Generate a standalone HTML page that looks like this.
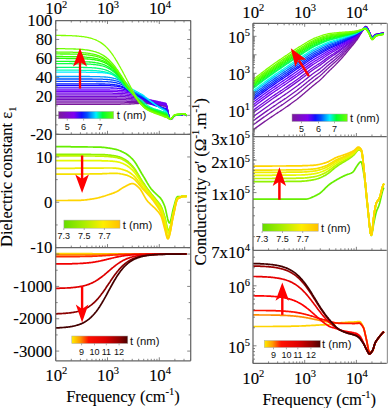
<!DOCTYPE html>
<html><head><meta charset="utf-8"><style>
html,body{margin:0;padding:0;background:#fff;width:388px;height:408px;overflow:hidden}
svg{display:block}
.tk{font-family:"Liberation Serif",serif;font-size:16.8px;fill:#000;stroke:#000;stroke-width:0.12px}
.tt{font-family:"Liberation Serif",serif;font-size:16.5px;fill:#000;stroke:#000;stroke-width:0.1px}
.sup,.sub{font-size:10.5px}
.cb{font-family:"Liberation Sans",sans-serif;font-size:9px;fill:#111}
.tn{font-family:"Liberation Sans",sans-serif;font-size:11.3px;fill:#111}
</style></head><body>
<svg width="388" height="408" viewBox="0 0 388 408">
<rect width="388" height="408" fill="#fff"/>
<defs>
<clipPath id="cL1"><rect x="55.70" y="20.50" width="135.00" height="113.80"/></clipPath>
<clipPath id="cL2"><rect x="55.70" y="134.30" width="135.00" height="113.30"/></clipPath>
<clipPath id="cL3"><rect x="55.70" y="247.60" width="135.00" height="113.20"/></clipPath>
<clipPath id="cR1"><rect x="253.00" y="23.30" width="133.80" height="113.20"/></clipPath>
<clipPath id="cR2"><rect x="253.00" y="136.50" width="133.80" height="113.80"/></clipPath>
<clipPath id="cR3"><rect x="253.00" y="250.30" width="133.80" height="113.10"/></clipPath>
<linearGradient id="gGY2" x1="0" x2="1" y1="0" y2="0"><stop offset="0.000" stop-color="#66dd00"/><stop offset="0.350" stop-color="#a8ee00"/><stop offset="0.700" stop-color="#ffee00"/><stop offset="1.000" stop-color="#ffc000"/></linearGradient>
<linearGradient id="gRain" x1="0" x2="1" y1="0" y2="0"><stop offset="0.000" stop-color="#7a1a9a"/><stop offset="0.280" stop-color="#8000f0"/><stop offset="0.420" stop-color="#1010ff"/><stop offset="0.520" stop-color="#0050ff"/><stop offset="0.680" stop-color="#00f0ff"/><stop offset="0.800" stop-color="#00ff30"/><stop offset="1.000" stop-color="#70ff00"/></linearGradient>
<linearGradient id="gGY" x1="0" x2="1" y1="0" y2="0"><stop offset="0.000" stop-color="#66ee00"/><stop offset="0.500" stop-color="#e8fa00"/><stop offset="1.000" stop-color="#ffd400"/></linearGradient>
<linearGradient id="gHot" x1="0" x2="1" y1="0" y2="0"><stop offset="0.000" stop-color="#ffee00"/><stop offset="0.150" stop-color="#ff9900"/><stop offset="0.300" stop-color="#ff1000"/><stop offset="0.600" stop-color="#e00000"/><stop offset="0.850" stop-color="#900000"/><stop offset="1.000" stop-color="#4a0000"/></linearGradient>
</defs>
<path d="M55.7 104.3L56.4 104.3L57.1 104.3L57.8 104.3L58.5 104.3L59.2 104.3L59.9 104.3L60.6 104.3L61.3 104.3L62.0 104.3L62.7 104.3L63.4 104.3L64.1 104.3L64.8 104.3L65.5 104.3L66.2 104.3L66.9 104.3L67.6 104.3L68.3 104.3L69.0 104.3L69.7 104.3L70.4 104.3L71.1 104.3L71.8 104.3L72.5 104.3L73.2 104.3L73.9 104.3L74.6 104.3L75.3 104.3L76.0 104.3L76.7 104.3L77.4 104.3L78.1 104.3L78.8 104.3L79.5 104.3L80.2 104.3L80.9 104.3L81.6 104.3L82.3 104.3L83.0 104.3L83.7 104.3L84.4 104.3L85.1 104.3L85.8 104.3L86.5 104.3L87.2 104.3L87.9 104.3L88.6 104.3L89.3 104.3L90.0 104.3L90.7 104.3L91.4 104.3L92.1 104.3L92.8 104.3L93.5 104.3L94.2 104.3L94.9 104.3L95.6 104.3L96.3 104.3L97.0 104.3L97.7 104.3L98.4 104.3L99.1 104.3L99.8 104.3L100.5 104.3L101.2 104.3L101.9 104.3L102.6 104.3L103.3 104.3L104.0 104.3L104.7 104.3L105.4 104.3L106.1 104.3L106.8 104.3L107.5 104.3L108.2 104.3L108.9 104.3L109.6 104.3L110.3 104.3L111.0 104.3L111.7 104.3L112.4 104.3L113.1 104.3L113.8 104.3L114.5 104.3L115.2 104.3L115.9 104.3L116.6 104.3L117.3 104.3L118.0 104.3L118.7 104.3L119.4 104.3L120.1 104.3L120.8 104.2L121.5 104.2L122.2 104.2L122.9 104.2L123.6 104.2L124.3 104.2L125.0 104.2L125.7 104.2L126.4 104.1L127.1 104.1L127.8 104.1L128.5 104.1L129.2 104.0L129.9 104.0L130.6 104.0L131.3 103.9L132.0 103.9L132.7 103.9L133.4 103.8L134.1 103.8L134.8 103.7L135.5 103.7L136.2 103.6L136.9 103.6L137.6 103.5L138.3 103.5L139.0 103.4L139.7 103.3L140.4 103.3L141.1 103.2L141.8 103.2L142.5 103.2L143.2 103.2L143.9 103.3L144.6 103.3L145.3 103.4L146.0 103.5L146.7 103.6L147.4 103.6L148.1 103.7L148.8 103.8L149.5 103.9L150.2 104.0L150.9 104.1L151.6 104.2L152.3 104.3L153.0 104.4L153.7 104.6L154.4 104.7L155.1 104.8L155.8 104.9L156.5 105.0L157.2 105.1L157.9 105.2L158.6 105.3L159.3 105.4L160.0 105.5L160.7 105.6L161.4 105.7L162.1 105.8L162.8 105.9L163.5 106.0L164.2 106.1L164.9 106.2L165.6 106.3L166.3 107.1L167.0 109.1L167.7 112.0L168.4 114.8L169.1 117.3L169.8 119.0L170.5 119.5L171.2 119.2L171.9 118.7L172.6 117.9L173.3 117.0L174.0 116.3L174.7 115.7L175.4 115.4L176.1 115.3L176.8 115.3L177.5 115.2L178.2 115.2L178.9 115.1L179.6 115.1L180.3 115.1L181.0 115.0L181.7 114.9L182.4 114.7L183.1 114.5L183.8 114.4L184.5 114.4L185.2 114.8L185.9 115.3L186.6 115.8" stroke="#7a1a9a" stroke-width="1.30" fill="none" clip-path="url(#cL1)" stroke-linejoin="round"/>
<path d="M55.7 102.8L56.4 102.8L57.1 102.8L57.8 102.8L58.5 102.8L59.2 102.8L59.9 102.8L60.6 102.8L61.3 102.8L62.0 102.8L62.7 102.8L63.4 102.8L64.1 102.8L64.8 102.8L65.5 102.8L66.2 102.8L66.9 102.8L67.6 102.8L68.3 102.8L69.0 102.8L69.7 102.8L70.4 102.8L71.1 102.8L71.8 102.8L72.5 102.8L73.2 102.8L73.9 102.8L74.6 102.8L75.3 102.8L76.0 102.8L76.7 102.8L77.4 102.8L78.1 102.8L78.8 102.8L79.5 102.8L80.2 102.8L80.9 102.8L81.6 102.8L82.3 102.8L83.0 102.8L83.7 102.8L84.4 102.8L85.1 102.8L85.8 102.8L86.5 102.8L87.2 102.8L87.9 102.8L88.6 102.8L89.3 102.8L90.0 102.8L90.7 102.8L91.4 102.8L92.1 102.8L92.8 102.8L93.5 102.8L94.2 102.8L94.9 102.8L95.6 102.8L96.3 102.8L97.0 102.8L97.7 102.8L98.4 102.8L99.1 102.8L99.8 102.8L100.5 102.8L101.2 102.8L101.9 102.8L102.6 102.8L103.3 102.8L104.0 102.8L104.7 102.8L105.4 102.8L106.1 102.8L106.8 102.8L107.5 102.8L108.2 102.8L108.9 102.8L109.6 102.8L110.3 102.8L111.0 102.8L111.7 102.8L112.4 102.8L113.1 102.8L113.8 102.8L114.5 102.8L115.2 102.8L115.9 102.8L116.6 102.8L117.3 102.8L118.0 102.8L118.7 102.8L119.4 102.8L120.1 102.8L120.8 102.8L121.5 102.8L122.2 102.8L122.9 102.8L123.6 102.8L124.3 102.8L125.0 102.7L125.7 102.7L126.4 102.7L127.1 102.7L127.8 102.7L128.5 102.7L129.2 102.7L129.9 102.7L130.6 102.7L131.3 102.7L132.0 102.6L132.7 102.6L133.4 102.6L134.1 102.6L134.8 102.6L135.5 102.5L136.2 102.5L136.9 102.5L137.6 102.5L138.3 102.5L139.0 102.4L139.7 102.4L140.4 102.4L141.1 102.4L141.8 102.4L142.5 102.4L143.2 102.5L143.9 102.6L144.6 102.6L145.3 102.7L146.0 102.8L146.7 102.9L147.4 103.1L148.1 103.2L148.8 103.3L149.5 103.4L150.2 103.5L150.9 103.6L151.6 103.7L152.3 103.8L153.0 103.9L153.7 104.1L154.4 104.2L155.1 104.3L155.8 104.4L156.5 104.5L157.2 104.6L157.9 104.7L158.6 104.8L159.3 104.9L160.0 105.1L160.7 105.2L161.4 105.3L162.1 105.4L162.8 105.5L163.5 105.6L164.2 105.7L164.9 105.9L165.6 106.0L166.3 106.7L167.0 108.8L167.7 111.7L168.4 114.7L169.1 117.2L169.8 119.0L170.5 119.4L171.2 119.2L171.9 118.6L172.6 117.9L173.3 117.0L174.0 116.2L174.7 115.7L175.4 115.4L176.1 115.3L176.8 115.2L177.5 115.2L178.2 115.2L178.9 115.1L179.6 115.1L180.3 115.0L181.0 115.0L181.7 114.8L182.4 114.7L183.1 114.5L183.8 114.4L184.5 114.4L185.2 114.8L185.9 115.3L186.6 115.7" stroke="#7917a5" stroke-width="1.30" fill="none" clip-path="url(#cL1)" stroke-linejoin="round"/>
<path d="M55.7 101.2L56.4 101.2L57.1 101.2L57.8 101.2L58.5 101.2L59.2 101.2L59.9 101.2L60.6 101.2L61.3 101.2L62.0 101.2L62.7 101.2L63.4 101.2L64.1 101.2L64.8 101.2L65.5 101.2L66.2 101.2L66.9 101.2L67.6 101.2L68.3 101.2L69.0 101.2L69.7 101.2L70.4 101.2L71.1 101.2L71.8 101.2L72.5 101.2L73.2 101.2L73.9 101.2L74.6 101.2L75.3 101.2L76.0 101.2L76.7 101.2L77.4 101.2L78.1 101.2L78.8 101.2L79.5 101.2L80.2 101.2L80.9 101.2L81.6 101.2L82.3 101.2L83.0 101.2L83.7 101.2L84.4 101.2L85.1 101.2L85.8 101.2L86.5 101.2L87.2 101.2L87.9 101.2L88.6 101.2L89.3 101.2L90.0 101.2L90.7 101.2L91.4 101.2L92.1 101.2L92.8 101.2L93.5 101.2L94.2 101.2L94.9 101.2L95.6 101.2L96.3 101.2L97.0 101.2L97.7 101.2L98.4 101.2L99.1 101.2L99.8 101.2L100.5 101.2L101.2 101.2L101.9 101.2L102.6 101.2L103.3 101.2L104.0 101.2L104.7 101.2L105.4 101.2L106.1 101.2L106.8 101.2L107.5 101.2L108.2 101.2L108.9 101.2L109.6 101.2L110.3 101.2L111.0 101.2L111.7 101.2L112.4 101.2L113.1 101.2L113.8 101.2L114.5 101.2L115.2 101.2L115.9 101.2L116.6 101.2L117.3 101.2L118.0 101.2L118.7 101.2L119.4 101.2L120.1 101.2L120.8 101.2L121.5 101.2L122.2 101.2L122.9 101.2L123.6 101.2L124.3 101.2L125.0 101.2L125.7 101.2L126.4 101.2L127.1 101.3L127.8 101.3L128.5 101.3L129.2 101.3L129.9 101.3L130.6 101.3L131.3 101.3L132.0 101.3L132.7 101.3L133.4 101.3L134.1 101.4L134.8 101.4L135.5 101.4L136.2 101.4L136.9 101.4L137.6 101.4L138.3 101.4L139.0 101.5L139.7 101.5L140.4 101.5L141.1 101.5L141.8 101.5L142.5 101.6L143.2 101.7L143.9 101.8L144.6 101.9L145.3 102.1L146.0 102.2L146.7 102.3L147.4 102.5L148.1 102.6L148.8 102.7L149.5 102.9L150.2 103.0L150.9 103.1L151.6 103.2L152.3 103.3L153.0 103.4L153.7 103.6L154.4 103.7L155.1 103.8L155.8 103.9L156.5 104.0L157.2 104.2L157.9 104.3L158.6 104.4L159.3 104.5L160.0 104.6L160.7 104.7L161.4 104.9L162.1 105.0L162.8 105.1L163.5 105.2L164.2 105.3L164.9 105.5L165.6 105.6L166.3 106.3L167.0 108.5L167.7 111.5L168.4 114.5L169.1 117.1L169.8 118.9L170.5 119.4L171.2 119.2L171.9 118.6L172.6 117.8L173.3 117.0L174.0 116.2L174.7 115.6L175.4 115.3L176.1 115.3L176.8 115.2L177.5 115.2L178.2 115.1L178.9 115.1L179.6 115.1L180.3 115.0L181.0 114.9L181.7 114.8L182.4 114.6L183.1 114.5L183.8 114.4L184.5 114.4L185.2 114.7L185.9 115.3L186.6 115.7" stroke="#7814b0" stroke-width="1.30" fill="none" clip-path="url(#cL1)" stroke-linejoin="round"/>
<path d="M55.7 99.6L56.4 99.6L57.1 99.6L57.8 99.6L58.5 99.6L59.2 99.6L59.9 99.6L60.6 99.6L61.3 99.6L62.0 99.6L62.7 99.6L63.4 99.6L64.1 99.6L64.8 99.6L65.5 99.6L66.2 99.6L66.9 99.6L67.6 99.6L68.3 99.6L69.0 99.6L69.7 99.6L70.4 99.6L71.1 99.6L71.8 99.6L72.5 99.6L73.2 99.6L73.9 99.6L74.6 99.6L75.3 99.6L76.0 99.6L76.7 99.6L77.4 99.6L78.1 99.6L78.8 99.6L79.5 99.6L80.2 99.6L80.9 99.6L81.6 99.6L82.3 99.6L83.0 99.6L83.7 99.6L84.4 99.6L85.1 99.6L85.8 99.6L86.5 99.6L87.2 99.6L87.9 99.6L88.6 99.6L89.3 99.6L90.0 99.6L90.7 99.6L91.4 99.6L92.1 99.6L92.8 99.6L93.5 99.6L94.2 99.6L94.9 99.6L95.6 99.6L96.3 99.6L97.0 99.6L97.7 99.6L98.4 99.6L99.1 99.6L99.8 99.6L100.5 99.6L101.2 99.6L101.9 99.6L102.6 99.6L103.3 99.6L104.0 99.6L104.7 99.6L105.4 99.6L106.1 99.6L106.8 99.6L107.5 99.6L108.2 99.6L108.9 99.6L109.6 99.6L110.3 99.6L111.0 99.6L111.7 99.6L112.4 99.6L113.1 99.6L113.8 99.6L114.5 99.6L115.2 99.6L115.9 99.6L116.6 99.6L117.3 99.6L118.0 99.6L118.7 99.6L119.4 99.6L120.1 99.6L120.8 99.7L121.5 99.7L122.2 99.7L122.9 99.7L123.6 99.7L124.3 99.7L125.0 99.7L125.7 99.7L126.4 99.8L127.1 99.8L127.8 99.8L128.5 99.8L129.2 99.9L129.9 99.9L130.6 99.9L131.3 100.0L132.0 100.0L132.7 100.0L133.4 100.1L134.1 100.1L134.8 100.2L135.5 100.2L136.2 100.3L136.9 100.3L137.6 100.4L138.3 100.4L139.0 100.5L139.7 100.5L140.4 100.6L141.1 100.6L141.8 100.7L142.5 100.8L143.2 100.9L143.9 101.1L144.6 101.3L145.3 101.4L146.0 101.6L146.7 101.7L147.4 101.9L148.1 102.0L148.8 102.2L149.5 102.3L150.2 102.4L150.9 102.6L151.6 102.7L152.3 102.8L153.0 102.9L153.7 103.1L154.4 103.2L155.1 103.3L155.8 103.4L156.5 103.6L157.2 103.7L157.9 103.8L158.6 103.9L159.3 104.1L160.0 104.2L160.7 104.3L161.4 104.4L162.1 104.5L162.8 104.7L163.5 104.8L164.2 104.9L164.9 105.1L165.6 105.2L166.3 106.0L167.0 108.1L167.7 111.3L168.4 114.4L169.1 117.1L169.8 118.9L170.5 119.4L171.2 119.1L171.9 118.6L172.6 117.8L173.3 117.0L174.0 116.2L174.7 115.6L175.4 115.3L176.1 115.2L176.8 115.2L177.5 115.1L178.2 115.1L178.9 115.1L179.6 115.0L180.3 115.0L181.0 114.9L181.7 114.8L182.4 114.6L183.1 114.4L183.8 114.3L184.5 114.4L185.2 114.7L185.9 115.2L186.6 115.7" stroke="#7711bb" stroke-width="1.30" fill="none" clip-path="url(#cL1)" stroke-linejoin="round"/>
<path d="M55.7 98.0L56.4 98.0L57.1 98.0L57.8 98.0L58.5 98.0L59.2 98.0L59.9 98.0L60.6 98.0L61.3 98.0L62.0 98.0L62.7 98.0L63.4 98.0L64.1 98.0L64.8 98.0L65.5 98.0L66.2 98.0L66.9 98.0L67.6 98.0L68.3 98.0L69.0 98.0L69.7 98.0L70.4 98.0L71.1 98.0L71.8 98.0L72.5 98.0L73.2 98.0L73.9 98.0L74.6 98.0L75.3 98.0L76.0 98.0L76.7 98.0L77.4 98.0L78.1 98.0L78.8 98.0L79.5 98.0L80.2 98.0L80.9 98.0L81.6 98.0L82.3 98.0L83.0 98.0L83.7 98.0L84.4 98.0L85.1 98.0L85.8 98.0L86.5 98.0L87.2 98.0L87.9 98.0L88.6 98.0L89.3 98.0L90.0 98.0L90.7 98.0L91.4 98.0L92.1 98.0L92.8 98.0L93.5 98.0L94.2 98.0L94.9 98.0L95.6 98.0L96.3 98.0L97.0 98.0L97.7 98.0L98.4 98.0L99.1 98.0L99.8 98.0L100.5 98.0L101.2 98.0L101.9 98.0L102.6 98.0L103.3 98.0L104.0 98.0L104.7 98.0L105.4 98.0L106.1 98.0L106.8 98.0L107.5 98.0L108.2 98.0L108.9 98.0L109.6 98.0L110.3 98.0L111.0 98.0L111.7 98.0L112.4 98.0L113.1 98.0L113.8 98.0L114.5 98.0L115.2 98.0L115.9 98.0L116.6 98.0L117.3 98.1L118.0 98.1L118.7 98.1L119.4 98.1L120.1 98.1L120.8 98.1L121.5 98.1L122.2 98.1L122.9 98.1L123.6 98.2L124.3 98.2L125.0 98.2L125.7 98.2L126.4 98.3L127.1 98.3L127.8 98.4L128.5 98.4L129.2 98.5L129.9 98.5L130.6 98.6L131.3 98.6L132.0 98.7L132.7 98.8L133.4 98.8L134.1 98.9L134.8 99.0L135.5 99.1L136.2 99.2L136.9 99.3L137.6 99.3L138.3 99.4L139.0 99.5L139.7 99.6L140.4 99.7L141.1 99.8L141.8 99.8L142.5 100.0L143.2 100.2L143.9 100.4L144.6 100.6L145.3 100.8L146.0 101.0L146.7 101.1L147.4 101.3L148.1 101.5L148.8 101.6L149.5 101.8L150.2 101.9L150.9 102.1L151.6 102.2L152.3 102.3L153.0 102.5L153.7 102.6L154.4 102.7L155.1 102.8L155.8 103.0L156.5 103.1L157.2 103.2L157.9 103.4L158.6 103.5L159.3 103.6L160.0 103.7L160.7 103.9L161.4 104.0L162.1 104.1L162.8 104.3L163.5 104.4L164.2 104.5L164.9 104.7L165.6 104.8L166.3 105.6L167.0 107.8L167.7 111.1L168.4 114.2L169.1 117.0L169.8 118.9L170.5 119.4L171.2 119.1L171.9 118.5L172.6 117.8L173.3 116.9L174.0 116.2L174.7 115.6L175.4 115.3L176.1 115.2L176.8 115.1L177.5 115.1L178.2 115.1L178.9 115.0L179.6 115.0L180.3 114.9L181.0 114.9L181.7 114.8L182.4 114.6L183.1 114.4L183.8 114.3L184.5 114.3L185.2 114.7L185.9 115.2L186.6 115.6" stroke="#760fc6" stroke-width="1.30" fill="none" clip-path="url(#cL1)" stroke-linejoin="round"/>
<path d="M55.7 96.4L56.4 96.4L57.1 96.4L57.8 96.4L58.5 96.4L59.2 96.4L59.9 96.4L60.6 96.4L61.3 96.4L62.0 96.4L62.7 96.4L63.4 96.4L64.1 96.4L64.8 96.4L65.5 96.4L66.2 96.4L66.9 96.4L67.6 96.4L68.3 96.4L69.0 96.4L69.7 96.4L70.4 96.4L71.1 96.4L71.8 96.4L72.5 96.4L73.2 96.4L73.9 96.4L74.6 96.4L75.3 96.4L76.0 96.4L76.7 96.4L77.4 96.4L78.1 96.4L78.8 96.4L79.5 96.4L80.2 96.4L80.9 96.4L81.6 96.4L82.3 96.4L83.0 96.4L83.7 96.4L84.4 96.4L85.1 96.4L85.8 96.4L86.5 96.4L87.2 96.4L87.9 96.4L88.6 96.4L89.3 96.4L90.0 96.4L90.7 96.4L91.4 96.4L92.1 96.4L92.8 96.4L93.5 96.4L94.2 96.4L94.9 96.4L95.6 96.4L96.3 96.4L97.0 96.4L97.7 96.4L98.4 96.4L99.1 96.4L99.8 96.4L100.5 96.4L101.2 96.4L101.9 96.4L102.6 96.4L103.3 96.4L104.0 96.4L104.7 96.4L105.4 96.4L106.1 96.4L106.8 96.4L107.5 96.4L108.2 96.4L108.9 96.4L109.6 96.4L110.3 96.4L111.0 96.4L111.7 96.4L112.4 96.4L113.1 96.4L113.8 96.4L114.5 96.4L115.2 96.4L115.9 96.5L116.6 96.5L117.3 96.5L118.0 96.5L118.7 96.5L119.4 96.5L120.1 96.5L120.8 96.5L121.5 96.6L122.2 96.6L122.9 96.6L123.6 96.6L124.3 96.7L125.0 96.7L125.7 96.8L126.4 96.8L127.1 96.9L127.8 96.9L128.5 97.0L129.2 97.1L129.9 97.1L130.6 97.2L131.3 97.3L132.0 97.4L132.7 97.5L133.4 97.6L134.1 97.7L134.8 97.8L135.5 98.0L136.2 98.1L136.9 98.2L137.6 98.3L138.3 98.4L139.0 98.6L139.7 98.7L140.4 98.8L141.1 98.9L141.8 99.0L142.5 99.2L143.2 99.4L143.9 99.7L144.6 99.9L145.3 100.1L146.0 100.3L146.7 100.6L147.4 100.7L148.1 100.9L148.8 101.1L149.5 101.2L150.2 101.4L150.9 101.5L151.6 101.7L152.3 101.8L153.0 102.0L153.7 102.1L154.4 102.2L155.1 102.4L155.8 102.5L156.5 102.6L157.2 102.8L157.9 102.9L158.6 103.0L159.3 103.2L160.0 103.3L160.7 103.4L161.4 103.6L162.1 103.7L162.8 103.8L163.5 104.0L164.2 104.1L164.9 104.3L165.6 104.4L166.3 105.2L167.0 107.5L167.7 110.8L168.4 114.1L169.1 116.9L169.8 118.9L170.5 119.4L171.2 119.1L171.9 118.5L172.6 117.7L173.3 116.9L174.0 116.1L174.7 115.5L175.4 115.2L176.1 115.2L176.8 115.1L177.5 115.1L178.2 115.0L178.9 115.0L179.6 115.0L180.3 114.9L181.0 114.8L181.7 114.7L182.4 114.6L183.1 114.4L183.8 114.3L184.5 114.3L185.2 114.6L185.9 115.2L186.6 115.6" stroke="#750cd1" stroke-width="1.30" fill="none" clip-path="url(#cL1)" stroke-linejoin="round"/>
<path d="M55.7 94.8L56.4 94.8L57.1 94.8L57.8 94.8L58.5 94.8L59.2 94.8L59.9 94.8L60.6 94.8L61.3 94.8L62.0 94.8L62.7 94.8L63.4 94.8L64.1 94.8L64.8 94.8L65.5 94.8L66.2 94.8L66.9 94.8L67.6 94.8L68.3 94.8L69.0 94.8L69.7 94.8L70.4 94.8L71.1 94.8L71.8 94.8L72.5 94.8L73.2 94.8L73.9 94.8L74.6 94.8L75.3 94.8L76.0 94.8L76.7 94.8L77.4 94.8L78.1 94.8L78.8 94.8L79.5 94.8L80.2 94.8L80.9 94.8L81.6 94.8L82.3 94.8L83.0 94.8L83.7 94.8L84.4 94.8L85.1 94.8L85.8 94.8L86.5 94.8L87.2 94.8L87.9 94.8L88.6 94.8L89.3 94.8L90.0 94.8L90.7 94.8L91.4 94.8L92.1 94.8L92.8 94.8L93.5 94.8L94.2 94.8L94.9 94.8L95.6 94.8L96.3 94.8L97.0 94.8L97.7 94.8L98.4 94.8L99.1 94.8L99.8 94.8L100.5 94.8L101.2 94.8L101.9 94.8L102.6 94.8L103.3 94.8L104.0 94.8L104.7 94.8L105.4 94.8L106.1 94.8L106.8 94.8L107.5 94.8L108.2 94.8L108.9 94.8L109.6 94.8L110.3 94.8L111.0 94.8L111.7 94.8L112.4 94.8L113.1 94.8L113.8 94.8L114.5 94.9L115.2 94.9L115.9 94.9L116.6 94.9L117.3 94.9L118.0 94.9L118.7 94.9L119.4 94.9L120.1 95.0L120.8 95.0L121.5 95.0L122.2 95.0L122.9 95.1L123.6 95.1L124.3 95.2L125.0 95.2L125.7 95.3L126.4 95.3L127.1 95.4L127.8 95.5L128.5 95.6L129.2 95.7L129.9 95.8L130.6 95.9L131.3 96.0L132.0 96.1L132.7 96.2L133.4 96.4L134.1 96.5L134.8 96.7L135.5 96.8L136.2 97.0L136.9 97.1L137.6 97.3L138.3 97.5L139.0 97.6L139.7 97.8L140.4 97.9L141.1 98.1L141.8 98.2L142.5 98.5L143.2 98.7L143.9 99.0L144.6 99.2L145.3 99.5L146.0 99.7L146.7 100.0L147.4 100.2L148.1 100.4L148.8 100.5L149.5 100.7L150.2 100.9L150.9 101.0L151.6 101.2L152.3 101.3L153.0 101.5L153.7 101.6L154.4 101.7L155.1 101.9L155.8 102.0L156.5 102.2L157.2 102.3L157.9 102.4L158.6 102.6L159.3 102.7L160.0 102.9L160.7 103.0L161.4 103.1L162.1 103.3L162.8 103.4L163.5 103.6L164.2 103.7L164.9 103.9L165.6 104.0L166.3 104.9L167.0 107.2L167.7 110.6L168.4 114.0L169.1 116.9L169.8 118.8L170.5 119.3L171.2 119.1L171.9 118.5L172.6 117.7L173.3 116.9L174.0 116.1L174.7 115.5L175.4 115.2L176.1 115.1L176.8 115.1L177.5 115.0L178.2 115.0L178.9 115.0L179.6 114.9L180.3 114.9L181.0 114.8L181.7 114.7L182.4 114.5L183.1 114.4L183.8 114.2L184.5 114.3L185.2 114.6L185.9 115.1L186.6 115.6" stroke="#7309dd" stroke-width="1.30" fill="none" clip-path="url(#cL1)" stroke-linejoin="round"/>
<path d="M55.7 93.2L56.4 93.2L57.1 93.2L57.8 93.2L58.5 93.2L59.2 93.2L59.9 93.2L60.6 93.2L61.3 93.2L62.0 93.2L62.7 93.2L63.4 93.2L64.1 93.2L64.8 93.2L65.5 93.2L66.2 93.2L66.9 93.2L67.6 93.2L68.3 93.2L69.0 93.2L69.7 93.2L70.4 93.2L71.1 93.2L71.8 93.2L72.5 93.2L73.2 93.2L73.9 93.2L74.6 93.2L75.3 93.2L76.0 93.2L76.7 93.2L77.4 93.2L78.1 93.2L78.8 93.2L79.5 93.2L80.2 93.2L80.9 93.2L81.6 93.2L82.3 93.2L83.0 93.2L83.7 93.2L84.4 93.2L85.1 93.2L85.8 93.2L86.5 93.2L87.2 93.2L87.9 93.2L88.6 93.2L89.3 93.2L90.0 93.2L90.7 93.2L91.4 93.2L92.1 93.2L92.8 93.2L93.5 93.2L94.2 93.2L94.9 93.2L95.6 93.2L96.3 93.2L97.0 93.2L97.7 93.2L98.4 93.2L99.1 93.2L99.8 93.2L100.5 93.2L101.2 93.2L101.9 93.2L102.6 93.2L103.3 93.2L104.0 93.2L104.7 93.2L105.4 93.2L106.1 93.2L106.8 93.2L107.5 93.2L108.2 93.2L108.9 93.2L109.6 93.2L110.3 93.2L111.0 93.2L111.7 93.2L112.4 93.2L113.1 93.3L113.8 93.3L114.5 93.3L115.2 93.3L115.9 93.3L116.6 93.3L117.3 93.3L118.0 93.3L118.7 93.4L119.4 93.4L120.1 93.4L120.8 93.4L121.5 93.5L122.2 93.5L122.9 93.6L123.6 93.6L124.3 93.7L125.0 93.7L125.7 93.8L126.4 93.9L127.1 94.0L127.8 94.1L128.5 94.2L129.2 94.3L129.9 94.4L130.6 94.5L131.3 94.7L132.0 94.8L132.7 95.0L133.4 95.2L134.1 95.4L134.8 95.5L135.5 95.7L136.2 95.9L136.9 96.1L137.6 96.3L138.3 96.5L139.0 96.7L139.7 96.9L140.4 97.1L141.1 97.2L141.8 97.4L142.5 97.7L143.2 98.0L143.9 98.3L144.6 98.6L145.3 98.9L146.0 99.1L146.7 99.4L147.4 99.6L148.1 99.8L148.8 100.0L149.5 100.2L150.2 100.3L150.9 100.5L151.6 100.7L152.3 100.8L153.0 101.0L153.7 101.1L154.4 101.2L155.1 101.4L155.8 101.5L156.5 101.7L157.2 101.8L157.9 102.0L158.6 102.1L159.3 102.3L160.0 102.4L160.7 102.6L161.4 102.7L162.1 102.9L162.8 103.0L163.5 103.2L164.2 103.3L164.9 103.5L165.6 103.6L166.3 104.5L167.0 106.9L167.7 110.4L168.4 113.8L169.1 116.8L169.8 118.8L170.5 119.3L171.2 119.0L171.9 118.4L172.6 117.7L173.3 116.8L174.0 116.1L174.7 115.5L175.4 115.2L176.1 115.1L176.8 115.0L177.5 115.0L178.2 115.0L178.9 114.9L179.6 114.9L180.3 114.8L181.0 114.8L181.7 114.7L182.4 114.5L183.1 114.3L183.8 114.2L184.5 114.2L185.2 114.6L185.9 115.1L186.6 115.5" stroke="#7206e8" stroke-width="1.30" fill="none" clip-path="url(#cL1)" stroke-linejoin="round"/>
<path d="M55.7 91.6L56.4 91.6L57.1 91.6L57.8 91.6L58.5 91.6L59.2 91.6L59.9 91.6L60.6 91.6L61.3 91.6L62.0 91.6L62.7 91.6L63.4 91.6L64.1 91.6L64.8 91.6L65.5 91.6L66.2 91.6L66.9 91.6L67.6 91.6L68.3 91.6L69.0 91.6L69.7 91.6L70.4 91.6L71.1 91.6L71.8 91.6L72.5 91.6L73.2 91.6L73.9 91.6L74.6 91.6L75.3 91.6L76.0 91.6L76.7 91.6L77.4 91.6L78.1 91.6L78.8 91.6L79.5 91.6L80.2 91.6L80.9 91.6L81.6 91.6L82.3 91.6L83.0 91.6L83.7 91.6L84.4 91.6L85.1 91.6L85.8 91.6L86.5 91.6L87.2 91.6L87.9 91.6L88.6 91.6L89.3 91.6L90.0 91.6L90.7 91.6L91.4 91.6L92.1 91.6L92.8 91.6L93.5 91.6L94.2 91.6L94.9 91.6L95.6 91.6L96.3 91.6L97.0 91.6L97.7 91.6L98.4 91.6L99.1 91.6L99.8 91.6L100.5 91.6L101.2 91.6L101.9 91.6L102.6 91.6L103.3 91.6L104.0 91.6L104.7 91.6L105.4 91.6L106.1 91.6L106.8 91.6L107.5 91.6L108.2 91.6L108.9 91.6L109.6 91.6L110.3 91.6L111.0 91.6L111.7 91.6L112.4 91.7L113.1 91.7L113.8 91.7L114.5 91.7L115.2 91.7L115.9 91.7L116.6 91.7L117.3 91.7L118.0 91.8L118.7 91.8L119.4 91.8L120.1 91.9L120.8 91.9L121.5 91.9L122.2 92.0L122.9 92.0L123.6 92.1L124.3 92.2L125.0 92.2L125.7 92.3L126.4 92.4L127.1 92.5L127.8 92.6L128.5 92.8L129.2 92.9L129.9 93.0L130.6 93.2L131.3 93.4L132.0 93.6L132.7 93.8L133.4 94.0L134.1 94.2L134.8 94.4L135.5 94.6L136.2 94.9L136.9 95.1L137.6 95.3L138.3 95.5L139.0 95.8L139.7 96.0L140.4 96.2L141.1 96.4L141.8 96.6L142.5 96.9L143.2 97.3L143.9 97.6L144.6 97.9L145.3 98.3L146.0 98.5L146.7 98.8L147.4 99.1L148.1 99.3L148.8 99.5L149.5 99.6L150.2 99.8L150.9 100.0L151.6 100.1L152.3 100.3L153.0 100.5L153.7 100.6L154.4 100.8L155.1 100.9L155.8 101.1L156.5 101.2L157.2 101.4L157.9 101.5L158.6 101.7L159.3 101.8L160.0 102.0L160.7 102.1L161.4 102.3L162.1 102.4L162.8 102.6L163.5 102.8L164.2 102.9L164.9 103.1L165.6 103.2L166.3 104.1L167.0 106.6L167.7 110.2L168.4 113.7L169.1 116.7L169.8 118.8L170.5 119.3L171.2 119.0L171.9 118.4L172.6 117.6L173.3 116.8L174.0 116.0L174.7 115.4L175.4 115.2L176.1 115.1L176.8 115.0L177.5 115.0L178.2 114.9L178.9 114.9L179.6 114.9L180.3 114.8L181.0 114.8L181.7 114.6L182.4 114.5L183.1 114.3L183.8 114.2L184.5 114.2L185.2 114.5L185.9 115.1L186.6 115.5" stroke="#7103f3" stroke-width="1.30" fill="none" clip-path="url(#cL1)" stroke-linejoin="round"/>
<path d="M55.7 90.0L56.4 90.0L57.1 90.0L57.8 90.0L58.5 90.0L59.2 90.0L59.9 90.0L60.6 90.0L61.3 90.0L62.0 90.0L62.7 90.0L63.4 90.0L64.1 90.0L64.8 90.0L65.5 90.0L66.2 90.0L66.9 90.0L67.6 90.0L68.3 90.0L69.0 90.0L69.7 90.0L70.4 90.0L71.1 90.0L71.8 90.0L72.5 90.0L73.2 90.0L73.9 90.0L74.6 90.0L75.3 90.0L76.0 90.0L76.7 90.0L77.4 90.0L78.1 90.0L78.8 90.0L79.5 90.0L80.2 90.0L80.9 90.0L81.6 90.0L82.3 90.0L83.0 90.0L83.7 90.0L84.4 90.0L85.1 90.0L85.8 90.0L86.5 90.0L87.2 90.0L87.9 90.0L88.6 90.0L89.3 90.0L90.0 90.0L90.7 90.0L91.4 90.0L92.1 90.0L92.8 90.0L93.5 90.0L94.2 90.0L94.9 90.0L95.6 90.0L96.3 90.0L97.0 90.0L97.7 90.0L98.4 90.0L99.1 90.0L99.8 90.0L100.5 90.0L101.2 90.0L101.9 90.0L102.6 90.0L103.3 90.0L104.0 90.0L104.7 90.0L105.4 90.0L106.1 90.0L106.8 90.0L107.5 90.0L108.2 90.0L108.9 90.0L109.6 90.0L110.3 90.1L111.0 90.1L111.7 90.1L112.4 90.1L113.1 90.1L113.8 90.1L114.5 90.1L115.2 90.1L115.9 90.2L116.6 90.2L117.3 90.2L118.0 90.3L118.7 90.3L119.4 90.3L120.1 90.4L120.8 90.4L121.5 90.5L122.2 90.6L122.9 90.7L123.6 90.7L124.3 90.9L125.0 91.0L125.7 91.1L126.4 91.2L127.1 91.4L127.8 91.6L128.5 91.8L129.2 92.0L129.9 92.2L130.6 92.5L131.3 92.7L132.0 93.0L132.7 93.3L133.4 93.6L134.1 93.9L134.8 94.3L135.5 94.6L136.2 94.9L136.9 95.3L137.6 95.6L138.3 96.0L139.0 96.3L139.7 96.6L140.4 97.0L141.1 97.3L141.8 97.6L142.5 98.0L143.2 98.5L143.9 98.9L144.6 99.3L145.3 99.7L146.0 100.1L146.7 100.4L147.4 100.7L148.1 100.9L148.8 101.1L149.5 101.3L150.2 101.5L150.9 101.7L151.6 101.9L152.3 102.0L153.0 102.2L153.7 102.4L154.4 102.5L155.1 102.7L155.8 102.8L156.5 103.0L157.2 103.1L157.9 103.3L158.6 103.5L159.3 103.6L160.0 103.8L160.7 103.9L161.4 104.1L162.1 104.3L162.8 104.4L163.5 104.6L164.2 104.8L164.9 104.9L165.6 105.0L166.3 105.9L167.0 108.1L167.7 111.2L168.4 114.3L169.1 117.0L169.8 118.8L170.5 119.3L171.2 119.0L171.9 118.4L172.6 117.6L173.3 116.8L174.0 116.0L174.7 115.4L175.4 115.1L176.1 115.0L176.8 115.0L177.5 114.9L178.2 114.9L178.9 114.9L179.6 114.8L180.3 114.8L181.0 114.7L181.7 114.6L182.4 114.4L183.1 114.3L183.8 114.1L184.5 114.2L185.2 114.5L185.9 115.0L186.6 115.5" stroke="#7000fe" stroke-width="1.30" fill="none" clip-path="url(#cL1)" stroke-linejoin="round"/>
<path d="M55.7 87.8L56.4 87.8L57.1 87.8L57.8 87.8L58.5 87.8L59.2 87.8L59.9 87.8L60.6 87.8L61.3 87.8L62.0 87.8L62.7 87.8L63.4 87.8L64.1 87.8L64.8 87.8L65.5 87.8L66.2 87.8L66.9 87.8L67.6 87.8L68.3 87.8L69.0 87.8L69.7 87.8L70.4 87.8L71.1 87.8L71.8 87.8L72.5 87.8L73.2 87.8L73.9 87.8L74.6 87.8L75.3 87.8L76.0 87.8L76.7 87.8L77.4 87.8L78.1 87.8L78.8 87.8L79.5 87.8L80.2 87.8L80.9 87.8L81.6 87.8L82.3 87.8L83.0 87.8L83.7 87.8L84.4 87.8L85.1 87.8L85.8 87.8L86.5 87.8L87.2 87.8L87.9 87.8L88.6 87.8L89.3 87.8L90.0 87.8L90.7 87.8L91.4 87.8L92.1 87.8L92.8 87.8L93.5 87.8L94.2 87.8L94.9 87.8L95.6 87.8L96.3 87.8L97.0 87.8L97.7 87.8L98.4 87.8L99.1 87.8L99.8 87.8L100.5 87.8L101.2 87.8L101.9 87.8L102.6 87.8L103.3 87.8L104.0 87.8L104.7 87.8L105.4 87.9L106.1 87.9L106.8 87.9L107.5 87.9L108.2 87.9L108.9 87.9L109.6 87.9L110.3 87.9L111.0 88.0L111.7 88.0L112.4 88.0L113.1 88.0L113.8 88.1L114.5 88.1L115.2 88.1L115.9 88.2L116.6 88.2L117.3 88.3L118.0 88.4L118.7 88.4L119.4 88.5L120.1 88.6L120.8 88.7L121.5 88.9L122.2 89.0L122.9 89.2L123.6 89.3L124.3 89.5L125.0 89.7L125.7 90.0L126.4 90.2L127.1 90.5L127.8 90.8L128.5 91.2L129.2 91.5L129.9 91.9L130.6 92.3L131.3 92.8L132.0 93.2L132.7 93.7L133.4 94.2L134.1 94.7L134.8 95.2L135.5 95.5L136.2 95.9L136.9 96.2L137.6 96.5L138.3 96.8L139.0 97.1L139.7 97.5L140.4 97.8L141.1 98.1L141.8 98.4L142.5 98.8L143.2 99.3L143.9 99.7L144.6 100.2L145.3 100.6L146.0 101.1L146.7 101.5L147.4 101.9L148.1 102.4L148.8 102.8L149.5 103.2L150.2 103.6L150.9 103.9L151.6 104.3L152.3 104.6L153.0 104.9L153.7 105.2L154.4 105.4L155.1 105.6L155.8 105.9L156.5 106.1L157.2 106.3L157.9 106.4L158.6 106.6L159.3 106.8L160.0 107.0L160.7 107.1L161.4 107.3L162.1 107.5L162.8 107.7L163.5 107.8L164.2 108.0L164.9 108.2L165.6 108.3L166.3 109.0L167.0 110.6L167.7 113.1L168.4 115.5L169.1 117.5L169.8 118.9L170.5 119.2L171.2 119.0L171.9 118.4L172.6 117.6L173.3 116.7L174.0 116.0L174.7 115.4L175.4 115.1L176.1 115.0L176.8 115.0L177.5 114.9L178.2 114.9L178.9 114.8L179.6 114.8L180.3 114.8L181.0 114.7L181.7 114.6L182.4 114.4L183.1 114.2L183.8 114.1L184.5 114.1L185.2 114.5L185.9 115.0L186.6 115.5" stroke="#4100ff" stroke-width="1.30" fill="none" clip-path="url(#cL1)" stroke-linejoin="round"/>
<path d="M55.7 85.5L56.4 85.5L57.1 85.5L57.8 85.5L58.5 85.5L59.2 85.5L59.9 85.5L60.6 85.5L61.3 85.5L62.0 85.5L62.7 85.5L63.4 85.5L64.1 85.5L64.8 85.5L65.5 85.5L66.2 85.5L66.9 85.5L67.6 85.5L68.3 85.5L69.0 85.5L69.7 85.5L70.4 85.5L71.1 85.5L71.8 85.5L72.5 85.5L73.2 85.5L73.9 85.5L74.6 85.5L75.3 85.5L76.0 85.5L76.7 85.5L77.4 85.5L78.1 85.5L78.8 85.5L79.5 85.5L80.2 85.5L80.9 85.5L81.6 85.5L82.3 85.5L83.0 85.5L83.7 85.5L84.4 85.5L85.1 85.5L85.8 85.5L86.5 85.5L87.2 85.5L87.9 85.5L88.6 85.5L89.3 85.5L90.0 85.5L90.7 85.5L91.4 85.5L92.1 85.5L92.8 85.5L93.5 85.5L94.2 85.5L94.9 85.5L95.6 85.5L96.3 85.5L97.0 85.5L97.7 85.5L98.4 85.5L99.1 85.5L99.8 85.5L100.5 85.5L101.2 85.5L101.9 85.6L102.6 85.6L103.3 85.6L104.0 85.6L104.7 85.6L105.4 85.6L106.1 85.6L106.8 85.6L107.5 85.6L108.2 85.7L108.9 85.7L109.6 85.7L110.3 85.7L111.0 85.8L111.7 85.8L112.4 85.8L113.1 85.9L113.8 85.9L114.5 86.0L115.2 86.1L115.9 86.1L116.6 86.2L117.3 86.3L118.0 86.4L118.7 86.6L119.4 86.7L120.1 86.8L120.8 87.0L121.5 87.2L122.2 87.4L122.9 87.6L123.6 87.9L124.3 88.1L125.0 88.4L125.7 88.8L126.4 89.1L127.1 89.5L127.8 89.9L128.5 90.4L129.2 90.8L129.9 91.3L130.6 91.8L131.3 92.3L132.0 92.9L132.7 93.4L133.4 94.0L134.1 94.4L134.8 94.7L135.5 95.0L136.2 95.2L136.9 95.5L137.6 95.8L138.3 96.0L139.0 96.3L139.7 96.6L140.4 96.8L141.1 97.1L141.8 97.3L142.5 97.7L143.2 98.1L143.9 98.5L144.6 98.9L145.3 99.3L146.0 99.7L146.7 100.1L147.4 100.5L148.1 100.9L148.8 101.3L149.5 101.7L150.2 102.1L150.9 102.5L151.6 102.9L152.3 103.3L153.0 103.7L153.7 104.1L154.4 104.4L155.1 104.8L155.8 105.2L156.5 105.5L157.2 105.8L157.9 106.1L158.6 106.4L159.3 106.7L160.0 107.0L160.7 107.2L161.4 107.5L162.1 107.7L162.8 107.9L163.5 108.2L164.2 108.4L164.9 108.6L165.6 108.8L166.3 109.5L167.0 111.1L167.7 113.4L168.4 115.7L169.1 117.6L169.8 118.9L170.5 119.2L171.2 118.9L171.9 118.3L172.6 117.5L173.3 116.7L174.0 115.9L174.7 115.3L175.4 115.1L176.1 115.0L176.8 114.9L177.5 114.9L178.2 114.8L178.9 114.8L179.6 114.8L180.3 114.7L181.0 114.7L181.7 114.5L182.4 114.4L183.1 114.2L183.8 114.1L184.5 114.1L185.2 114.5L185.9 115.0L186.6 115.4" stroke="#1002ff" stroke-width="1.30" fill="none" clip-path="url(#cL1)" stroke-linejoin="round"/>
<path d="M55.7 83.9L56.4 83.9L57.1 83.9L57.8 83.9L58.5 83.9L59.2 83.9L59.9 83.9L60.6 83.9L61.3 83.9L62.0 83.9L62.7 83.9L63.4 83.9L64.1 83.9L64.8 83.9L65.5 83.9L66.2 83.9L66.9 83.9L67.6 83.9L68.3 83.9L69.0 83.9L69.7 83.9L70.4 83.9L71.1 83.9L71.8 83.9L72.5 83.9L73.2 83.9L73.9 83.9L74.6 83.9L75.3 83.9L76.0 83.9L76.7 83.9L77.4 83.9L78.1 83.9L78.8 83.9L79.5 83.9L80.2 83.9L80.9 83.9L81.6 83.9L82.3 83.9L83.0 83.9L83.7 83.9L84.4 83.9L85.1 83.9L85.8 83.9L86.5 83.9L87.2 83.9L87.9 83.9L88.6 83.9L89.3 83.9L90.0 83.9L90.7 83.9L91.4 83.9L92.1 83.9L92.8 83.9L93.5 83.9L94.2 83.9L94.9 83.9L95.6 83.9L96.3 83.9L97.0 83.9L97.7 83.9L98.4 83.9L99.1 84.0L99.8 84.0L100.5 84.0L101.2 84.0L101.9 84.0L102.6 84.0L103.3 84.0L104.0 84.0L104.7 84.0L105.4 84.1L106.1 84.1L106.8 84.1L107.5 84.1L108.2 84.2L108.9 84.2L109.6 84.2L110.3 84.3L111.0 84.3L111.7 84.4L112.4 84.4L113.1 84.5L113.8 84.6L114.5 84.7L115.2 84.8L115.9 84.9L116.6 85.0L117.3 85.1L118.0 85.3L118.7 85.4L119.4 85.6L120.1 85.8L120.8 86.0L121.5 86.3L122.2 86.5L122.9 86.8L123.6 87.2L124.3 87.5L125.0 87.9L125.7 88.3L126.4 88.7L127.1 89.2L127.8 89.6L128.5 90.1L129.2 90.7L129.9 91.2L130.6 91.8L131.3 92.4L132.0 93.0L132.7 93.6L133.4 93.9L134.1 94.1L134.8 94.4L135.5 94.6L136.2 94.8L136.9 95.1L137.6 95.3L138.3 95.6L139.0 95.8L139.7 96.1L140.4 96.3L141.1 96.5L141.8 96.8L142.5 97.1L143.2 97.5L143.9 97.8L144.6 98.2L145.3 98.6L146.0 99.0L146.7 99.3L147.4 99.7L148.1 100.1L148.8 100.5L149.5 100.9L150.2 101.3L150.9 101.7L151.6 102.1L152.3 102.5L153.0 102.9L153.7 103.3L154.4 103.7L155.1 104.0L155.8 104.4L156.5 104.8L157.2 105.2L157.9 105.5L158.6 105.9L159.3 106.2L160.0 106.6L160.7 106.9L161.4 107.2L162.1 107.5L162.8 107.8L163.5 108.2L164.2 108.5L164.9 108.9L165.6 109.2L166.3 109.9L167.0 111.5L167.7 113.7L168.4 115.8L169.1 117.7L169.8 118.9L170.5 119.2L171.2 118.9L171.9 118.3L172.6 117.5L173.3 116.7L174.0 115.9L174.7 115.3L175.4 115.0L176.1 115.0L176.8 114.9L177.5 114.8L178.2 114.8L178.9 114.8L179.6 114.7L180.3 114.7L181.0 114.6L181.7 114.5L182.4 114.3L183.1 114.2L183.8 114.1L184.5 114.1L185.2 114.4L185.9 114.9L186.6 115.4" stroke="#0b1fff" stroke-width="1.30" fill="none" clip-path="url(#cL1)" stroke-linejoin="round"/>
<path d="M55.7 81.4L56.4 81.4L57.1 81.4L57.8 81.4L58.5 81.4L59.2 81.4L59.9 81.4L60.6 81.4L61.3 81.4L62.0 81.4L62.7 81.4L63.4 81.4L64.1 81.4L64.8 81.4L65.5 81.4L66.2 81.4L66.9 81.4L67.6 81.4L68.3 81.4L69.0 81.4L69.7 81.4L70.4 81.4L71.1 81.4L71.8 81.4L72.5 81.4L73.2 81.4L73.9 81.4L74.6 81.4L75.3 81.4L76.0 81.4L76.7 81.4L77.4 81.4L78.1 81.4L78.8 81.4L79.5 81.4L80.2 81.4L80.9 81.4L81.6 81.4L82.3 81.4L83.0 81.4L83.7 81.4L84.4 81.4L85.1 81.4L85.8 81.4L86.5 81.4L87.2 81.4L87.9 81.4L88.6 81.4L89.3 81.4L90.0 81.4L90.7 81.4L91.4 81.4L92.1 81.4L92.8 81.4L93.5 81.4L94.2 81.4L94.9 81.4L95.6 81.4L96.3 81.5L97.0 81.5L97.7 81.5L98.4 81.5L99.1 81.5L99.8 81.5L100.5 81.5L101.2 81.5L101.9 81.5L102.6 81.6L103.3 81.6L104.0 81.6L104.7 81.6L105.4 81.6L106.1 81.7L106.8 81.7L107.5 81.7L108.2 81.8L108.9 81.8L109.6 81.9L110.3 81.9L111.0 82.0L111.7 82.1L112.4 82.2L113.1 82.3L113.8 82.4L114.5 82.5L115.2 82.6L115.9 82.7L116.6 82.9L117.3 83.1L118.0 83.3L118.7 83.5L119.4 83.7L120.1 84.0L120.8 84.2L121.5 84.5L122.2 84.9L122.9 85.2L123.6 85.6L124.3 86.0L125.0 86.5L125.7 86.9L126.4 87.4L127.1 88.0L127.8 88.5L128.5 89.1L129.2 89.7L129.9 90.3L130.6 90.9L131.3 91.6L132.0 92.2L132.7 92.7L133.4 93.0L134.1 93.3L134.8 93.6L135.5 93.8L136.2 94.1L136.9 94.4L137.6 94.6L138.3 94.9L139.0 95.2L139.7 95.5L140.4 95.7L141.1 96.0L141.8 96.3L142.5 96.6L143.2 97.0L143.9 97.4L144.6 97.9L145.3 98.3L146.0 98.7L146.7 99.1L147.4 99.5L148.1 99.9L148.8 100.4L149.5 100.8L150.2 101.2L150.9 101.6L151.6 102.1L152.3 102.5L153.0 102.9L153.7 103.3L154.4 103.8L155.1 104.2L155.8 104.6L156.5 105.0L157.2 105.4L157.9 105.8L158.6 106.2L159.3 106.6L160.0 106.9L160.7 107.3L161.4 107.6L162.1 107.9L162.8 108.3L163.5 108.6L164.2 109.0L164.9 109.4L165.6 109.7L166.3 110.4L167.0 111.9L167.7 114.0L168.4 116.0L169.1 117.8L169.8 118.9L170.5 119.2L171.2 118.9L171.9 118.3L172.6 117.5L173.3 116.6L174.0 115.9L174.7 115.3L175.4 115.0L176.1 114.9L176.8 114.9L177.5 114.8L178.2 114.8L178.9 114.7L179.6 114.7L180.3 114.7L181.0 114.6L181.7 114.5L182.4 114.3L183.1 114.1L183.8 114.0L184.5 114.0L185.2 114.4L185.9 114.9L186.6 115.4" stroke="#063bff" stroke-width="1.30" fill="none" clip-path="url(#cL1)" stroke-linejoin="round"/>
<path d="M55.7 79.0L56.4 79.0L57.1 79.0L57.8 79.0L58.5 79.0L59.2 79.0L59.9 79.0L60.6 79.0L61.3 79.0L62.0 79.0L62.7 79.0L63.4 79.0L64.1 79.0L64.8 79.0L65.5 79.0L66.2 79.0L66.9 79.0L67.6 79.0L68.3 79.0L69.0 79.0L69.7 79.0L70.4 79.0L71.1 79.0L71.8 79.0L72.5 79.0L73.2 79.0L73.9 79.0L74.6 79.0L75.3 79.0L76.0 79.0L76.7 79.0L77.4 79.0L78.1 79.0L78.8 79.0L79.5 79.0L80.2 79.0L80.9 79.0L81.6 79.0L82.3 79.0L83.0 79.0L83.7 79.0L84.4 79.0L85.1 79.0L85.8 79.0L86.5 79.0L87.2 79.0L87.9 79.0L88.6 79.0L89.3 79.0L90.0 79.0L90.7 79.0L91.4 79.0L92.1 79.0L92.8 79.1L93.5 79.1L94.2 79.1L94.9 79.1L95.6 79.1L96.3 79.1L97.0 79.1L97.7 79.1L98.4 79.1L99.1 79.1L99.8 79.2L100.5 79.2L101.2 79.2L101.9 79.2L102.6 79.2L103.3 79.3L104.0 79.3L104.7 79.3L105.4 79.4L106.1 79.4L106.8 79.5L107.5 79.5L108.2 79.6L108.9 79.6L109.6 79.7L110.3 79.8L111.0 79.9L111.7 80.0L112.4 80.1L113.1 80.2L113.8 80.3L114.5 80.5L115.2 80.7L115.9 80.8L116.6 81.0L117.3 81.2L118.0 81.5L118.7 81.7L119.4 82.0L120.1 82.3L120.8 82.7L121.5 83.0L122.2 83.4L122.9 83.8L123.6 84.3L124.3 84.8L125.0 85.3L125.7 85.8L126.4 86.4L127.1 87.0L127.8 87.6L128.5 88.2L129.2 88.9L129.9 89.6L130.6 90.2L131.3 90.9L132.0 91.6L132.7 91.9L133.4 92.2L134.1 92.5L134.8 92.8L135.5 93.1L136.2 93.4L136.9 93.7L137.6 94.0L138.3 94.3L139.0 94.6L139.7 94.9L140.4 95.2L141.1 95.5L141.8 95.8L142.5 96.2L143.2 96.7L143.9 97.1L144.6 97.5L145.3 98.0L146.0 98.4L146.7 98.9L147.4 99.3L148.1 99.8L148.8 100.2L149.5 100.7L150.2 101.2L150.9 101.6L151.6 102.1L152.3 102.5L153.0 103.0L153.7 103.4L154.4 103.9L155.1 104.3L155.8 104.8L156.5 105.2L157.2 105.6L157.9 106.1L158.6 106.5L159.3 106.9L160.0 107.3L160.7 107.6L161.4 108.0L162.1 108.3L162.8 108.7L163.5 109.0L164.2 109.5L164.9 109.9L165.6 110.2L166.3 110.9L167.0 112.3L167.7 114.3L168.4 116.2L169.1 117.9L169.8 118.9L170.5 119.2L171.2 118.8L171.9 118.2L172.6 117.5L173.3 116.6L174.0 115.8L174.7 115.3L175.4 115.0L176.1 114.9L176.8 114.8L177.5 114.8L178.2 114.8L178.9 114.7L179.6 114.7L180.3 114.6L181.0 114.6L181.7 114.4L182.4 114.3L183.1 114.1L183.8 114.0L184.5 114.0L185.2 114.4L185.9 114.9L186.6 115.3" stroke="#0157ff" stroke-width="1.30" fill="none" clip-path="url(#cL1)" stroke-linejoin="round"/>
<path d="M55.7 76.5L56.4 76.5L57.1 76.5L57.8 76.5L58.5 76.5L59.2 76.5L59.9 76.5L60.6 76.5L61.3 76.5L62.0 76.5L62.7 76.5L63.4 76.5L64.1 76.5L64.8 76.5L65.5 76.5L66.2 76.5L66.9 76.5L67.6 76.5L68.3 76.5L69.0 76.5L69.7 76.5L70.4 76.5L71.1 76.5L71.8 76.5L72.5 76.5L73.2 76.5L73.9 76.5L74.6 76.5L75.3 76.5L76.0 76.5L76.7 76.5L77.4 76.5L78.1 76.5L78.8 76.5L79.5 76.5L80.2 76.5L80.9 76.5L81.6 76.5L82.3 76.5L83.0 76.5L83.7 76.5L84.4 76.5L85.1 76.5L85.8 76.5L86.5 76.5L87.2 76.5L87.9 76.5L88.6 76.5L89.3 76.5L90.0 76.6L90.7 76.6L91.4 76.6L92.1 76.6L92.8 76.6L93.5 76.6L94.2 76.6L94.9 76.6L95.6 76.6L96.3 76.6L97.0 76.7L97.7 76.7L98.4 76.7L99.1 76.7L99.8 76.7L100.5 76.8L101.2 76.8L101.9 76.8L102.6 76.9L103.3 76.9L104.0 76.9L104.7 77.0L105.4 77.0L106.1 77.1L106.8 77.2L107.5 77.2L108.2 77.3L108.9 77.4L109.6 77.5L110.3 77.6L111.0 77.7L111.7 77.8L112.4 78.0L113.1 78.1L113.8 78.3L114.5 78.5L115.2 78.7L115.9 78.9L116.6 79.2L117.3 79.4L118.0 79.7L118.7 80.0L119.4 80.4L120.1 80.7L120.8 81.1L121.5 81.6L122.2 82.0L122.9 82.5L123.6 83.0L124.3 83.6L125.0 84.1L125.7 84.7L126.4 85.4L127.1 86.0L127.8 86.7L128.5 87.4L129.2 88.1L129.9 88.8L130.6 89.6L131.3 90.3L132.0 90.7L132.7 91.1L133.4 91.4L134.1 91.7L134.8 92.1L135.5 92.4L136.2 92.7L136.9 93.1L137.6 93.4L138.3 93.7L139.0 94.1L139.7 94.4L140.4 94.7L141.1 95.1L141.8 95.4L142.5 95.8L143.2 96.3L143.9 96.7L144.6 97.2L145.3 97.7L146.0 98.2L146.7 98.7L147.4 99.1L148.1 99.6L148.8 100.1L149.5 100.6L150.2 101.1L150.9 101.6L151.6 102.1L152.3 102.6L153.0 103.1L153.7 103.5L154.4 104.0L155.1 104.5L155.8 105.0L156.5 105.4L157.2 105.9L157.9 106.3L158.6 106.8L159.3 107.2L160.0 107.6L160.7 108.0L161.4 108.4L162.1 108.7L162.8 109.1L163.5 109.5L164.2 109.9L164.9 110.4L165.6 110.7L166.3 111.4L167.0 112.8L167.7 114.6L168.4 116.4L169.1 117.9L169.8 118.9L170.5 119.1L171.2 118.8L171.9 118.2L172.6 117.4L173.3 116.6L174.0 115.8L174.7 115.2L175.4 114.9L176.1 114.9L176.8 114.8L177.5 114.8L178.2 114.7L178.9 114.7L179.6 114.7L180.3 114.6L181.0 114.5L181.7 114.4L182.4 114.2L183.1 114.1L183.8 114.0L184.5 114.0L185.2 114.3L185.9 114.9L186.6 115.3" stroke="#0099ff" stroke-width="1.30" fill="none" clip-path="url(#cL1)" stroke-linejoin="round"/>
<path d="M55.7 72.2L56.4 72.2L57.1 72.2L57.8 72.2L58.5 72.2L59.2 72.2L59.9 72.2L60.6 72.2L61.3 72.2L62.0 72.2L62.7 72.2L63.4 72.2L64.1 72.2L64.8 72.2L65.5 72.2L66.2 72.2L66.9 72.2L67.6 72.2L68.3 72.2L69.0 72.2L69.7 72.2L70.4 72.2L71.1 72.2L71.8 72.2L72.5 72.2L73.2 72.2L73.9 72.2L74.6 72.2L75.3 72.2L76.0 72.2L76.7 72.2L77.4 72.2L78.1 72.2L78.8 72.2L79.5 72.2L80.2 72.2L80.9 72.2L81.6 72.2L82.3 72.2L83.0 72.2L83.7 72.2L84.4 72.2L85.1 72.2L85.8 72.2L86.5 72.3L87.2 72.3L87.9 72.3L88.6 72.3L89.3 72.3L90.0 72.3L90.7 72.3L91.4 72.3L92.1 72.3L92.8 72.3L93.5 72.3L94.2 72.4L94.9 72.4L95.6 72.4L96.3 72.4L97.0 72.4L97.7 72.5L98.4 72.5L99.1 72.5L99.8 72.6L100.5 72.6L101.2 72.6L101.9 72.7L102.6 72.7L103.3 72.8L104.0 72.8L104.7 72.9L105.4 73.0L106.1 73.1L106.8 73.2L107.5 73.3L108.2 73.4L108.9 73.5L109.6 73.6L110.3 73.8L111.0 73.9L111.7 74.1L112.4 74.3L113.1 74.5L113.8 74.7L114.5 74.9L115.2 75.2L115.9 75.5L116.6 75.8L117.3 76.1L118.0 76.5L118.7 76.9L119.4 77.3L120.1 77.8L120.8 78.3L121.5 78.8L122.2 79.3L122.9 79.9L123.6 80.5L124.3 81.2L125.0 81.8L125.7 82.5L126.4 83.3L127.1 84.0L127.8 84.8L128.5 85.6L129.2 86.4L129.9 87.2L130.6 88.0L131.3 88.7L132.0 89.1L132.7 89.5L133.4 89.8L134.1 90.2L134.8 90.6L135.5 91.0L136.2 91.4L136.9 91.7L137.6 92.1L138.3 92.5L139.0 92.9L139.7 93.3L140.4 93.6L141.1 94.0L141.8 94.4L142.5 94.9L143.2 95.4L143.9 95.9L144.6 96.4L145.3 97.0L146.0 97.5L146.7 98.0L147.4 98.6L148.1 99.1L148.8 99.7L149.5 100.2L150.2 100.7L150.9 101.3L151.6 101.8L152.3 102.4L153.0 102.9L153.7 103.4L154.4 104.0L155.1 104.5L155.8 105.0L156.5 105.5L157.2 106.0L157.9 106.5L158.6 107.0L159.3 107.4L160.0 107.9L160.7 108.3L161.4 108.7L162.1 109.1L162.8 109.5L163.5 109.9L164.2 110.4L164.9 110.9L165.6 111.3L166.3 111.9L167.0 113.2L167.7 115.0L168.4 116.6L169.1 118.0L169.8 118.9L170.5 119.1L171.2 118.8L171.9 118.2L172.6 117.4L173.3 116.6L174.0 115.8L174.7 115.2L175.4 114.9L176.1 114.8L176.8 114.8L177.5 114.7L178.2 114.7L178.9 114.7L179.6 114.6L180.3 114.6L181.0 114.5L181.7 114.4L182.4 114.2L183.1 114.0L183.8 113.9L184.5 114.0L185.2 114.3L185.9 114.8L186.6 115.3" stroke="#00ebff" stroke-width="1.30" fill="none" clip-path="url(#cL1)" stroke-linejoin="round"/>
<path d="M55.7 70.2L56.4 70.2L57.1 70.2L57.8 70.2L58.5 70.2L59.2 70.2L59.9 70.2L60.6 70.2L61.3 70.2L62.0 70.2L62.7 70.2L63.4 70.2L64.1 70.2L64.8 70.2L65.5 70.2L66.2 70.2L66.9 70.2L67.6 70.2L68.3 70.2L69.0 70.2L69.7 70.2L70.4 70.2L71.1 70.2L71.8 70.2L72.5 70.2L73.2 70.2L73.9 70.2L74.6 70.2L75.3 70.2L76.0 70.2L76.7 70.2L77.4 70.2L78.1 70.2L78.8 70.2L79.5 70.3L80.2 70.3L80.9 70.3L81.6 70.3L82.3 70.3L83.0 70.3L83.7 70.3L84.4 70.3L85.1 70.3L85.8 70.3L86.5 70.3L87.2 70.4L87.9 70.4L88.6 70.4L89.3 70.4L90.0 70.4L90.7 70.5L91.4 70.5L92.1 70.5L92.8 70.5L93.5 70.6L94.2 70.6L94.9 70.6L95.6 70.7L96.3 70.7L97.0 70.8L97.7 70.9L98.4 70.9L99.1 71.0L99.8 71.1L100.5 71.2L101.2 71.3L101.9 71.4L102.6 71.5L103.3 71.6L104.0 71.7L104.7 71.9L105.4 72.0L106.1 72.2L106.8 72.4L107.5 72.6L108.2 72.8L108.9 73.1L109.6 73.4L110.3 73.6L111.0 74.0L111.7 74.3L112.4 74.7L113.1 75.1L113.8 75.5L114.5 75.9L115.2 76.4L115.9 76.9L116.6 77.5L117.3 78.0L118.0 78.6L118.7 79.3L119.4 79.9L120.1 80.6L120.8 81.4L121.5 82.1L122.2 82.9L122.9 83.7L123.6 84.5L124.3 85.3L125.0 86.2L125.7 87.0L126.4 87.8L127.1 88.4L127.8 89.0L128.5 89.6L129.2 90.2L129.9 90.8L130.6 91.4L131.3 92.0L132.0 92.6L132.7 93.2L133.4 93.8L134.1 94.3L134.8 94.9L135.5 95.5L136.2 96.1L136.9 96.7L137.6 97.2L138.3 97.8L139.0 98.4L139.7 98.9L140.4 99.5L141.1 100.0L141.8 100.5L142.5 101.1L143.2 101.8L143.9 102.5L144.6 103.1L145.3 103.7L146.0 104.2L146.7 104.8L147.4 105.3L148.1 105.8L148.8 106.2L149.5 106.6L150.2 107.0L150.9 107.3L151.6 107.7L152.3 108.0L153.0 108.3L153.7 108.5L154.4 108.8L155.1 109.0L155.8 109.3L156.5 109.5L157.2 109.7L157.9 110.0L158.6 110.2L159.3 110.4L160.0 110.6L160.7 110.8L161.4 111.0L162.1 111.3L162.8 111.5L163.5 111.7L164.2 111.9L164.9 112.1L165.6 112.3L166.3 112.7L167.0 113.8L167.7 115.3L168.4 116.8L169.1 118.1L169.8 118.9L170.5 119.1L171.2 118.8L171.9 118.1L172.6 117.4L173.3 116.5L174.0 115.8L174.7 115.2L175.4 114.9L176.1 114.8L176.8 114.7L177.5 114.7L178.2 114.7L178.9 114.6L179.6 114.6L180.3 114.5L181.0 114.5L181.7 114.4L182.4 114.2L183.1 114.0L183.8 113.9L184.5 113.9L185.2 114.3L185.9 114.8L186.6 115.2" stroke="#00ffbc" stroke-width="1.30" fill="none" clip-path="url(#cL1)" stroke-linejoin="round"/>
<path d="M55.7 67.3L56.4 67.3L57.1 67.3L57.8 67.3L58.5 67.3L59.2 67.3L59.9 67.3L60.6 67.3L61.3 67.3L62.0 67.3L62.7 67.3L63.4 67.3L64.1 67.3L64.8 67.3L65.5 67.3L66.2 67.3L66.9 67.3L67.6 67.3L68.3 67.3L69.0 67.3L69.7 67.3L70.4 67.3L71.1 67.3L71.8 67.3L72.5 67.3L73.2 67.3L73.9 67.3L74.6 67.3L75.3 67.4L76.0 67.4L76.7 67.4L77.4 67.4L78.1 67.4L78.8 67.4L79.5 67.4L80.2 67.4L80.9 67.4L81.6 67.4L82.3 67.4L83.0 67.4L83.7 67.5L84.4 67.5L85.1 67.5L85.8 67.5L86.5 67.5L87.2 67.5L87.9 67.6L88.6 67.6L89.3 67.6L90.0 67.7L90.7 67.7L91.4 67.7L92.1 67.8L92.8 67.8L93.5 67.9L94.2 67.9L94.9 68.0L95.6 68.0L96.3 68.1L97.0 68.2L97.7 68.3L98.4 68.4L99.1 68.5L99.8 68.6L100.5 68.7L101.2 68.8L101.9 69.0L102.6 69.1L103.3 69.3L104.0 69.5L104.7 69.7L105.4 69.9L106.1 70.1L106.8 70.4L107.5 70.6L108.2 70.9L108.9 71.3L109.6 71.6L110.3 72.0L111.0 72.4L111.7 72.8L112.4 73.2L113.1 73.7L113.8 74.2L114.5 74.8L115.2 75.3L115.9 75.9L116.6 76.6L117.3 77.3L118.0 78.0L118.7 78.7L119.4 79.4L120.1 80.2L120.8 81.0L121.5 81.9L122.2 82.7L122.9 83.6L123.6 84.5L124.3 85.4L125.0 86.2L125.7 87.0L126.4 87.7L127.1 88.4L127.8 89.1L128.5 89.8L129.2 90.6L129.9 91.3L130.6 92.0L131.3 92.7L132.0 93.4L132.7 94.1L133.4 94.8L134.1 95.5L134.8 96.2L135.5 96.8L136.2 97.5L136.9 98.2L137.6 98.9L138.3 99.5L139.0 100.1L139.7 100.7L140.4 101.3L141.1 101.9L141.8 102.4L142.5 103.0L143.2 103.7L143.9 104.3L144.6 104.8L145.3 105.3L146.0 105.8L146.7 106.3L147.4 106.7L148.1 107.0L148.8 107.4L149.5 107.7L150.2 108.0L150.9 108.3L151.6 108.5L152.3 108.8L153.0 109.0L153.7 109.3L154.4 109.5L155.1 109.7L155.8 109.9L156.5 110.2L157.2 110.4L157.9 110.6L158.6 110.8L159.3 111.0L160.0 111.2L160.7 111.5L161.4 111.7L162.1 111.9L162.8 112.1L163.5 112.3L164.2 112.6L164.9 112.8L165.6 112.9L166.3 113.4L167.0 114.3L167.7 115.7L168.4 117.1L169.1 118.2L169.8 118.9L170.5 119.1L171.2 118.7L171.9 118.1L172.6 117.3L173.3 116.5L174.0 115.7L174.7 115.1L175.4 114.8L176.1 114.8L176.8 114.7L177.5 114.7L178.2 114.6L178.9 114.6L179.6 114.6L180.3 114.5L181.0 114.4L181.7 114.3L182.4 114.2L183.1 114.0L183.8 113.9L184.5 113.9L185.2 114.2L185.9 114.8L186.6 115.2" stroke="#03ff73" stroke-width="1.30" fill="none" clip-path="url(#cL1)" stroke-linejoin="round"/>
<path d="M55.7 63.7L56.4 63.7L57.1 63.7L57.8 63.7L58.5 63.7L59.2 63.7L59.9 63.7L60.6 63.7L61.3 63.7L62.0 63.7L62.7 63.7L63.4 63.7L64.1 63.7L64.8 63.7L65.5 63.7L66.2 63.7L66.9 63.7L67.6 63.7L68.3 63.7L69.0 63.7L69.7 63.7L70.4 63.7L71.1 63.7L71.8 63.7L72.5 63.8L73.2 63.8L73.9 63.8L74.6 63.8L75.3 63.8L76.0 63.8L76.7 63.8L77.4 63.8L78.1 63.8L78.8 63.8L79.5 63.8L80.2 63.8L80.9 63.9L81.6 63.9L82.3 63.9L83.0 63.9L83.7 63.9L84.4 63.9L85.1 64.0L85.8 64.0L86.5 64.0L87.2 64.0L87.9 64.1L88.6 64.1L89.3 64.1L90.0 64.2L90.7 64.2L91.4 64.3L92.1 64.3L92.8 64.4L93.5 64.5L94.2 64.5L94.9 64.6L95.6 64.7L96.3 64.8L97.0 64.9L97.7 65.0L98.4 65.1L99.1 65.2L99.8 65.4L100.5 65.5L101.2 65.7L101.9 65.8L102.6 66.0L103.3 66.2L104.0 66.5L104.7 66.7L105.4 67.0L106.1 67.2L106.8 67.5L107.5 67.9L108.2 68.2L108.9 68.6L109.6 69.0L110.3 69.4L111.0 69.9L111.7 70.3L112.4 70.9L113.1 71.4L113.8 72.0L114.5 72.6L115.2 73.2L115.9 73.9L116.6 74.6L117.3 75.4L118.0 76.1L118.7 76.9L119.4 77.8L120.1 78.6L120.8 79.5L121.5 80.4L122.2 81.3L122.9 82.2L123.6 83.2L124.3 84.1L125.0 85.0L125.7 85.8L126.4 86.6L127.1 87.4L127.8 88.2L128.5 89.0L129.2 89.7L129.9 90.5L130.6 91.3L131.3 92.1L132.0 92.9L132.7 93.6L133.4 94.4L134.1 95.2L134.8 95.9L135.5 96.7L136.2 97.4L136.9 98.2L137.6 98.9L138.3 99.6L139.0 100.3L139.7 100.9L140.4 101.6L141.1 102.2L141.8 102.7L142.5 103.4L143.2 104.1L143.9 104.7L144.6 105.3L145.3 105.8L146.0 106.3L146.7 106.7L147.4 107.2L148.1 107.5L148.8 107.9L149.5 108.2L150.2 108.5L150.9 108.8L151.6 109.1L152.3 109.3L153.0 109.6L153.7 109.8L154.4 110.0L155.1 110.3L155.8 110.5L156.5 110.7L157.2 111.0L157.9 111.2L158.6 111.4L159.3 111.6L160.0 111.8L160.7 112.1L161.4 112.3L162.1 112.5L162.8 112.7L163.5 113.0L164.2 113.2L164.9 113.4L165.6 113.6L166.3 114.0L167.0 114.8L167.7 116.1L168.4 117.3L169.1 118.3L169.8 119.0L170.5 119.1L171.2 118.7L171.9 118.1L172.6 117.3L173.3 116.5L174.0 115.7L174.7 115.1L175.4 114.8L176.1 114.7L176.8 114.7L177.5 114.6L178.2 114.6L178.9 114.6L179.6 114.5L180.3 114.5L181.0 114.4L181.7 114.3L182.4 114.1L183.1 114.0L183.8 113.8L184.5 113.9L185.2 114.2L185.9 114.7L186.6 115.2" stroke="#0eff4a" stroke-width="1.30" fill="none" clip-path="url(#cL1)" stroke-linejoin="round"/>
<path d="M55.7 61.4L56.4 61.4L57.1 61.4L57.8 61.4L58.5 61.4L59.2 61.4L59.9 61.4L60.6 61.4L61.3 61.4L62.0 61.4L62.7 61.4L63.4 61.4L64.1 61.4L64.8 61.4L65.5 61.4L66.2 61.4L66.9 61.4L67.6 61.4L68.3 61.4L69.0 61.4L69.7 61.5L70.4 61.5L71.1 61.5L71.8 61.5L72.5 61.5L73.2 61.5L73.9 61.5L74.6 61.5L75.3 61.5L76.0 61.5L76.7 61.5L77.4 61.5L78.1 61.5L78.8 61.6L79.5 61.6L80.2 61.6L80.9 61.6L81.6 61.6L82.3 61.7L83.0 61.7L83.7 61.7L84.4 61.7L85.1 61.8L85.8 61.8L86.5 61.8L87.2 61.9L87.9 61.9L88.6 61.9L89.3 62.0L90.0 62.0L90.7 62.1L91.4 62.2L92.1 62.2L92.8 62.3L93.5 62.4L94.2 62.5L94.9 62.5L95.6 62.7L96.3 62.8L97.0 62.9L97.7 63.0L98.4 63.1L99.1 63.3L99.8 63.5L100.5 63.6L101.2 63.8L101.9 64.0L102.6 64.2L103.3 64.5L104.0 64.7L104.7 65.0L105.4 65.3L106.1 65.6L106.8 66.0L107.5 66.3L108.2 66.7L108.9 67.1L109.6 67.6L110.3 68.1L111.0 68.6L111.7 69.1L112.4 69.7L113.1 70.2L113.8 70.9L114.5 71.5L115.2 72.2L115.9 72.9L116.6 73.7L117.3 74.5L118.0 75.3L118.7 76.1L119.4 77.0L120.1 77.9L120.8 78.8L121.5 79.7L122.2 80.7L122.9 81.6L123.6 82.6L124.3 83.6L125.0 84.5L125.7 85.3L126.4 86.1L127.1 86.9L127.8 87.8L128.5 88.6L129.2 89.4L129.9 90.3L130.6 91.1L131.3 91.9L132.0 92.7L132.7 93.6L133.4 94.4L134.1 95.2L134.8 96.0L135.5 96.8L136.2 97.6L136.9 98.4L137.6 99.1L138.3 99.9L139.0 100.6L139.7 101.3L140.4 101.9L141.1 102.6L141.8 103.1L142.5 103.8L143.2 104.5L143.9 105.1L144.6 105.7L145.3 106.3L146.0 106.8L146.7 107.2L147.4 107.6L148.1 108.0L148.8 108.3L149.5 108.7L150.2 109.0L150.9 109.3L151.6 109.5L152.3 109.8L153.0 110.0L153.7 110.3L154.4 110.5L155.1 110.8L155.8 111.0L156.5 111.2L157.2 111.5L157.9 111.7L158.6 111.9L159.3 112.1L160.0 112.4L160.7 112.6L161.4 112.8L162.1 113.1L162.8 113.3L163.5 113.5L164.2 113.8L164.9 114.0L165.6 114.2L166.3 114.5L167.0 115.3L167.7 116.4L168.4 117.5L169.1 118.4L169.8 119.0L170.5 119.0L171.2 118.7L171.9 118.1L172.6 117.3L173.3 116.4L174.0 115.7L174.7 115.1L175.4 114.8L176.1 114.7L176.8 114.6L177.5 114.6L178.2 114.6L178.9 114.5L179.6 114.5L180.3 114.4L181.0 114.4L181.7 114.3L182.4 114.1L183.1 113.9L183.8 113.8L184.5 113.8L185.2 114.2L185.9 114.7L186.6 115.1" stroke="#18ff21" stroke-width="1.30" fill="none" clip-path="url(#cL1)" stroke-linejoin="round"/>
<path d="M55.7 58.4L56.4 58.4L57.1 58.4L57.8 58.4L58.5 58.4L59.2 58.4L59.9 58.4L60.6 58.4L61.3 58.4L62.0 58.4L62.7 58.4L63.4 58.4L64.1 58.4L64.8 58.4L65.5 58.4L66.2 58.5L66.9 58.5L67.6 58.5L68.3 58.5L69.0 58.5L69.7 58.5L70.4 58.5L71.1 58.5L71.8 58.5L72.5 58.5L73.2 58.5L73.9 58.5L74.6 58.5L75.3 58.5L76.0 58.6L76.7 58.6L77.4 58.6L78.1 58.6L78.8 58.6L79.5 58.6L80.2 58.7L80.9 58.7L81.6 58.7L82.3 58.7L83.0 58.8L83.7 58.8L84.4 58.8L85.1 58.9L85.8 58.9L86.5 58.9L87.2 59.0L87.9 59.0L88.6 59.1L89.3 59.2L90.0 59.2L90.7 59.3L91.4 59.4L92.1 59.5L92.8 59.5L93.5 59.6L94.2 59.7L94.9 59.9L95.6 60.0L96.3 60.1L97.0 60.2L97.7 60.4L98.4 60.6L99.1 60.7L99.8 60.9L100.5 61.1L101.2 61.4L101.9 61.6L102.6 61.9L103.3 62.1L104.0 62.4L104.7 62.7L105.4 63.1L106.1 63.4L106.8 63.8L107.5 64.2L108.2 64.7L108.9 65.2L109.6 65.6L110.3 66.2L111.0 66.7L111.7 67.3L112.4 67.9L113.1 68.6L113.8 69.3L114.5 70.0L115.2 70.7L115.9 71.5L116.6 72.3L117.3 73.1L118.0 74.0L118.7 74.9L119.4 75.8L120.1 76.7L120.8 77.7L121.5 78.7L122.2 79.6L122.9 80.6L123.6 81.6L124.3 82.6L125.0 83.5L125.7 84.4L126.4 85.3L127.1 86.2L127.8 87.1L128.5 88.0L129.2 88.9L129.9 89.8L130.6 90.7L131.3 91.5L132.0 92.4L132.7 93.3L133.4 94.2L134.1 95.1L134.8 95.9L135.5 96.8L136.2 97.6L136.9 98.4L137.6 99.2L138.3 100.0L139.0 100.8L139.7 101.5L140.4 102.2L141.1 102.8L141.8 103.4L142.5 104.1L143.2 104.8L143.9 105.5L144.6 106.1L145.3 106.6L146.0 107.1L146.7 107.6L147.4 108.0L148.1 108.4L148.8 108.7L149.5 109.1L150.2 109.4L150.9 109.7L151.6 109.9L152.3 110.2L153.0 110.5L153.7 110.7L154.4 111.0L155.1 111.2L155.8 111.4L156.5 111.7L157.2 111.9L157.9 112.1L158.6 112.4L159.3 112.6L160.0 112.8L160.7 113.1L161.4 113.3L162.1 113.5L162.8 113.8L163.5 114.0L164.2 114.3L164.9 114.5L165.6 114.7L166.3 115.0L167.0 115.7L167.7 116.7L168.4 117.7L169.1 118.5L169.8 119.0L170.5 119.0L171.2 118.7L171.9 118.0L172.6 117.2L173.3 116.4L174.0 115.6L174.7 115.0L175.4 114.8L176.1 114.7L176.8 114.6L177.5 114.6L178.2 114.5L178.9 114.5L179.6 114.5L180.3 114.4L181.0 114.4L181.7 114.2L182.4 114.1L183.1 113.9L183.8 113.8L184.5 113.8L185.2 114.1L185.9 114.7L186.6 115.1" stroke="#24ff00" stroke-width="1.30" fill="none" clip-path="url(#cL1)" stroke-linejoin="round"/>
<path d="M55.7 56.5L56.4 56.5L57.1 56.5L57.8 56.5L58.5 56.5L59.2 56.5L59.9 56.5L60.6 56.5L61.3 56.5L62.0 56.5L62.7 56.5L63.4 56.6L64.1 56.6L64.8 56.6L65.5 56.6L66.2 56.6L66.9 56.6L67.6 56.6L68.3 56.6L69.0 56.6L69.7 56.6L70.4 56.6L71.1 56.6L71.8 56.6L72.5 56.6L73.2 56.7L73.9 56.7L74.6 56.7L75.3 56.7L76.0 56.7L76.7 56.7L77.4 56.7L78.1 56.8L78.8 56.8L79.5 56.8L80.2 56.8L80.9 56.9L81.6 56.9L82.3 56.9L83.0 57.0L83.7 57.0L84.4 57.0L85.1 57.1L85.8 57.1L86.5 57.2L87.2 57.3L87.9 57.3L88.6 57.4L89.3 57.5L90.0 57.5L90.7 57.6L91.4 57.7L92.1 57.8L92.8 57.9L93.5 58.0L94.2 58.1L94.9 58.3L95.6 58.4L96.3 58.6L97.0 58.7L97.7 58.9L98.4 59.1L99.1 59.3L99.8 59.5L100.5 59.8L101.2 60.0L101.9 60.3L102.6 60.6L103.3 60.9L104.0 61.2L104.7 61.5L105.4 61.9L106.1 62.3L106.8 62.7L107.5 63.2L108.2 63.7L108.9 64.2L109.6 64.7L110.3 65.3L111.0 65.9L111.7 66.5L112.4 67.2L113.1 67.8L113.8 68.6L114.5 69.3L115.2 70.1L115.9 70.9L116.6 71.7L117.3 72.6L118.0 73.5L118.7 74.4L119.4 75.3L120.1 76.3L120.8 77.3L121.5 78.3L122.2 79.3L122.9 80.3L123.6 81.3L124.3 82.3L125.0 83.2L125.7 84.1L126.4 85.1L127.1 86.0L127.8 86.9L128.5 87.9L129.2 88.8L129.9 89.7L130.6 90.6L131.3 91.6L132.0 92.5L132.7 93.4L133.4 94.3L134.1 95.2L134.8 96.1L135.5 97.0L136.2 97.9L136.9 98.7L137.6 99.6L138.3 100.4L139.0 101.2L139.7 101.9L140.4 102.6L141.1 103.3L141.8 103.9L142.5 104.6L143.2 105.3L143.9 105.9L144.6 106.5L145.3 107.1L146.0 107.5L146.7 108.0L147.4 108.4L148.1 108.8L148.8 109.1L149.5 109.5L150.2 109.8L150.9 110.1L151.6 110.3L152.3 110.6L153.0 110.9L153.7 111.1L154.4 111.4L155.1 111.6L155.8 111.9L156.5 112.1L157.2 112.4L157.9 112.6L158.6 112.8L159.3 113.1L160.0 113.3L160.7 113.6L161.4 113.8L162.1 114.0L162.8 114.3L163.5 114.5L164.2 114.8L164.9 115.0L165.6 115.2L166.3 115.5L167.0 116.1L167.7 117.0L168.4 117.8L169.1 118.5L169.8 119.0L170.5 119.0L171.2 118.6L171.9 118.0L172.6 117.2L173.3 116.4L174.0 115.6L174.7 115.0L175.4 114.7L176.1 114.6L176.8 114.6L177.5 114.5L178.2 114.5L178.9 114.5L179.6 114.4L180.3 114.4L181.0 114.3L181.7 114.2L182.4 114.0L183.1 113.9L183.8 113.7L184.5 113.8L185.2 114.1L185.9 114.6L186.6 115.1" stroke="#36ff00" stroke-width="1.30" fill="none" clip-path="url(#cL1)" stroke-linejoin="round"/>
<path d="M55.7 53.9L56.4 53.9L57.1 53.9L57.8 53.9L58.5 53.9L59.2 53.9L59.9 53.9L60.6 54.0L61.3 54.0L62.0 54.0L62.7 54.0L63.4 54.0L64.1 54.0L64.8 54.0L65.5 54.0L66.2 54.0L66.9 54.0L67.6 54.0L68.3 54.0L69.0 54.0L69.7 54.0L70.4 54.1L71.1 54.1L71.8 54.1L72.5 54.1L73.2 54.1L73.9 54.1L74.6 54.1L75.3 54.2L76.0 54.2L76.7 54.2L77.4 54.2L78.1 54.3L78.8 54.3L79.5 54.3L80.2 54.3L80.9 54.4L81.6 54.4L82.3 54.5L83.0 54.5L83.7 54.5L84.4 54.6L85.1 54.7L85.8 54.7L86.5 54.8L87.2 54.8L87.9 54.9L88.6 55.0L89.3 55.1L90.0 55.2L90.7 55.3L91.4 55.4L92.1 55.5L92.8 55.6L93.5 55.8L94.2 55.9L94.9 56.1L95.6 56.2L96.3 56.4L97.0 56.6L97.7 56.8L98.4 57.0L99.1 57.2L99.8 57.5L100.5 57.8L101.2 58.0L101.9 58.4L102.6 58.7L103.3 59.0L104.0 59.4L104.7 59.8L105.4 60.2L106.1 60.6L106.8 61.1L107.5 61.6L108.2 62.1L108.9 62.7L109.6 63.3L110.3 63.9L111.0 64.5L111.7 65.2L112.4 65.9L113.1 66.6L113.8 67.4L114.5 68.2L115.2 69.0L115.9 69.9L116.6 70.7L117.3 71.6L118.0 72.6L118.7 73.5L119.4 74.5L120.1 75.5L120.8 76.5L121.5 77.5L122.2 78.5L122.9 79.5L123.6 80.6L124.3 81.6L125.0 82.6L125.7 83.5L126.4 84.5L127.1 85.5L127.8 86.5L128.5 87.5L129.2 88.5L129.9 89.4L130.6 90.4L131.3 91.4L132.0 92.4L132.7 93.3L133.4 94.3L134.1 95.3L134.8 96.2L135.5 97.1L136.2 98.0L136.9 98.9L137.6 99.8L138.3 100.7L139.0 101.5L139.7 102.2L140.4 103.0L141.1 103.6L141.8 104.2L142.5 104.9L143.2 105.7L143.9 106.3L144.6 106.9L145.3 107.4L146.0 107.9L146.7 108.4L147.4 108.8L148.1 109.2L148.8 109.5L149.5 109.9L150.2 110.2L150.9 110.5L151.6 110.7L152.3 111.0L153.0 111.3L153.7 111.5L154.4 111.8L155.1 112.1L155.8 112.3L156.5 112.6L157.2 112.8L157.9 113.1L158.6 113.3L159.3 113.5L160.0 113.8L160.7 114.0L161.4 114.3L162.1 114.5L162.8 114.8L163.5 115.0L164.2 115.3L164.9 115.5L165.6 115.7L166.3 116.0L167.0 116.5L167.7 117.3L168.4 118.0L169.1 118.6L169.8 119.0L170.5 119.0L171.2 118.6L171.9 118.0L172.6 117.2L173.3 116.3L174.0 115.6L174.7 115.0L175.4 114.7L176.1 114.6L176.8 114.6L177.5 114.5L178.2 114.5L178.9 114.4L179.6 114.4L180.3 114.4L181.0 114.3L181.7 114.2L182.4 114.0L183.1 113.8L183.8 113.7L184.5 113.7L185.2 114.1L185.9 114.6L186.6 115.1" stroke="#49ff00" stroke-width="1.30" fill="none" clip-path="url(#cL1)" stroke-linejoin="round"/>
<path d="M55.7 52.0L56.4 52.0L57.1 52.0L57.8 52.1L58.5 52.1L59.2 52.1L59.9 52.1L60.6 52.1L61.3 52.1L62.0 52.1L62.7 52.1L63.4 52.1L64.1 52.1L64.8 52.1L65.5 52.1L66.2 52.1L66.9 52.1L67.6 52.1L68.3 52.2L69.0 52.2L69.7 52.2L70.4 52.2L71.1 52.2L71.8 52.2L72.5 52.2L73.2 52.3L73.9 52.3L74.6 52.3L75.3 52.3L76.0 52.4L76.7 52.4L77.4 52.4L78.1 52.4L78.8 52.5L79.5 52.5L80.2 52.6L80.9 52.6L81.6 52.6L82.3 52.7L83.0 52.7L83.7 52.8L84.4 52.9L85.1 52.9L85.8 53.0L86.5 53.1L87.2 53.2L87.9 53.2L88.6 53.3L89.3 53.4L90.0 53.5L90.7 53.7L91.4 53.8L92.1 53.9L92.8 54.1L93.5 54.2L94.2 54.4L94.9 54.6L95.6 54.7L96.3 54.9L97.0 55.2L97.7 55.4L98.4 55.6L99.1 55.9L99.8 56.2L100.5 56.5L101.2 56.8L101.9 57.1L102.6 57.5L103.3 57.9L104.0 58.3L104.7 58.7L105.4 59.2L106.1 59.6L106.8 60.1L107.5 60.7L108.2 61.2L108.9 61.8L109.6 62.4L110.3 63.1L111.0 63.8L111.7 64.5L112.4 65.2L113.1 66.0L113.8 66.8L114.5 67.6L115.2 68.4L115.9 69.3L116.6 70.2L117.3 71.2L118.0 72.1L118.7 73.1L119.4 74.1L120.1 75.1L120.8 76.1L121.5 77.1L122.2 78.2L122.9 79.2L123.6 80.2L124.3 81.3L125.0 82.3L125.7 83.3L126.4 84.3L127.1 85.4L127.8 86.4L128.5 87.4L129.2 88.4L129.9 89.5L130.6 90.5L131.3 91.5L132.0 92.5L132.7 93.5L133.4 94.5L134.1 95.5L134.8 96.5L135.5 97.4L136.2 98.4L136.9 99.3L137.6 100.2L138.3 101.1L139.0 101.9L139.7 102.7L140.4 103.4L141.1 104.1L141.8 104.7L142.5 105.4L143.2 106.1L143.9 106.7L144.6 107.3L145.3 107.9L146.0 108.4L146.7 108.8L147.4 109.2L148.1 109.6L148.8 109.9L149.5 110.3L150.2 110.6L150.9 110.9L151.6 111.2L152.3 111.4L153.0 111.7L153.7 112.0L154.4 112.2L155.1 112.5L155.8 112.7L156.5 113.0L157.2 113.3L157.9 113.5L158.6 113.8L159.3 114.0L160.0 114.3L160.7 114.5L161.4 114.8L162.1 115.0L162.8 115.2L163.5 115.5L164.2 115.8L164.9 116.0L165.6 116.2L166.3 116.5L167.0 116.9L167.7 117.6L168.4 118.2L169.1 118.7L169.8 119.0L170.5 119.0L171.2 118.6L171.9 117.9L172.6 117.1L173.3 116.3L174.0 115.5L174.7 114.9L175.4 114.7L176.1 114.6L176.8 114.5L177.5 114.5L178.2 114.4L178.9 114.4L179.6 114.4L180.3 114.3L181.0 114.3L181.7 114.1L182.4 114.0L183.1 113.8L183.8 113.7L184.5 113.7L185.2 114.1L185.9 114.6L186.6 115.0" stroke="#5bff00" stroke-width="1.30" fill="none" clip-path="url(#cL1)" stroke-linejoin="round"/>
<path d="M55.7 48.7L56.4 48.7L57.1 48.7L57.8 48.7L58.5 48.7L59.2 48.7L59.9 48.7L60.6 48.7L61.3 48.7L62.0 48.7L62.7 48.7L63.4 48.7L64.1 48.7L64.8 48.7L65.5 48.8L66.2 48.8L66.9 48.8L67.6 48.8L68.3 48.8L69.0 48.8L69.7 48.8L70.4 48.9L71.1 48.9L71.8 48.9L72.5 48.9L73.2 48.9L73.9 49.0L74.6 49.0L75.3 49.0L76.0 49.1L76.7 49.1L77.4 49.1L78.1 49.2L78.8 49.2L79.5 49.3L80.2 49.3L80.9 49.4L81.6 49.4L82.3 49.5L83.0 49.5L83.7 49.6L84.4 49.7L85.1 49.8L85.8 49.8L86.5 49.9L87.2 50.0L87.9 50.1L88.6 50.2L89.3 50.4L90.0 50.5L90.7 50.6L91.4 50.8L92.1 50.9L92.8 51.1L93.5 51.3L94.2 51.5L94.9 51.7L95.6 51.9L96.3 52.1L97.0 52.4L97.7 52.6L98.4 52.9L99.1 53.2L99.8 53.5L100.5 53.9L101.2 54.2L101.9 54.6L102.6 55.0L103.3 55.4L104.0 55.9L104.7 56.4L105.4 56.9L106.1 57.4L106.8 57.9L107.5 58.5L108.2 59.1L108.9 59.8L109.6 60.5L110.3 61.2L111.0 61.9L111.7 62.6L112.4 63.4L113.1 64.3L113.8 65.1L114.5 66.0L115.2 66.9L115.9 67.8L116.6 68.8L117.3 69.7L118.0 70.7L118.7 71.8L119.4 72.8L120.1 73.8L120.8 74.9L121.5 75.9L122.2 77.0L122.9 78.1L123.6 79.2L124.3 80.3L125.0 81.4L125.7 82.5L126.4 83.6L127.1 84.7L127.8 85.8L128.5 86.8L129.2 87.9L129.9 89.0L130.6 90.1L131.3 91.2L132.0 92.3L132.7 93.3L133.4 94.4L134.1 95.4L134.8 96.5L135.5 97.5L136.2 98.5L136.9 99.5L137.6 100.4L138.3 101.3L139.0 102.2L139.7 103.0L140.4 103.7L141.1 104.4L141.8 105.0L142.5 105.7L143.2 106.5L143.9 107.1L144.6 107.7L145.3 108.2L146.0 108.7L146.7 109.2L147.4 109.6L148.1 110.0L148.8 110.3L149.5 110.7L150.2 111.0L150.9 111.3L151.6 111.6L152.3 111.8L153.0 112.1L153.7 112.4L154.4 112.7L155.1 112.9L155.8 113.2L156.5 113.4L157.2 113.7L157.9 114.0L158.6 114.2L159.3 114.5L160.0 114.7L160.7 115.0L161.4 115.2L162.1 115.5L162.8 115.7L163.5 116.0L164.2 116.3L164.9 116.6L165.6 116.7L166.3 117.0L167.0 117.3L167.7 117.8L168.4 118.4L169.1 118.8L169.8 119.0L170.5 118.9L171.2 118.5L171.9 117.9L172.6 117.1L173.3 116.3L174.0 115.5L174.7 114.9L175.4 114.6L176.1 114.6L176.8 114.5L177.5 114.4L178.2 114.4L178.9 114.4L179.6 114.3L180.3 114.3L181.0 114.2L181.7 114.1L182.4 113.9L183.1 113.8L183.8 113.7L184.5 113.7L185.2 114.0L185.9 114.5L186.6 115.0" stroke="#6eff00" stroke-width="1.30" fill="none" clip-path="url(#cL1)" stroke-linejoin="round"/>
<path d="M55.7 35.4L56.4 35.4L57.1 35.4L57.8 35.4L58.5 35.4L59.2 35.4L59.9 35.4L60.6 35.4L61.3 35.5L62.0 35.5L62.7 35.5L63.4 35.5L64.1 35.5L64.8 35.5L65.5 35.5L66.2 35.6L66.9 35.6L67.6 35.6L68.3 35.6L69.0 35.6L69.7 35.7L70.4 35.7L71.1 35.7L71.8 35.7L72.5 35.8L73.2 35.8L73.9 35.8L74.6 35.9L75.3 35.9L76.0 36.0L76.7 36.0L77.4 36.1L78.1 36.1L78.8 36.2L79.5 36.3L80.2 36.3L80.9 36.4L81.6 36.5L82.3 36.6L83.0 36.6L83.7 36.7L84.4 36.8L85.1 37.0L85.8 37.1L86.5 37.2L87.2 37.3L87.9 37.5L88.6 37.6L89.3 37.8L90.0 38.0L90.7 38.1L91.4 38.3L92.1 38.5L92.8 38.8L93.5 39.0L94.2 39.3L94.9 39.5L95.6 39.8L96.3 40.1L97.0 40.5L97.7 40.8L98.4 41.2L99.1 41.6L99.8 42.0L100.5 42.4L101.2 42.9L101.9 43.4L102.6 43.9L103.3 44.4L104.0 45.0L104.7 45.6L105.4 46.2L106.1 46.9L106.8 47.6L107.5 48.3L108.2 49.1L108.9 49.9L109.6 50.7L110.3 51.6L111.0 52.5L111.7 53.5L112.4 54.4L113.1 55.4L113.8 56.5L114.5 57.5L115.2 58.6L115.9 59.8L116.6 60.9L117.3 62.1L118.0 63.3L118.7 64.5L119.4 65.8L120.1 67.0L120.8 68.3L121.5 69.5L122.2 70.8L122.9 72.1L123.6 73.5L124.3 74.8L125.0 76.1L125.7 77.5L126.4 78.8L127.1 80.2L127.8 81.5L128.5 82.9L129.2 84.2L129.9 85.5L130.6 86.9L131.3 88.2L132.0 89.5L132.7 90.8L133.4 92.1L134.1 93.4L134.8 94.7L135.5 95.9L136.2 97.1L136.9 98.3L137.6 99.4L138.3 100.5L139.0 101.5L139.7 102.5L140.4 103.4L141.1 104.2L141.8 104.9L142.5 105.7L143.2 106.5L143.9 107.2L144.6 107.9L145.3 108.5L146.0 109.0L146.7 109.5L147.4 109.9L148.1 110.3L148.8 110.7L149.5 111.0L150.2 111.3L150.9 111.6L151.6 111.9L152.3 112.2L153.0 112.5L153.7 112.8L154.4 113.1L155.1 113.3L155.8 113.6L156.5 113.9L157.2 114.1L157.9 114.4L158.6 114.7L159.3 114.9L160.0 115.2L160.7 115.5L161.4 115.7L162.1 116.0L162.8 116.2L163.5 116.5L164.2 116.8L164.9 117.1L165.6 117.3L166.3 117.4L167.0 117.7L167.7 118.1L168.4 118.5L169.1 118.8L169.8 119.0L170.5 118.9L171.2 118.5L171.9 117.9L172.6 117.1L173.3 116.2L174.0 115.5L174.7 114.9L175.4 114.6L176.1 114.5L176.8 114.5L177.5 114.4L178.2 114.4L178.9 114.3L179.6 114.3L180.3 114.3L181.0 114.2L181.7 114.1L182.4 113.9L183.1 113.7L183.8 113.6L184.5 113.6L185.2 114.0L185.9 114.5L186.6 115.0" stroke="#80ff00" stroke-width="1.30" fill="none" clip-path="url(#cL1)" stroke-linejoin="round"/>
<path d="M55.7 146.7L56.4 146.7L57.1 146.7L57.8 146.7L58.5 146.7L59.2 146.7L59.9 146.7L60.6 146.7L61.3 146.7L62.0 146.7L62.7 146.7L63.4 146.7L64.1 146.7L64.8 146.7L65.5 146.7L66.2 146.7L66.9 146.7L67.6 146.7L68.3 146.7L69.0 146.7L69.7 146.7L70.4 146.7L71.1 146.8L71.8 146.8L72.5 146.8L73.2 146.8L73.9 146.8L74.6 146.8L75.3 146.8L76.0 146.8L76.7 146.8L77.4 146.8L78.1 146.8L78.8 146.8L79.5 146.8L80.2 146.8L80.9 146.9L81.6 146.9L82.3 146.9L83.0 146.9L83.7 146.9L84.4 146.9L85.1 146.9L85.8 146.9L86.5 146.9L87.2 146.9L87.9 147.0L88.6 147.0L89.3 147.0L90.0 147.0L90.7 147.0L91.4 147.0L92.1 147.0L92.8 147.0L93.5 147.1L94.2 147.1L94.9 147.1L95.6 147.1L96.3 147.1L97.0 147.1L97.7 147.1L98.4 147.2L99.1 147.2L99.8 147.2L100.5 147.2L101.2 147.2L101.9 147.3L102.6 147.3L103.3 147.4L104.0 147.4L104.7 147.5L105.4 147.6L106.1 147.7L106.8 147.8L107.5 147.9L108.2 148.0L108.9 148.1L109.6 148.2L110.3 148.3L111.0 148.4L111.7 148.5L112.4 148.7L113.1 148.8L113.8 149.0L114.5 149.1L115.2 149.2L115.9 149.4L116.6 149.6L117.3 149.8L118.0 150.0L118.7 150.3L119.4 150.5L120.1 150.8L120.8 151.1L121.5 151.4L122.2 151.8L122.9 152.1L123.6 152.5L124.3 152.8L125.0 153.2L125.7 153.6L126.4 154.0L127.1 154.5L127.8 155.0L128.5 155.5L129.2 156.1L129.9 156.7L130.6 157.3L131.3 158.0L132.0 158.7L132.7 159.4L133.4 160.2L134.1 161.0L134.8 162.0L135.5 163.0L136.2 164.0L136.9 165.2L137.6 166.4L138.3 167.6L139.0 168.8L139.7 170.0L140.4 171.3L141.1 172.5L141.8 173.7L142.5 174.8L143.2 176.0L143.9 177.1L144.6 178.3L145.3 179.5L146.0 180.7L146.7 181.9L147.4 183.1L148.1 184.2L148.8 185.4L149.5 186.5L150.2 187.5L150.9 188.5L151.6 189.4L152.3 190.2L153.0 190.9L153.7 191.7L154.4 192.3L155.1 193.0L155.8 193.7L156.5 194.3L157.2 195.0L157.9 195.7L158.6 196.3L159.3 196.9L160.0 197.6L160.7 198.4L161.4 199.4L162.1 200.5L162.8 201.9L163.5 203.4L164.2 205.0L164.9 206.8L165.6 209.4L166.3 212.6L167.0 215.9L167.7 218.9L168.4 221.4L169.1 222.9L169.8 222.9L170.5 221.3L171.2 218.6L171.9 215.2L172.6 211.7L173.3 208.7L174.0 206.3L174.7 203.7L175.4 201.1L176.1 198.9L176.8 197.3L177.5 196.7L178.2 196.7L178.9 196.7L179.6 196.7L180.3 196.7L181.0 196.5L181.7 196.3L182.4 196.1L183.1 196.0L183.8 196.0L184.5 196.0L185.2 196.0L185.9 196.0L186.6 196.1" stroke="#66ee00" stroke-width="1.70" fill="none" clip-path="url(#cL2)" stroke-linejoin="round"/>
<path d="M55.7 154.3L56.4 154.3L57.1 154.3L57.8 154.3L58.5 154.3L59.2 154.3L59.9 154.3L60.6 154.3L61.3 154.3L62.0 154.3L62.7 154.3L63.4 154.3L64.1 154.3L64.8 154.3L65.5 154.3L66.2 154.3L66.9 154.3L67.6 154.3L68.3 154.3L69.0 154.3L69.7 154.3L70.4 154.3L71.1 154.3L71.8 154.3L72.5 154.3L73.2 154.3L73.9 154.3L74.6 154.3L75.3 154.3L76.0 154.3L76.7 154.3L77.4 154.4L78.1 154.4L78.8 154.4L79.5 154.4L80.2 154.4L80.9 154.4L81.6 154.4L82.3 154.4L83.0 154.4L83.7 154.4L84.4 154.4L85.1 154.4L85.8 154.4L86.5 154.4L87.2 154.4L87.9 154.4L88.6 154.4L89.3 154.4L90.0 154.4L90.7 154.4L91.4 154.5L92.1 154.5L92.8 154.5L93.5 154.5L94.2 154.5L94.9 154.5L95.6 154.5L96.3 154.5L97.0 154.5L97.7 154.5L98.4 154.5L99.1 154.5L99.8 154.5L100.5 154.6L101.2 154.6L101.9 154.6L102.6 154.6L103.3 154.7L104.0 154.7L104.7 154.7L105.4 154.8L106.1 154.8L106.8 154.9L107.5 154.9L108.2 155.0L108.9 155.1L109.6 155.2L110.3 155.2L111.0 155.3L111.7 155.4L112.4 155.5L113.1 155.6L113.8 155.7L114.5 155.8L115.2 155.9L115.9 156.0L116.6 156.2L117.3 156.3L118.0 156.5L118.7 156.7L119.4 156.9L120.1 157.2L120.8 157.4L121.5 157.7L122.2 158.0L122.9 158.4L123.6 158.8L124.3 159.2L125.0 159.6L125.7 160.0L126.4 160.5L127.1 161.0L127.8 161.5L128.5 162.1L129.2 162.8L129.9 163.4L130.6 164.1L131.3 164.9L132.0 165.6L132.7 166.4L133.4 167.2L134.1 168.1L134.8 169.0L135.5 170.0L136.2 171.1L136.9 172.3L137.6 173.4L138.3 174.6L139.0 175.8L139.7 177.0L140.4 178.2L141.1 179.3L141.8 180.5L142.5 181.5L143.2 182.6L143.9 183.6L144.6 184.6L145.3 185.7L146.0 186.7L146.7 187.7L147.4 188.7L148.1 189.6L148.8 190.6L149.5 191.5L150.2 192.4L150.9 193.3L151.6 194.2L152.3 195.0L153.0 195.9L153.7 196.7L154.4 197.5L155.1 198.4L155.8 199.2L156.5 200.1L157.2 200.9L157.9 201.8L158.6 202.7L159.3 203.6L160.0 204.6L160.7 205.7L161.4 207.1L162.1 208.7L162.8 210.7L163.5 212.8L164.2 214.9L164.9 217.3L165.6 220.3L166.3 223.6L167.0 226.7L167.7 229.0L168.4 230.0L169.1 229.9L169.8 228.6L170.5 226.1L171.2 222.9L171.9 219.2L172.6 215.6L173.3 212.5L174.0 209.7L174.7 206.7L175.4 203.6L176.1 200.9L176.8 198.9L177.5 197.9L178.2 197.6L178.9 197.4L179.6 197.2L180.3 197.0L181.0 196.8L181.7 196.5L182.4 196.3L183.1 196.3L183.8 196.3L184.5 196.3L185.2 196.3L185.9 196.3L186.6 196.3" stroke="#91f200" stroke-width="1.70" fill="none" clip-path="url(#cL2)" stroke-linejoin="round"/>
<path d="M55.7 155.9L56.4 155.9L57.1 155.9L57.8 155.9L58.5 155.9L59.2 155.9L59.9 155.9L60.6 155.9L61.3 155.9L62.0 155.9L62.7 155.9L63.4 155.9L64.1 155.9L64.8 155.9L65.5 155.9L66.2 155.9L66.9 155.9L67.6 155.9L68.3 155.9L69.0 155.9L69.7 155.9L70.4 155.9L71.1 155.9L71.8 155.9L72.5 155.9L73.2 155.9L73.9 155.9L74.6 155.9L75.3 155.9L76.0 155.9L76.7 155.9L77.4 155.9L78.1 155.9L78.8 155.9L79.5 155.9L80.2 155.9L80.9 156.0L81.6 156.0L82.3 156.0L83.0 156.0L83.7 156.0L84.4 156.0L85.1 156.0L85.8 156.0L86.5 156.0L87.2 156.0L87.9 156.0L88.6 156.0L89.3 156.0L90.0 156.0L90.7 156.0L91.4 156.0L92.1 156.0L92.8 156.0L93.5 156.0L94.2 156.0L94.9 156.0L95.6 156.1L96.3 156.1L97.0 156.1L97.7 156.1L98.4 156.1L99.1 156.1L99.8 156.1L100.5 156.1L101.2 156.1L101.9 156.1L102.6 156.2L103.3 156.2L104.0 156.2L104.7 156.3L105.4 156.3L106.1 156.3L106.8 156.4L107.5 156.4L108.2 156.5L108.9 156.6L109.6 156.6L110.3 156.7L111.0 156.8L111.7 156.8L112.4 156.9L113.1 157.0L113.8 157.1L114.5 157.2L115.2 157.3L115.9 157.4L116.6 157.5L117.3 157.7L118.0 157.9L118.7 158.1L119.4 158.3L120.1 158.5L120.8 158.7L121.5 159.0L122.2 159.3L122.9 159.7L123.6 160.0L124.3 160.4L125.0 160.8L125.7 161.2L126.4 161.7L127.1 162.2L127.8 162.7L128.5 163.3L129.2 163.9L129.9 164.5L130.6 165.2L131.3 165.9L132.0 166.7L132.7 167.5L133.4 168.2L134.1 169.1L134.8 170.0L135.5 171.0L136.2 172.1L136.9 173.2L137.6 174.3L138.3 175.5L139.0 176.7L139.7 177.8L140.4 179.0L141.1 180.1L141.8 181.2L142.5 182.3L143.2 183.3L143.9 184.3L144.6 185.3L145.3 186.3L146.0 187.3L146.7 188.3L147.4 189.2L148.1 190.2L148.8 191.1L149.5 192.0L150.2 192.9L150.9 193.8L151.6 194.7L152.3 195.5L153.0 196.4L153.7 197.2L154.4 198.0L155.1 198.9L155.8 199.7L156.5 200.6L157.2 201.5L157.9 202.4L158.6 203.3L159.3 204.3L160.0 205.3L160.7 206.5L161.4 207.8L162.1 209.6L162.8 211.6L163.5 213.7L164.2 215.9L164.9 218.3L165.6 221.4L166.3 224.8L167.0 227.8L167.7 230.0L168.4 230.9L169.1 230.6L169.8 229.2L170.5 226.6L171.2 223.3L171.9 219.7L172.6 216.0L173.3 212.8L174.0 210.1L174.7 207.0L175.4 203.9L176.1 201.1L176.8 199.1L177.5 198.0L178.2 197.7L178.9 197.5L179.6 197.3L180.3 197.1L181.0 196.8L181.7 196.6L182.4 196.4L183.1 196.3L183.8 196.3L184.5 196.3L185.2 196.3L185.9 196.3L186.6 196.3" stroke="#bdf600" stroke-width="1.70" fill="none" clip-path="url(#cL2)" stroke-linejoin="round"/>
<path d="M55.7 160.7L56.4 160.7L57.1 160.7L57.8 160.7L58.5 160.7L59.2 160.7L59.9 160.7L60.6 160.7L61.3 160.7L62.0 160.7L62.7 160.7L63.4 160.7L64.1 160.7L64.8 160.7L65.5 160.7L66.2 160.7L66.9 160.7L67.6 160.7L68.3 160.7L69.0 160.7L69.7 160.7L70.4 160.7L71.1 160.7L71.8 160.7L72.5 160.7L73.2 160.7L73.9 160.7L74.6 160.7L75.3 160.7L76.0 160.7L76.7 160.7L77.4 160.7L78.1 160.7L78.8 160.7L79.5 160.7L80.2 160.7L80.9 160.7L81.6 160.7L82.3 160.7L83.0 160.7L83.7 160.7L84.4 160.7L85.1 160.7L85.8 160.7L86.5 160.7L87.2 160.7L87.9 160.7L88.6 160.7L89.3 160.7L90.0 160.7L90.7 160.7L91.4 160.7L92.1 160.7L92.8 160.7L93.5 160.7L94.2 160.7L94.9 160.7L95.6 160.7L96.3 160.7L97.0 160.7L97.7 160.7L98.4 160.7L99.1 160.7L99.8 160.7L100.5 160.7L101.2 160.7L101.9 160.8L102.6 160.8L103.3 160.8L104.0 160.8L104.7 160.8L105.4 160.8L106.1 160.9L106.8 160.9L107.5 160.9L108.2 161.0L108.9 161.0L109.6 161.0L110.3 161.1L111.0 161.1L111.7 161.2L112.4 161.2L113.1 161.3L113.8 161.4L114.5 161.4L115.2 161.5L115.9 161.6L116.6 161.7L117.3 161.8L118.0 162.0L118.7 162.1L119.4 162.3L120.1 162.5L120.8 162.7L121.5 163.0L122.2 163.2L122.9 163.5L123.6 163.8L124.3 164.2L125.0 164.5L125.7 164.9L126.4 165.3L127.1 165.7L127.8 166.2L128.5 166.7L129.2 167.2L129.9 167.8L130.6 168.4L131.3 169.1L132.0 169.7L132.7 170.4L133.4 171.1L134.1 171.9L134.8 172.8L135.5 173.7L136.2 174.7L136.9 175.7L137.6 176.8L138.3 177.8L139.0 178.9L139.7 180.0L140.4 181.1L141.1 182.2L141.8 183.2L142.5 184.2L143.2 185.2L143.9 186.1L144.6 187.0L145.3 188.0L146.0 188.9L146.7 189.8L147.4 190.7L148.1 191.6L148.8 192.5L149.5 193.3L150.2 194.2L150.9 195.1L151.6 195.9L152.3 196.8L153.0 197.6L153.7 198.5L154.4 199.4L155.1 200.3L155.8 201.2L156.5 202.1L157.2 203.1L157.9 204.0L158.6 205.0L159.3 206.0L160.0 207.1L160.7 208.3L161.4 209.8L162.1 211.7L162.8 213.8L163.5 216.1L164.2 218.5L164.9 221.0L165.6 224.2L166.3 227.6L167.0 230.6L167.7 232.6L168.4 233.1L169.1 232.4L169.8 230.6L170.5 227.9L171.2 224.4L171.9 220.7L172.6 217.0L173.3 213.8L174.0 210.9L174.7 207.8L175.4 204.5L176.1 201.7L176.8 199.5L177.5 198.3L178.2 197.9L178.9 197.6L179.6 197.4L180.3 197.2L181.0 196.9L181.7 196.6L182.4 196.4L183.1 196.4L183.8 196.4L184.5 196.4L185.2 196.4L185.9 196.4L186.6 196.4" stroke="#e8fa00" stroke-width="1.70" fill="none" clip-path="url(#cL2)" stroke-linejoin="round"/>
<path d="M55.7 168.3L56.4 168.3L57.1 168.3L57.8 168.3L58.5 168.3L59.2 168.3L59.9 168.3L60.6 168.3L61.3 168.3L62.0 168.3L62.7 168.3L63.4 168.3L64.1 168.3L64.8 168.3L65.5 168.3L66.2 168.3L66.9 168.3L67.6 168.3L68.3 168.3L69.0 168.3L69.7 168.3L70.4 168.3L71.1 168.3L71.8 168.3L72.5 168.3L73.2 168.3L73.9 168.3L74.6 168.3L75.3 168.2L76.0 168.2L76.7 168.2L77.4 168.2L78.1 168.2L78.8 168.2L79.5 168.2L80.2 168.2L80.9 168.2L81.6 168.2L82.3 168.2L83.0 168.2L83.7 168.2L84.4 168.2L85.1 168.2L85.8 168.2L86.5 168.2L87.2 168.2L87.9 168.2L88.6 168.2L89.3 168.2L90.0 168.2L90.7 168.2L91.4 168.2L92.1 168.1L92.8 168.1L93.5 168.1L94.2 168.1L94.9 168.1L95.6 168.1L96.3 168.1L97.0 168.1L97.7 168.1L98.4 168.1L99.1 168.1L99.8 168.1L100.5 168.1L101.2 168.1L101.9 168.1L102.6 168.1L103.3 168.1L104.0 168.0L104.7 168.0L105.4 168.0L106.1 168.0L106.8 168.0L107.5 168.0L108.2 168.0L108.9 168.0L109.6 168.0L110.3 168.0L111.0 168.0L111.7 168.0L112.4 168.0L113.1 168.1L113.8 168.1L114.5 168.1L115.2 168.1L115.9 168.2L116.6 168.3L117.3 168.3L118.0 168.4L118.7 168.6L119.4 168.7L120.1 168.8L120.8 169.0L121.5 169.2L122.2 169.4L122.9 169.6L123.6 169.8L124.3 170.1L125.0 170.3L125.7 170.6L126.4 170.8L127.1 171.1L127.8 171.5L128.5 171.9L129.2 172.3L129.9 172.8L130.6 173.3L131.3 173.8L132.0 174.3L132.7 174.9L133.4 175.4L134.1 176.1L134.8 176.8L135.5 177.6L136.2 178.4L136.9 179.3L137.6 180.2L138.3 181.2L139.0 182.1L139.7 183.1L140.4 184.1L141.1 185.0L141.8 185.9L142.5 186.8L143.2 187.7L143.9 188.5L144.6 189.3L145.3 190.1L146.0 190.9L146.7 191.8L147.4 192.6L148.1 193.4L148.8 194.2L149.5 195.0L150.2 195.8L150.9 196.7L151.6 197.5L152.3 198.4L153.0 199.3L153.7 200.2L154.4 201.1L155.1 202.0L155.8 203.0L156.5 204.0L157.2 205.0L157.9 206.0L158.6 207.1L159.3 208.2L160.0 209.4L160.7 210.7L161.4 212.4L162.1 214.4L162.8 216.7L163.5 219.2L164.2 221.7L164.9 224.4L165.6 227.7L166.3 231.2L167.0 234.2L167.7 235.9L168.4 236.0L169.1 234.8L169.8 232.5L170.5 229.4L171.2 225.8L171.9 222.0L172.6 218.3L173.3 215.0L174.0 212.1L174.7 208.7L175.4 205.4L176.1 202.3L176.8 200.0L177.5 198.7L178.2 198.2L178.9 197.8L179.6 197.6L180.3 197.3L181.0 197.0L181.7 196.7L182.4 196.5L183.1 196.4L183.8 196.4L184.5 196.4L185.2 196.4L185.9 196.4L186.6 196.5" stroke="#f0ed00" stroke-width="1.70" fill="none" clip-path="url(#cL2)" stroke-linejoin="round"/>
<path d="M55.7 174.2L56.4 174.2L57.1 174.2L57.8 174.2L58.5 174.2L59.2 174.2L59.9 174.2L60.6 174.2L61.3 174.2L62.0 174.2L62.7 174.2L63.4 174.2L64.1 174.2L64.8 174.2L65.5 174.2L66.2 174.2L66.9 174.2L67.6 174.2L68.3 174.2L69.0 174.2L69.7 174.2L70.4 174.1L71.1 174.1L71.8 174.1L72.5 174.1L73.2 174.1L73.9 174.1L74.6 174.1L75.3 174.1L76.0 174.1L76.7 174.1L77.4 174.1L78.1 174.1L78.8 174.1L79.5 174.1L80.2 174.1L80.9 174.1L81.6 174.0L82.3 174.0L83.0 174.0L83.7 174.0L84.4 174.0L85.1 174.0L85.8 174.0L86.5 174.0L87.2 174.0L87.9 174.0L88.6 174.0L89.3 174.0L90.0 173.9L90.7 173.9L91.4 173.9L92.1 173.9L92.8 173.9L93.5 173.9L94.2 173.9L94.9 173.9L95.6 173.9L96.3 173.9L97.0 173.8L97.7 173.8L98.4 173.8L99.1 173.8L99.8 173.8L100.5 173.8L101.2 173.8L101.9 173.8L102.6 173.7L103.3 173.7L104.0 173.7L104.7 173.6L105.4 173.6L106.1 173.6L106.8 173.6L107.5 173.5L108.2 173.5L108.9 173.5L109.6 173.4L110.3 173.4L111.0 173.4L111.7 173.4L112.4 173.3L113.1 173.3L113.8 173.3L114.5 173.3L115.2 173.3L115.9 173.3L116.6 173.3L117.3 173.4L118.0 173.5L118.7 173.5L119.4 173.6L120.1 173.7L120.8 173.9L121.5 174.0L122.2 174.1L122.9 174.3L123.6 174.4L124.3 174.6L125.0 174.8L125.7 174.9L126.4 175.1L127.1 175.3L127.8 175.6L128.5 175.8L129.2 176.2L129.9 176.5L130.6 176.9L131.3 177.3L132.0 177.7L132.7 178.1L133.4 178.6L134.1 179.1L134.8 179.7L135.5 180.4L136.2 181.1L136.9 181.9L137.6 182.7L138.3 183.5L139.0 184.4L139.7 185.2L140.4 186.1L141.1 187.0L141.8 187.8L142.5 188.6L143.2 189.4L143.9 190.1L144.6 190.8L145.3 191.6L146.0 192.3L146.7 193.1L147.4 193.8L148.1 194.6L148.8 195.3L149.5 196.1L150.2 196.9L150.9 197.7L151.6 198.6L152.3 199.4L153.0 200.3L153.7 201.2L154.4 202.2L155.1 203.2L155.8 204.2L156.5 205.2L157.2 206.3L157.9 207.4L158.6 208.5L159.3 209.6L160.0 210.9L160.7 212.3L161.4 214.0L162.1 216.2L162.8 218.6L163.5 221.2L164.2 223.9L164.9 226.6L165.6 230.1L166.3 233.6L167.0 236.6L167.7 238.1L168.4 237.8L169.1 236.3L169.8 233.7L170.5 230.5L171.2 226.8L171.9 222.9L172.6 219.2L173.3 215.8L174.0 212.8L174.7 209.4L175.4 205.9L176.1 202.8L176.8 200.4L177.5 199.0L178.2 198.4L178.9 198.0L179.6 197.7L180.3 197.4L181.0 197.0L181.7 196.8L182.4 196.6L183.1 196.5L183.8 196.5L184.5 196.5L185.2 196.5L185.9 196.5L186.6 196.5" stroke="#f7e100" stroke-width="1.70" fill="none" clip-path="url(#cL2)" stroke-linejoin="round"/>
<path d="M55.7 200.5L56.4 200.5L57.1 200.5L57.8 200.5L58.5 200.5L59.2 200.5L59.9 200.5L60.6 200.5L61.3 200.5L62.0 200.5L62.7 200.5L63.4 200.5L64.1 200.5L64.8 200.5L65.5 200.5L66.2 200.5L66.9 200.5L67.6 200.5L68.3 200.4L69.0 200.4L69.7 200.4L70.4 200.4L71.1 200.4L71.8 200.4L72.5 200.4L73.2 200.4L73.9 200.4L74.6 200.4L75.3 200.4L76.0 200.4L76.7 200.4L77.4 200.3L78.1 200.3L78.8 200.3L79.5 200.3L80.2 200.3L80.9 200.3L81.6 200.2L82.3 200.2L83.0 200.2L83.7 200.1L84.4 200.0L85.1 200.0L85.8 199.9L86.5 199.8L87.2 199.7L87.9 199.6L88.6 199.5L89.3 199.4L90.0 199.3L90.7 199.2L91.4 199.1L92.1 199.0L92.8 198.9L93.5 198.8L94.2 198.6L94.9 198.5L95.6 198.4L96.3 198.3L97.0 198.1L97.7 198.0L98.4 197.8L99.1 197.6L99.8 197.4L100.5 197.2L101.2 197.0L101.9 196.8L102.6 196.6L103.3 196.4L104.0 196.2L104.7 196.0L105.4 195.7L106.1 195.5L106.8 195.3L107.5 195.0L108.2 194.8L108.9 194.6L109.6 194.3L110.3 194.1L111.0 193.9L111.7 193.6L112.4 193.4L113.1 193.2L113.8 192.9L114.5 192.6L115.2 192.3L115.9 192.0L116.6 191.7L117.3 191.3L118.0 190.9L118.7 190.5L119.4 190.0L120.1 189.5L120.8 189.1L121.5 188.6L122.2 188.1L122.9 187.7L123.6 187.3L124.3 186.9L125.0 186.6L125.7 186.2L126.4 185.8L127.1 185.4L127.8 185.1L128.5 184.7L129.2 184.4L129.9 184.1L130.6 183.9L131.3 183.7L132.0 183.6L132.7 183.6L133.4 183.7L134.1 184.0L134.8 184.3L135.5 184.8L136.2 185.3L136.9 185.9L137.6 186.5L138.3 187.2L139.0 187.8L139.7 188.5L140.4 189.4L141.1 190.5L141.8 191.6L142.5 192.8L143.2 194.1L143.9 195.4L144.6 196.6L145.3 197.9L146.0 199.0L146.7 200.0L147.4 200.9L148.1 201.8L148.8 202.5L149.5 203.2L150.2 203.9L150.9 204.6L151.6 205.2L152.3 205.8L153.0 206.5L153.7 207.1L154.4 207.7L155.1 208.4L155.8 209.1L156.5 209.9L157.2 210.7L157.9 211.5L158.6 212.3L159.3 213.2L160.0 214.2L160.7 215.4L161.4 216.9L162.1 219.1L162.8 221.6L163.5 224.3L164.2 227.0L164.9 229.5L165.6 232.4L166.3 235.3L167.0 237.7L167.7 238.9L168.4 238.6L169.1 237.0L169.8 234.3L170.5 231.0L171.2 227.1L171.9 223.1L172.6 219.3L173.3 215.9L174.0 212.8L174.7 209.4L175.4 205.9L176.1 202.8L176.8 200.4L177.5 199.0L178.2 198.4L178.9 198.0L179.6 197.7L180.3 197.4L181.0 197.0L181.7 196.8L182.4 196.6L183.1 196.5L183.8 196.5L184.5 196.5L185.2 196.5L185.9 196.5L186.6 196.5" stroke="#ffd400" stroke-width="1.70" fill="none" clip-path="url(#cL2)" stroke-linejoin="round"/>
<path d="M55.7 253.7L56.4 253.7L57.1 253.7L57.8 253.7L58.5 253.7L59.2 253.7L59.9 253.7L60.6 253.7L61.3 253.7L62.0 253.7L62.7 253.7L63.4 253.7L64.1 253.7L64.8 253.7L65.5 253.7L66.2 253.7L66.9 253.7L67.6 253.7L68.3 253.7L69.0 253.7L69.7 253.7L70.4 253.7L71.1 253.7L71.8 253.7L72.5 253.7L73.2 253.7L73.9 253.7L74.6 253.7L75.3 253.7L76.0 253.7L76.7 253.7L77.4 253.7L78.1 253.7L78.8 253.7L79.5 253.7L80.2 253.7L80.9 253.7L81.6 253.7L82.3 253.7L83.0 253.7L83.7 253.7L84.4 253.7L85.1 253.7L85.8 253.7L86.5 253.7L87.2 253.7L87.9 253.7L88.6 253.7L89.3 253.7L90.0 253.7L90.7 253.7L91.4 253.7L92.1 253.7L92.8 253.8L93.5 253.8L94.2 253.8L94.9 253.8L95.6 253.8L96.3 253.8L97.0 253.8L97.7 253.8L98.4 253.8L99.1 253.8L99.8 253.8L100.5 253.8L101.2 253.8L101.9 253.8L102.6 253.8L103.3 253.8L104.0 253.8L104.7 253.8L105.4 253.8L106.1 253.8L106.8 253.8L107.5 253.8L108.2 253.8L108.9 253.9L109.6 253.9L110.3 253.9L111.0 253.9L111.7 253.9L112.4 253.9L113.1 253.9L113.8 253.9L114.5 253.9L115.2 253.9L115.9 253.9L116.6 253.9L117.3 253.9L118.0 253.9L118.7 253.9L119.4 253.9L120.1 253.9L120.8 253.9L121.5 253.9L122.2 253.9L122.9 253.9L123.6 253.9L124.3 253.9L125.0 254.0L125.7 254.0L126.4 254.0L127.1 254.0L127.8 254.0L128.5 254.0L129.2 254.0L129.9 254.0L130.6 254.0L131.3 254.0L132.0 254.0L132.7 254.0L133.4 254.0L134.1 254.0L134.8 254.0L135.5 254.0L136.2 254.0L136.9 254.0L137.6 254.0L138.3 254.0L139.0 254.0L139.7 254.0L140.4 254.0L141.1 254.0L141.8 254.0L142.5 254.0L143.2 254.0L143.9 254.0L144.6 254.0L145.3 254.0L146.0 254.0L146.7 254.0L147.4 254.0L148.1 254.0L148.8 254.0L149.5 254.0L150.2 254.0L150.9 254.0L151.6 254.0L152.3 254.0L153.0 254.0L153.7 254.0L154.4 254.0L155.1 254.0L155.8 254.0L156.5 254.0L157.2 254.0L157.9 254.0L158.6 254.0L159.3 254.0L160.0 254.0L160.7 254.0L161.4 254.0L162.1 254.0L162.8 254.0L163.5 254.0L164.2 254.0L164.9 254.0L165.6 254.0L166.3 254.0L167.0 254.0L167.7 254.0L168.4 254.0L169.1 254.0L169.8 254.0L170.5 254.0L171.2 254.0L171.9 254.0L172.6 254.0L173.3 254.0L174.0 254.0L174.7 254.0L175.4 254.0L176.1 254.0L176.8 254.0L177.5 254.0L178.2 254.0L178.9 254.0L179.6 254.0L180.3 254.0L181.0 254.0L181.7 254.0L182.4 254.0L183.1 254.0L183.8 254.0L184.5 254.0L185.2 254.0L185.9 254.0L186.6 254.0" stroke="#ffd400" stroke-width="1.70" fill="none" clip-path="url(#cL3)" stroke-linejoin="round"/>
<path d="M55.7 254.9L56.4 254.9L57.1 254.9L57.8 254.9L58.5 254.9L59.2 254.9L59.9 254.9L60.6 254.9L61.3 254.9L62.0 254.9L62.7 254.9L63.4 254.9L64.1 254.9L64.8 254.9L65.5 254.9L66.2 254.9L66.9 254.9L67.6 254.9L68.3 254.9L69.0 254.9L69.7 254.9L70.4 254.9L71.1 254.9L71.8 254.9L72.5 254.9L73.2 254.9L73.9 254.9L74.6 254.9L75.3 254.9L76.0 254.9L76.7 254.9L77.4 254.9L78.1 254.9L78.8 254.9L79.5 254.9L80.2 254.8L80.9 254.8L81.6 254.8L82.3 254.8L83.0 254.8L83.7 254.8L84.4 254.8L85.1 254.8L85.8 254.8L86.5 254.8L87.2 254.8L87.9 254.8L88.6 254.8L89.3 254.8L90.0 254.8L90.7 254.8L91.4 254.8L92.1 254.8L92.8 254.7L93.5 254.7L94.2 254.7L94.9 254.7L95.6 254.7L96.3 254.7L97.0 254.7L97.7 254.7L98.4 254.7L99.1 254.6L99.8 254.6L100.5 254.6L101.2 254.6L101.9 254.6L102.6 254.6L103.3 254.6L104.0 254.5L104.7 254.5L105.4 254.5L106.1 254.5L106.8 254.5L107.5 254.5L108.2 254.5L108.9 254.4L109.6 254.4L110.3 254.4L111.0 254.4L111.7 254.4L112.4 254.4L113.1 254.3L113.8 254.3L114.5 254.3L115.2 254.3L115.9 254.3L116.6 254.3L117.3 254.3L118.0 254.3L118.7 254.2L119.4 254.2L120.1 254.2L120.8 254.2L121.5 254.2L122.2 254.2L122.9 254.2L123.6 254.2L124.3 254.2L125.0 254.1L125.7 254.1L126.4 254.1L127.1 254.1L127.8 254.1L128.5 254.1L129.2 254.1L129.9 254.1L130.6 254.1L131.3 254.1L132.0 254.1L132.7 254.1L133.4 254.1L134.1 254.1L134.8 254.1L135.5 254.1L136.2 254.1L136.9 254.0L137.6 254.0L138.3 254.0L139.0 254.0L139.7 254.0L140.4 254.0L141.1 254.0L141.8 254.0L142.5 254.0L143.2 254.0L143.9 254.0L144.6 254.0L145.3 254.0L146.0 254.0L146.7 254.0L147.4 254.0L148.1 254.0L148.8 254.0L149.5 254.0L150.2 254.0L150.9 254.0L151.6 254.0L152.3 254.0L153.0 254.0L153.7 254.0L154.4 254.0L155.1 254.0L155.8 254.0L156.5 254.0L157.2 254.0L157.9 254.0L158.6 254.0L159.3 254.0L160.0 254.0L160.7 254.0L161.4 254.0L162.1 254.0L162.8 254.0L163.5 254.0L164.2 254.0L164.9 254.0L165.6 254.0L166.3 254.0L167.0 254.0L167.7 254.0L168.4 254.0L169.1 254.0L169.8 254.0L170.5 254.0L171.2 254.0L171.9 254.0L172.6 254.0L173.3 254.0L174.0 254.0L174.7 254.0L175.4 254.0L176.1 254.0L176.8 254.0L177.5 254.0L178.2 254.0L178.9 254.0L179.6 254.0L180.3 254.0L181.0 254.0L181.7 254.0L182.4 254.0L183.1 254.0L183.8 254.0L184.5 254.0L185.2 254.0L185.9 254.0L186.6 254.0" stroke="#ff8c00" stroke-width="1.70" fill="none" clip-path="url(#cL3)" stroke-linejoin="round"/>
<path d="M55.7 256.7L56.4 256.7L57.1 256.7L57.8 256.7L58.5 256.7L59.2 256.7L59.9 256.7L60.6 256.7L61.3 256.7L62.0 256.7L62.7 256.7L63.4 256.7L64.1 256.7L64.8 256.7L65.5 256.7L66.2 256.7L66.9 256.7L67.6 256.7L68.3 256.7L69.0 256.6L69.7 256.6L70.4 256.6L71.1 256.6L71.8 256.6L72.5 256.6L73.2 256.6L73.9 256.6L74.6 256.6L75.3 256.6L76.0 256.6L76.7 256.6L77.4 256.6L78.1 256.6L78.8 256.6L79.5 256.6L80.2 256.5L80.9 256.5L81.6 256.5L82.3 256.5L83.0 256.5L83.7 256.5L84.4 256.5L85.1 256.5L85.8 256.4L86.5 256.4L87.2 256.4L87.9 256.4L88.6 256.4L89.3 256.4L90.0 256.3L90.7 256.3L91.4 256.3L92.1 256.3L92.8 256.2L93.5 256.2L94.2 256.2L94.9 256.1L95.6 256.1L96.3 256.1L97.0 256.1L97.7 256.0L98.4 256.0L99.1 255.9L99.8 255.9L100.5 255.9L101.2 255.8L101.9 255.8L102.6 255.7L103.3 255.7L104.0 255.6L104.7 255.6L105.4 255.6L106.1 255.5L106.8 255.5L107.5 255.4L108.2 255.4L108.9 255.3L109.6 255.3L110.3 255.2L111.0 255.2L111.7 255.1L112.4 255.1L113.1 255.0L113.8 255.0L114.5 255.0L115.2 254.9L115.9 254.9L116.6 254.8L117.3 254.8L118.0 254.8L118.7 254.7L119.4 254.7L120.1 254.6L120.8 254.6L121.5 254.6L122.2 254.5L122.9 254.5L123.6 254.5L124.3 254.5L125.0 254.4L125.7 254.4L126.4 254.4L127.1 254.4L127.8 254.3L128.5 254.3L129.2 254.3L129.9 254.3L130.6 254.3L131.3 254.3L132.0 254.2L132.7 254.2L133.4 254.2L134.1 254.2L134.8 254.2L135.5 254.2L136.2 254.2L136.9 254.1L137.6 254.1L138.3 254.1L139.0 254.1L139.7 254.1L140.4 254.1L141.1 254.1L141.8 254.1L142.5 254.1L143.2 254.1L143.9 254.1L144.6 254.1L145.3 254.1L146.0 254.1L146.7 254.1L147.4 254.1L148.1 254.1L148.8 254.0L149.5 254.0L150.2 254.0L150.9 254.0L151.6 254.0L152.3 254.0L153.0 254.0L153.7 254.0L154.4 254.0L155.1 254.0L155.8 254.0L156.5 254.0L157.2 254.0L157.9 254.0L158.6 254.0L159.3 254.0L160.0 254.0L160.7 254.0L161.4 254.0L162.1 254.0L162.8 254.0L163.5 254.0L164.2 254.0L164.9 254.0L165.6 254.0L166.3 254.0L167.0 254.0L167.7 254.0L168.4 254.0L169.1 254.0L169.8 254.0L170.5 254.0L171.2 254.0L171.9 254.0L172.6 254.0L173.3 254.0L174.0 254.0L174.7 254.0L175.4 254.0L176.1 254.0L176.8 254.0L177.5 254.0L178.2 254.0L178.9 254.0L179.6 254.0L180.3 254.0L181.0 254.0L181.7 254.0L182.4 254.0L183.1 254.0L183.8 254.0L184.5 254.0L185.2 254.0L185.9 254.0L186.6 254.0" stroke="#ff2a00" stroke-width="1.70" fill="none" clip-path="url(#cL3)" stroke-linejoin="round"/>
<path d="M55.7 263.9L56.4 263.9L57.1 263.9L57.8 263.9L58.5 263.9L59.2 263.9L59.9 263.9L60.6 263.9L61.3 263.9L62.0 263.9L62.7 263.9L63.4 263.9L64.1 263.9L64.8 263.9L65.5 263.9L66.2 263.9L66.9 263.8L67.6 263.8L68.3 263.8L69.0 263.8L69.7 263.8L70.4 263.8L71.1 263.8L71.8 263.8L72.5 263.7L73.2 263.7L73.9 263.7L74.6 263.7L75.3 263.7L76.0 263.6L76.7 263.6L77.4 263.6L78.1 263.5L78.8 263.5L79.5 263.5L80.2 263.4L80.9 263.4L81.6 263.4L82.3 263.3L83.0 263.3L83.7 263.2L84.4 263.2L85.1 263.1L85.8 263.1L86.5 263.0L87.2 262.9L87.9 262.9L88.6 262.8L89.3 262.7L90.0 262.6L90.7 262.6L91.4 262.5L92.1 262.4L92.8 262.3L93.5 262.2L94.2 262.1L94.9 262.0L95.6 261.8L96.3 261.7L97.0 261.6L97.7 261.5L98.4 261.3L99.1 261.2L99.8 261.0L100.5 260.9L101.2 260.7L101.9 260.6L102.6 260.4L103.3 260.3L104.0 260.1L104.7 259.9L105.4 259.8L106.1 259.6L106.8 259.4L107.5 259.2L108.2 259.1L108.9 258.9L109.6 258.7L110.3 258.6L111.0 258.4L111.7 258.2L112.4 258.0L113.1 257.9L113.8 257.7L114.5 257.5L115.2 257.4L115.9 257.2L116.6 257.1L117.3 256.9L118.0 256.8L118.7 256.7L119.4 256.5L120.1 256.4L120.8 256.3L121.5 256.1L122.2 256.0L122.9 255.9L123.6 255.8L124.3 255.7L125.0 255.6L125.7 255.5L126.4 255.4L127.1 255.3L127.8 255.3L128.5 255.2L129.2 255.1L129.9 255.1L130.6 255.0L131.3 254.9L132.0 254.9L132.7 254.8L133.4 254.8L134.1 254.7L134.8 254.7L135.5 254.6L136.2 254.6L136.9 254.6L137.6 254.5L138.3 254.5L139.0 254.5L139.7 254.4L140.4 254.4L141.1 254.4L141.8 254.3L142.5 254.3L143.2 254.3L143.9 254.3L144.6 254.3L145.3 254.2L146.0 254.2L146.7 254.2L147.4 254.2L148.1 254.2L148.8 254.2L149.5 254.2L150.2 254.2L150.9 254.1L151.6 254.1L152.3 254.1L153.0 254.1L153.7 254.1L154.4 254.1L155.1 254.1L155.8 254.1L156.5 254.1L157.2 254.1L157.9 254.1L158.6 254.1L159.3 254.1L160.0 254.1L160.7 254.1L161.4 254.1L162.1 254.0L162.8 254.0L163.5 254.0L164.2 254.0L164.9 254.0L165.6 254.0L166.3 254.0L167.0 254.0L167.7 254.0L168.4 254.0L169.1 254.0L169.8 254.0L170.5 254.0L171.2 254.0L171.9 254.0L172.6 254.0L173.3 254.0L174.0 254.0L174.7 254.0L175.4 254.0L176.1 254.0L176.8 254.0L177.5 254.0L178.2 254.0L178.9 254.0L179.6 254.0L180.3 254.0L181.0 254.0L181.7 254.0L182.4 254.0L183.1 254.0L183.8 254.0L184.5 254.0L185.2 254.0L185.9 254.0L186.6 254.0" stroke="#f20000" stroke-width="1.70" fill="none" clip-path="url(#cL3)" stroke-linejoin="round"/>
<path d="M55.7 288.3L56.4 288.3L57.1 288.3L57.8 288.3L58.5 288.3L59.2 288.3L59.9 288.2L60.6 288.2L61.3 288.2L62.0 288.2L62.7 288.1L63.4 288.1L64.1 288.1L64.8 288.1L65.5 288.0L66.2 288.0L66.9 288.0L67.6 287.9L68.3 287.9L69.0 287.8L69.7 287.8L70.4 287.8L71.1 287.7L71.8 287.6L72.5 287.6L73.2 287.5L73.9 287.4L74.6 287.4L75.3 287.3L76.0 287.2L76.7 287.1L77.4 287.0L78.1 286.9L78.8 286.8L79.5 286.7L80.2 286.6L80.9 286.4L81.6 286.3L82.3 286.2L83.0 286.0L83.7 285.8L84.4 285.7L85.1 285.5L85.8 285.3L86.5 285.1L87.2 284.8L87.9 284.6L88.6 284.4L89.3 284.1L90.0 283.8L90.7 283.5L91.4 283.2L92.1 282.9L92.8 282.6L93.5 282.2L94.2 281.8L94.9 281.5L95.6 281.1L96.3 280.6L97.0 280.2L97.7 279.8L98.4 279.3L99.1 278.8L99.8 278.3L100.5 277.8L101.2 277.3L101.9 276.7L102.6 276.2L103.3 275.6L104.0 275.1L104.7 274.5L105.4 273.9L106.1 273.3L106.8 272.7L107.5 272.1L108.2 271.5L108.9 270.9L109.6 270.3L110.3 269.7L111.0 269.1L111.7 268.5L112.4 267.9L113.1 267.4L113.8 266.8L114.5 266.2L115.2 265.7L115.9 265.1L116.6 264.6L117.3 264.1L118.0 263.6L118.7 263.1L119.4 262.7L120.1 262.2L120.8 261.8L121.5 261.4L122.2 261.0L122.9 260.6L123.6 260.2L124.3 259.9L125.0 259.6L125.7 259.2L126.4 258.9L127.1 258.6L127.8 258.4L128.5 258.1L129.2 257.9L129.9 257.6L130.6 257.4L131.3 257.2L132.0 257.0L132.7 256.8L133.4 256.6L134.1 256.5L134.8 256.3L135.5 256.2L136.2 256.0L136.9 255.9L137.6 255.8L138.3 255.7L139.0 255.6L139.7 255.5L140.4 255.4L141.1 255.3L141.8 255.2L142.5 255.1L143.2 255.0L143.9 255.0L144.6 254.9L145.3 254.8L146.0 254.8L146.7 254.7L147.4 254.7L148.1 254.6L148.8 254.6L149.5 254.6L150.2 254.5L150.9 254.5L151.6 254.5L152.3 254.4L153.0 254.4L153.7 254.4L154.4 254.3L155.1 254.3L155.8 254.3L156.5 254.3L157.2 254.3L157.9 254.2L158.6 254.2L159.3 254.2L160.0 254.2L160.7 254.2L161.4 254.2L162.1 254.2L162.8 254.2L163.5 254.1L164.2 254.1L164.9 254.1L165.6 254.1L166.3 254.1L167.0 254.1L167.7 254.1L168.4 254.1L169.1 254.1L169.8 254.1L170.5 254.1L171.2 254.1L171.9 254.1L172.6 254.1L173.3 254.1L174.0 254.0L174.7 254.0L175.4 254.0L176.1 254.0L176.8 254.0L177.5 254.0L178.2 254.0L178.9 254.0L179.6 254.0L180.3 254.0L181.0 254.0L181.7 254.0L182.4 254.0L183.1 254.0L183.8 254.0L184.5 254.0L185.2 254.0L185.9 254.0L186.6 254.0" stroke="#e00000" stroke-width="1.70" fill="none" clip-path="url(#cL3)" stroke-linejoin="round"/>
<path d="M55.7 313.8L56.4 313.8L57.1 313.8L57.8 313.7L58.5 313.7L59.2 313.7L59.9 313.6L60.6 313.6L61.3 313.6L62.0 313.5L62.7 313.5L63.4 313.4L64.1 313.4L64.8 313.3L65.5 313.3L66.2 313.2L66.9 313.2L67.6 313.1L68.3 313.0L69.0 313.0L69.7 312.9L70.4 312.8L71.1 312.7L71.8 312.6L72.5 312.5L73.2 312.4L73.9 312.3L74.6 312.1L75.3 312.0L76.0 311.9L76.7 311.7L77.4 311.5L78.1 311.4L78.8 311.2L79.5 311.0L80.2 310.8L80.9 310.5L81.6 310.3L82.3 310.0L83.0 309.7L83.7 309.5L84.4 309.1L85.1 308.8L85.8 308.5L86.5 308.1L87.2 307.7L87.9 307.3L88.6 306.9L89.3 306.4L90.0 305.9L90.7 305.4L91.4 304.9L92.1 304.3L92.8 303.7L93.5 303.1L94.2 302.5L94.9 301.8L95.6 301.1L96.3 300.4L97.0 299.6L97.7 298.9L98.4 298.1L99.1 297.2L99.8 296.4L100.5 295.5L101.2 294.6L101.9 293.6L102.6 292.7L103.3 291.7L104.0 290.7L104.7 289.7L105.4 288.7L106.1 287.6L106.8 286.6L107.5 285.6L108.2 284.5L108.9 283.4L109.6 282.4L110.3 281.4L111.0 280.3L111.7 279.3L112.4 278.3L113.1 277.3L113.8 276.3L114.5 275.3L115.2 274.3L115.9 273.4L116.6 272.5L117.3 271.6L118.0 270.8L118.7 269.9L119.4 269.1L120.1 268.3L120.8 267.6L121.5 266.9L122.2 266.2L122.9 265.5L123.6 264.9L124.3 264.3L125.0 263.7L125.7 263.1L126.4 262.6L127.1 262.1L127.8 261.6L128.5 261.2L129.2 260.7L129.9 260.3L130.6 259.9L131.3 259.6L132.0 259.2L132.7 258.9L133.4 258.6L134.1 258.3L134.8 258.0L135.5 257.8L136.2 257.5L136.9 257.3L137.6 257.1L138.3 256.9L139.0 256.7L139.7 256.5L140.4 256.4L141.1 256.2L141.8 256.1L142.5 255.9L143.2 255.8L143.9 255.7L144.6 255.6L145.3 255.5L146.0 255.4L146.7 255.3L147.4 255.2L148.1 255.1L148.8 255.0L149.5 255.0L150.2 254.9L150.9 254.9L151.6 254.8L152.3 254.7L153.0 254.7L153.7 254.6L154.4 254.6L155.1 254.6L155.8 254.5L156.5 254.5L157.2 254.5L157.9 254.4L158.6 254.4L159.3 254.4L160.0 254.3L160.7 254.3L161.4 254.3L162.1 254.3L162.8 254.3L163.5 254.2L164.2 254.2L164.9 254.2L165.6 254.2L166.3 254.2L167.0 254.2L167.7 254.2L168.4 254.2L169.1 254.1L169.8 254.1L170.5 254.1L171.2 254.1L171.9 254.1L172.6 254.1L173.3 254.1L174.0 254.1L174.7 254.1L175.4 254.1L176.1 254.1L176.8 254.1L177.5 254.1L178.2 254.1L178.9 254.1L179.6 254.0L180.3 254.0L181.0 254.0L181.7 254.0L182.4 254.0L183.1 254.0L183.8 254.0L184.5 254.0L185.2 254.0L185.9 254.0L186.6 254.0" stroke="#8b0000" stroke-width="1.70" fill="none" clip-path="url(#cL3)" stroke-linejoin="round"/>
<path d="M55.7 327.9L56.4 327.9L57.1 327.9L57.8 327.8L58.5 327.8L59.2 327.8L59.9 327.7L60.6 327.7L61.3 327.6L62.0 327.6L62.7 327.5L63.4 327.5L64.1 327.4L64.8 327.4L65.5 327.3L66.2 327.2L66.9 327.2L67.6 327.1L68.3 327.0L69.0 326.9L69.7 326.8L70.4 326.7L71.1 326.6L71.8 326.5L72.5 326.3L73.2 326.2L73.9 326.0L74.6 325.9L75.3 325.7L76.0 325.5L76.7 325.3L77.4 325.1L78.1 324.9L78.8 324.7L79.5 324.4L80.2 324.2L80.9 323.9L81.6 323.6L82.3 323.3L83.0 322.9L83.7 322.6L84.4 322.2L85.1 321.8L85.8 321.3L86.5 320.9L87.2 320.4L87.9 319.9L88.6 319.4L89.3 318.8L90.0 318.2L90.7 317.6L91.4 316.9L92.1 316.2L92.8 315.5L93.5 314.7L94.2 314.0L94.9 313.1L95.6 312.3L96.3 311.4L97.0 310.4L97.7 309.5L98.4 308.5L99.1 307.4L99.8 306.4L100.5 305.3L101.2 304.1L101.9 303.0L102.6 301.8L103.3 300.6L104.0 299.4L104.7 298.1L105.4 296.9L106.1 295.6L106.8 294.3L107.5 293.0L108.2 291.7L108.9 290.4L109.6 289.1L110.3 287.8L111.0 286.5L111.7 285.3L112.4 284.0L113.1 282.8L113.8 281.5L114.5 280.3L115.2 279.2L115.9 278.0L116.6 276.9L117.3 275.8L118.0 274.7L118.7 273.7L119.4 272.7L120.1 271.7L120.8 270.8L121.5 269.9L122.2 269.1L122.9 268.2L123.6 267.4L124.3 266.7L125.0 266.0L125.7 265.3L126.4 264.6L127.1 264.0L127.8 263.4L128.5 262.9L129.2 262.3L129.9 261.8L130.6 261.3L131.3 260.9L132.0 260.5L132.7 260.1L133.4 259.7L134.1 259.3L134.8 259.0L135.5 258.7L136.2 258.4L136.9 258.1L137.6 257.8L138.3 257.6L139.0 257.4L139.7 257.1L140.4 256.9L141.1 256.7L141.8 256.6L142.5 256.4L143.2 256.2L143.9 256.1L144.6 256.0L145.3 255.8L146.0 255.7L146.7 255.6L147.4 255.5L148.1 255.4L148.8 255.3L149.5 255.2L150.2 255.1L150.9 255.1L151.6 255.0L152.3 254.9L153.0 254.9L153.7 254.8L154.4 254.7L155.1 254.7L155.8 254.7L156.5 254.6L157.2 254.6L157.9 254.5L158.6 254.5L159.3 254.5L160.0 254.4L160.7 254.4L161.4 254.4L162.1 254.3L162.8 254.3L163.5 254.3L164.2 254.3L164.9 254.3L165.6 254.2L166.3 254.2L167.0 254.2L167.7 254.2L168.4 254.2L169.1 254.2L169.8 254.2L170.5 254.2L171.2 254.1L171.9 254.1L172.6 254.1L173.3 254.1L174.0 254.1L174.7 254.1L175.4 254.1L176.1 254.1L176.8 254.1L177.5 254.1L178.2 254.1L178.9 254.1L179.6 254.1L180.3 254.1L181.0 254.1L181.7 254.0L182.4 254.0L183.1 254.0L183.8 254.0L184.5 254.0L185.2 254.0L185.9 254.0L186.6 254.0" stroke="#440000" stroke-width="1.70" fill="none" clip-path="url(#cL3)" stroke-linejoin="round"/>
<path d="M253.0 129.9L253.7 129.4L254.4 128.9L255.1 128.4L255.8 127.9L256.5 127.4L257.2 126.9L257.9 126.4L258.6 125.9L259.3 125.4L260.0 124.9L260.7 124.4L261.4 123.9L262.1 123.4L262.8 122.9L263.5 122.4L264.2 121.9L264.9 121.4L265.6 120.9L266.3 120.5L267.0 120.0L267.7 119.5L268.4 119.0L269.1 118.5L269.8 118.0L270.5 117.6L271.2 117.1L271.9 116.6L272.6 116.1L273.3 115.7L274.0 115.2L274.7 114.7L275.4 114.3L276.1 113.8L276.8 113.4L277.5 112.9L278.2 112.4L278.9 112.0L279.6 111.5L280.3 111.1L281.0 110.6L281.7 110.1L282.4 109.7L283.1 109.2L283.8 108.7L284.5 108.3L285.2 107.8L285.9 107.3L286.6 106.8L287.3 106.4L288.0 105.9L288.7 105.4L289.4 104.9L290.1 104.4L290.8 103.8L291.5 103.3L292.2 102.8L292.9 102.3L293.6 101.8L294.3 101.3L295.0 100.8L295.7 100.3L296.4 99.7L297.1 99.2L297.8 98.6L298.5 98.1L299.2 97.5L299.9 96.9L300.6 96.4L301.3 95.8L302.0 95.2L302.7 94.6L303.4 94.0L304.1 93.4L304.8 92.8L305.5 92.2L306.2 91.6L306.9 91.0L307.6 90.4L308.3 89.8L309.0 89.2L309.7 88.6L310.4 88.0L311.1 87.4L311.8 86.8L312.5 86.2L313.2 85.6L313.9 85.1L314.6 84.5L315.3 83.9L316.0 83.4L316.7 82.8L317.4 82.3L318.1 81.7L318.8 81.2L319.5 80.6L320.2 79.9L320.9 79.3L321.6 78.6L322.3 77.9L323.0 77.3L323.7 76.5L324.4 75.8L325.1 75.1L325.8 74.4L326.5 73.6L327.2 72.9L327.9 72.2L328.6 71.5L329.3 70.8L330.0 70.1L330.7 69.5L331.4 68.8L332.1 68.1L332.8 67.4L333.5 66.8L334.2 66.1L334.9 65.4L335.6 64.7L336.3 63.9L337.0 63.2L337.7 62.5L338.4 61.8L339.1 61.0L339.8 60.3L340.5 59.5L341.2 58.8L341.9 58.0L342.6 57.2L343.3 56.4L344.0 55.6L344.7 54.8L345.4 54.0L346.1 53.1L346.8 52.3L347.5 51.4L348.2 50.6L348.9 49.7L349.6 48.9L350.3 48.0L351.0 47.2L351.7 46.3L352.4 45.5L353.1 44.7L353.8 43.9L354.5 43.0L355.2 42.1L355.9 41.2L356.6 40.3L357.3 39.3L358.0 38.2L358.7 37.1L359.4 35.9L360.1 34.7L360.8 33.6L361.5 32.4L362.2 31.3L362.9 30.3L363.6 29.2L364.3 28.0L365.0 27.0L365.7 26.3L366.4 26.5L367.1 27.4L367.8 28.6L368.5 30.0L369.2 31.4L369.9 33.1L370.6 34.7L371.3 36.0L372.0 36.7L372.7 36.6L373.4 36.1L374.1 35.4L374.8 34.8L375.5 34.4L376.2 34.2L376.9 34.1L377.6 34.0L378.3 33.8L379.0 33.7L379.7 33.6L380.4 33.4L381.1 33.3L381.8 33.2L382.5 33.0L383.2 32.9L383.9 32.8" stroke="#7a1a9a" stroke-width="1.30" fill="none" clip-path="url(#cR1)" stroke-linejoin="round"/>
<path d="M253.0 125.0L253.7 124.5L254.4 124.0L255.1 123.5L255.8 123.0L256.5 122.4L257.2 121.9L257.9 121.4L258.6 120.9L259.3 120.4L260.0 119.9L260.7 119.4L261.4 118.9L262.1 118.4L262.8 117.9L263.5 117.4L264.2 116.9L264.9 116.5L265.6 116.0L266.3 115.5L267.0 115.0L267.7 114.5L268.4 114.0L269.1 113.5L269.8 113.0L270.5 112.6L271.2 112.1L271.9 111.6L272.6 111.1L273.3 110.7L274.0 110.2L274.7 109.7L275.4 109.3L276.1 108.8L276.8 108.3L277.5 107.9L278.2 107.4L278.9 106.9L279.6 106.5L280.3 106.0L281.0 105.6L281.7 105.1L282.4 104.6L283.1 104.2L283.8 103.7L284.5 103.2L285.2 102.8L285.9 102.3L286.6 101.8L287.3 101.3L288.0 100.8L288.7 100.3L289.4 99.8L290.1 99.3L290.8 98.8L291.5 98.3L292.2 97.8L292.9 97.3L293.6 96.8L294.3 96.3L295.0 95.8L295.7 95.3L296.4 94.8L297.1 94.2L297.8 93.7L298.5 93.1L299.2 92.6L299.9 92.0L300.6 91.5L301.3 90.9L302.0 90.3L302.7 89.7L303.4 89.2L304.1 88.6L304.8 88.0L305.5 87.4L306.2 86.8L306.9 86.2L307.6 85.6L308.3 85.0L309.0 84.5L309.7 83.9L310.4 83.3L311.1 82.7L311.8 82.2L312.5 81.6L313.2 81.1L313.9 80.5L314.6 80.0L315.3 79.4L316.0 78.9L316.7 78.4L317.4 77.9L318.1 77.3L318.8 76.8L319.5 76.2L320.2 75.7L320.9 75.1L321.6 74.4L322.3 73.8L323.0 73.1L323.7 72.5L324.4 71.8L325.1 71.1L325.8 70.5L326.5 69.8L327.2 69.1L327.9 68.5L328.6 67.8L329.3 67.2L330.0 66.6L330.7 66.0L331.4 65.3L332.1 64.7L332.8 64.1L333.5 63.5L334.2 62.8L334.9 62.2L335.6 61.6L336.3 60.9L337.0 60.3L337.7 59.6L338.4 58.9L339.1 58.3L339.8 57.6L340.5 56.9L341.2 56.2L341.9 55.5L342.6 54.8L343.3 54.1L344.0 53.3L344.7 52.6L345.4 51.8L346.1 51.1L346.8 50.3L347.5 49.5L348.2 48.7L348.9 48.0L349.6 47.2L350.3 46.4L351.0 45.7L351.7 44.9L352.4 44.1L353.1 43.4L353.8 42.6L354.5 41.9L355.2 41.1L355.9 40.2L356.6 39.4L357.3 38.5L358.0 37.5L358.7 36.4L359.4 35.4L360.1 34.3L360.8 33.2L361.5 32.2L362.2 31.1L362.9 30.2L363.6 29.2L364.3 28.0L365.0 27.1L365.7 26.5L366.4 26.7L367.1 27.5L367.8 28.8L368.5 30.1L369.2 31.5L369.9 33.2L370.6 34.8L371.3 36.1L372.0 36.8L372.7 36.7L373.4 36.2L374.1 35.6L374.8 34.9L375.5 34.5L376.2 34.3L376.9 34.2L377.6 34.0L378.3 33.9L379.0 33.8L379.7 33.6L380.4 33.5L381.1 33.4L381.8 33.2L382.5 33.1L383.2 33.0L383.9 32.9" stroke="#7917a7" stroke-width="1.30" fill="none" clip-path="url(#cR1)" stroke-linejoin="round"/>
<path d="M253.0 121.0L253.7 120.5L254.4 120.0L255.1 119.5L255.8 118.9L256.5 118.4L257.2 117.9L257.9 117.4L258.6 116.9L259.3 116.4L260.0 115.9L260.7 115.4L261.4 114.9L262.1 114.4L262.8 113.9L263.5 113.4L264.2 112.9L264.9 112.4L265.6 111.9L266.3 111.4L267.0 110.9L267.7 110.4L268.4 109.9L269.1 109.5L269.8 109.0L270.5 108.5L271.2 108.0L271.9 107.5L272.6 107.0L273.3 106.6L274.0 106.1L274.7 105.6L275.4 105.2L276.1 104.7L276.8 104.2L277.5 103.8L278.2 103.3L278.9 102.8L279.6 102.4L280.3 101.9L281.0 101.4L281.7 101.0L282.4 100.5L283.1 100.0L283.8 99.6L284.5 99.1L285.2 98.6L285.9 98.2L286.6 97.7L287.3 97.2L288.0 96.7L288.7 96.2L289.4 95.7L290.1 95.2L290.8 94.7L291.5 94.2L292.2 93.7L292.9 93.2L293.6 92.7L294.3 92.2L295.0 91.7L295.7 91.2L296.4 90.7L297.1 90.2L297.8 89.6L298.5 89.1L299.2 88.5L299.9 88.0L300.6 87.5L301.3 86.9L302.0 86.3L302.7 85.8L303.4 85.2L304.1 84.6L304.8 84.1L305.5 83.5L306.2 82.9L306.9 82.3L307.6 81.8L308.3 81.2L309.0 80.6L309.7 80.1L310.4 79.5L311.1 79.0L311.8 78.4L312.5 77.9L313.2 77.3L313.9 76.8L314.6 76.3L315.3 75.8L316.0 75.3L316.7 74.8L317.4 74.3L318.1 73.8L318.8 73.2L319.5 72.7L320.2 72.2L320.9 71.6L321.6 71.0L322.3 70.4L323.0 69.8L323.7 69.2L324.4 68.5L325.1 67.9L325.8 67.3L326.5 66.6L327.2 66.0L327.9 65.4L328.6 64.8L329.3 64.2L330.0 63.6L330.7 63.1L331.4 62.5L332.1 61.9L332.8 61.4L333.5 60.8L334.2 60.2L334.9 59.6L335.6 59.0L336.3 58.4L337.0 57.8L337.7 57.2L338.4 56.6L339.1 56.0L339.8 55.4L340.5 54.7L341.2 54.1L341.9 53.5L342.6 52.8L343.3 52.1L344.0 51.4L344.7 50.8L345.4 50.1L346.1 49.4L346.8 48.7L347.5 48.0L348.2 47.2L348.9 46.5L349.6 45.8L350.3 45.1L351.0 44.4L351.7 43.7L352.4 43.0L353.1 42.3L353.8 41.6L354.5 40.9L355.2 40.2L355.9 39.4L356.6 38.6L357.3 37.8L358.0 36.9L358.7 35.9L359.4 34.9L360.1 33.9L360.8 32.9L361.5 31.9L362.2 31.0L362.9 30.1L363.6 29.1L364.3 28.1L365.0 27.1L365.7 26.6L366.4 26.8L367.1 27.7L367.8 28.9L368.5 30.2L369.2 31.6L369.9 33.3L370.6 34.9L371.3 36.2L372.0 36.9L372.7 36.9L373.4 36.4L374.1 35.7L374.8 35.0L375.5 34.6L376.2 34.4L376.9 34.2L377.6 34.1L378.3 34.0L379.0 33.8L379.7 33.7L380.4 33.6L381.1 33.4L381.8 33.3L382.5 33.2L383.2 33.1L383.9 33.0" stroke="#7713b4" stroke-width="1.30" fill="none" clip-path="url(#cR1)" stroke-linejoin="round"/>
<path d="M253.0 116.9L253.7 116.4L254.4 115.9L255.1 115.3L255.8 114.8L256.5 114.3L257.2 113.8L257.9 113.3L258.6 112.8L259.3 112.3L260.0 111.8L260.7 111.2L261.4 110.7L262.1 110.2L262.8 109.7L263.5 109.2L264.2 108.7L264.9 108.2L265.6 107.7L266.3 107.2L267.0 106.7L267.7 106.3L268.4 105.8L269.1 105.3L269.8 104.8L270.5 104.3L271.2 103.8L271.9 103.3L272.6 102.9L273.3 102.4L274.0 101.9L274.7 101.4L275.4 101.0L276.1 100.5L276.8 100.0L277.5 99.6L278.2 99.1L278.9 98.6L279.6 98.2L280.3 97.7L281.0 97.2L281.7 96.8L282.4 96.3L283.1 95.8L283.8 95.4L284.5 94.9L285.2 94.4L285.9 93.9L286.6 93.5L287.3 93.0L288.0 92.5L288.7 92.0L289.4 91.5L290.1 91.0L290.8 90.5L291.5 90.0L292.2 89.5L292.9 89.0L293.6 88.5L294.3 88.0L295.0 87.5L295.7 87.0L296.4 86.5L297.1 86.0L297.8 85.5L298.5 84.9L299.2 84.4L299.9 83.9L300.6 83.3L301.3 82.8L302.0 82.3L302.7 81.7L303.4 81.2L304.1 80.6L304.8 80.0L305.5 79.5L306.2 78.9L306.9 78.4L307.6 77.8L308.3 77.2L309.0 76.7L309.7 76.2L310.4 75.6L311.1 75.1L311.8 74.5L312.5 74.0L313.2 73.5L313.9 73.0L314.6 72.5L315.3 72.0L316.0 71.5L316.7 71.0L317.4 70.6L318.1 70.1L318.8 69.6L319.5 69.1L320.2 68.6L320.9 68.0L321.6 67.5L322.3 66.9L323.0 66.3L323.7 65.8L324.4 65.2L325.1 64.6L325.8 64.0L326.5 63.4L327.2 62.8L327.9 62.3L328.6 61.7L329.3 61.2L330.0 60.7L330.7 60.1L331.4 59.6L332.1 59.1L332.8 58.6L333.5 58.0L334.2 57.5L334.9 57.0L335.6 56.4L336.3 55.9L337.0 55.3L337.7 54.8L338.4 54.2L339.1 53.7L339.8 53.1L340.5 52.5L341.2 51.9L341.9 51.4L342.6 50.8L343.3 50.1L344.0 49.5L344.7 48.9L345.4 48.3L346.1 47.6L346.8 47.0L347.5 46.4L348.2 45.7L348.9 45.1L349.6 44.4L350.3 43.8L351.0 43.1L351.7 42.5L352.4 41.9L353.1 41.2L353.8 40.6L354.5 40.0L355.2 39.3L355.9 38.6L356.6 37.9L357.3 37.1L358.0 36.2L358.7 35.3L359.4 34.4L360.1 33.5L360.8 32.6L361.5 31.7L362.2 30.8L362.9 29.9L363.6 29.1L364.3 28.1L365.0 27.2L365.7 26.7L366.4 27.0L367.1 27.8L367.8 29.0L368.5 30.3L369.2 31.7L369.9 33.4L370.6 35.1L371.3 36.4L372.0 37.1L372.7 37.0L373.4 36.5L374.1 35.8L374.8 35.1L375.5 34.7L376.2 34.5L376.9 34.3L377.6 34.2L378.3 34.1L379.0 33.9L379.7 33.8L380.4 33.6L381.1 33.5L381.8 33.4L382.5 33.2L383.2 33.1L383.9 33.0" stroke="#7610c1" stroke-width="1.30" fill="none" clip-path="url(#cR1)" stroke-linejoin="round"/>
<path d="M253.0 112.9L253.7 112.4L254.4 111.9L255.1 111.3L255.8 110.8L256.5 110.3L257.2 109.8L257.9 109.3L258.6 108.7L259.3 108.2L260.0 107.7L260.7 107.2L261.4 106.7L262.1 106.2L262.8 105.7L263.5 105.2L264.2 104.7L264.9 104.2L265.6 103.7L266.3 103.2L267.0 102.7L267.7 102.2L268.4 101.7L269.1 101.2L269.8 100.7L270.5 100.2L271.2 99.7L271.9 99.2L272.6 98.8L273.3 98.3L274.0 97.8L274.7 97.3L275.4 96.9L276.1 96.4L276.8 95.9L277.5 95.4L278.2 95.0L278.9 94.5L279.6 94.0L280.3 93.6L281.0 93.1L281.7 92.6L282.4 92.2L283.1 91.7L283.8 91.2L284.5 90.8L285.2 90.3L285.9 89.8L286.6 89.3L287.3 88.9L288.0 88.4L288.7 87.9L289.4 87.4L290.1 86.9L290.8 86.4L291.5 85.9L292.2 85.4L292.9 84.9L293.6 84.4L294.3 83.9L295.0 83.4L295.7 82.9L296.4 82.4L297.1 81.9L297.8 81.4L298.5 80.9L299.2 80.4L299.9 79.9L300.6 79.3L301.3 78.8L302.0 78.3L302.7 77.7L303.4 77.2L304.1 76.7L304.8 76.1L305.5 75.6L306.2 75.0L306.9 74.5L307.6 73.9L308.3 73.4L309.0 72.9L309.7 72.3L310.4 71.8L311.1 71.3L311.8 70.8L312.5 70.3L313.2 69.8L313.9 69.3L314.6 68.8L315.3 68.3L316.0 67.9L316.7 67.4L317.4 67.0L318.1 66.5L318.8 66.0L319.5 65.6L320.2 65.1L320.9 64.6L321.6 64.0L322.3 63.5L323.0 63.0L323.7 62.4L324.4 61.9L325.1 61.4L325.8 60.8L326.5 60.3L327.2 59.7L327.9 59.2L328.6 58.7L329.3 58.2L330.0 57.7L330.7 57.3L331.4 56.8L332.1 56.3L332.8 55.8L333.5 55.3L334.2 54.9L334.9 54.4L335.6 53.9L336.3 53.4L337.0 52.9L337.7 52.4L338.4 51.9L339.1 51.4L339.8 50.9L340.5 50.4L341.2 49.8L341.9 49.3L342.6 48.8L343.3 48.2L344.0 47.7L344.7 47.1L345.4 46.5L346.1 46.0L346.8 45.4L347.5 44.8L348.2 44.2L348.9 43.6L349.6 43.1L350.3 42.5L351.0 41.9L351.7 41.3L352.4 40.8L353.1 40.2L353.8 39.6L354.5 39.0L355.2 38.4L355.9 37.8L356.6 37.1L357.3 36.4L358.0 35.6L358.7 34.8L359.4 34.0L360.1 33.1L360.8 32.3L361.5 31.5L362.2 30.6L362.9 29.8L363.6 29.0L364.3 28.1L365.0 27.3L365.7 26.8L366.4 27.1L367.1 28.0L367.8 29.2L368.5 30.4L369.2 31.9L369.9 33.5L370.6 35.2L371.3 36.5L372.0 37.2L372.7 37.1L373.4 36.6L374.1 35.9L374.8 35.2L375.5 34.8L376.2 34.6L376.9 34.4L377.6 34.3L378.3 34.1L379.0 34.0L379.7 33.9L380.4 33.7L381.1 33.6L381.8 33.4L382.5 33.3L383.2 33.2L383.9 33.1" stroke="#750cce" stroke-width="1.30" fill="none" clip-path="url(#cR1)" stroke-linejoin="round"/>
<path d="M253.0 110.5L253.7 110.0L254.4 109.4L255.1 108.9L255.8 108.4L256.5 107.9L257.2 107.4L257.9 106.8L258.6 106.3L259.3 105.8L260.0 105.3L260.7 104.8L261.4 104.3L262.1 103.8L262.8 103.3L263.5 102.7L264.2 102.2L264.9 101.7L265.6 101.2L266.3 100.7L267.0 100.2L267.7 99.7L268.4 99.2L269.1 98.7L269.8 98.3L270.5 97.8L271.2 97.3L271.9 96.8L272.6 96.3L273.3 95.8L274.0 95.4L274.7 94.9L275.4 94.4L276.1 93.9L276.8 93.5L277.5 93.0L278.2 92.5L278.9 92.0L279.6 91.6L280.3 91.1L281.0 90.6L281.7 90.2L282.4 89.7L283.1 89.2L283.8 88.8L284.5 88.3L285.2 87.8L285.9 87.4L286.6 86.9L287.3 86.4L288.0 85.9L288.7 85.4L289.4 84.9L290.1 84.4L290.8 83.9L291.5 83.5L292.2 83.0L292.9 82.5L293.6 82.0L294.3 81.5L295.0 81.0L295.7 80.5L296.4 80.0L297.1 79.5L297.8 79.0L298.5 78.5L299.2 78.0L299.9 77.5L300.6 76.9L301.3 76.4L302.0 75.9L302.7 75.4L303.4 74.8L304.1 74.3L304.8 73.8L305.5 73.2L306.2 72.7L306.9 72.1L307.6 71.6L308.3 71.1L309.0 70.6L309.7 70.0L310.4 69.5L311.1 69.0L311.8 68.5L312.5 68.0L313.2 67.5L313.9 67.0L314.6 66.6L315.3 66.1L316.0 65.7L316.7 65.2L317.4 64.8L318.1 64.4L318.8 63.9L319.5 63.4L320.2 63.0L320.9 62.5L321.6 62.0L322.3 61.5L323.0 61.0L323.7 60.5L324.4 59.9L325.1 59.4L325.8 58.9L326.5 58.4L327.2 57.9L327.9 57.4L328.6 56.9L329.3 56.4L330.0 56.0L330.7 55.5L331.4 55.1L332.1 54.6L332.8 54.2L333.5 53.7L334.2 53.3L334.9 52.8L335.6 52.4L336.3 51.9L337.0 51.4L337.7 51.0L338.4 50.5L339.1 50.0L339.8 49.5L340.5 49.1L341.2 48.6L341.9 48.1L342.6 47.6L343.3 47.1L344.0 46.5L344.7 46.0L345.4 45.5L346.1 44.9L346.8 44.4L347.5 43.9L348.2 43.3L348.9 42.8L349.6 42.2L350.3 41.7L351.0 41.2L351.7 40.6L352.4 40.1L353.1 39.5L353.8 39.0L354.5 38.5L355.2 37.9L355.9 37.3L356.6 36.6L357.3 36.0L358.0 35.2L358.7 34.5L359.4 33.7L360.1 32.9L360.8 32.1L361.5 31.3L362.2 30.5L362.9 29.8L363.6 29.0L364.3 28.1L365.0 27.4L365.7 27.0L366.4 27.3L367.1 28.1L367.8 29.3L368.5 30.6L369.2 32.0L369.9 33.7L370.6 35.3L371.3 36.6L372.0 37.4L372.7 37.3L373.4 36.8L374.1 36.1L374.8 35.4L375.5 34.9L376.2 34.7L376.9 34.5L377.6 34.3L378.3 34.2L379.0 34.1L379.7 33.9L380.4 33.8L381.1 33.7L381.8 33.5L382.5 33.4L383.2 33.3L383.9 33.2" stroke="#7409dc" stroke-width="1.30" fill="none" clip-path="url(#cR1)" stroke-linejoin="round"/>
<path d="M253.0 107.2L253.7 106.7L254.4 106.1L255.1 105.6L255.8 105.1L256.5 104.6L257.2 104.0L257.9 103.5L258.6 103.0L259.3 102.5L260.0 102.0L260.7 101.4L261.4 100.9L262.1 100.4L262.8 99.9L263.5 99.4L264.2 98.9L264.9 98.4L265.6 97.9L266.3 97.4L267.0 96.9L267.7 96.4L268.4 95.9L269.1 95.4L269.8 94.9L270.5 94.4L271.2 93.9L271.9 93.4L272.6 92.9L273.3 92.5L274.0 92.0L274.7 91.5L275.4 91.0L276.1 90.5L276.8 90.1L277.5 89.6L278.2 89.1L278.9 88.7L279.6 88.2L280.3 87.7L281.0 87.2L281.7 86.8L282.4 86.3L283.1 85.8L283.8 85.4L284.5 84.9L285.2 84.4L285.9 84.0L286.6 83.5L287.3 83.0L288.0 82.5L288.7 82.0L289.4 81.5L290.1 81.0L290.8 80.6L291.5 80.1L292.2 79.6L292.9 79.1L293.6 78.6L294.3 78.1L295.0 77.6L295.7 77.1L296.4 76.6L297.1 76.2L297.8 75.6L298.5 75.1L299.2 74.6L299.9 74.1L300.6 73.6L301.3 73.1L302.0 72.6L302.7 72.1L303.4 71.6L304.1 71.0L304.8 70.5L305.5 70.0L306.2 69.5L306.9 68.9L307.6 68.4L308.3 67.9L309.0 67.4L309.7 66.9L310.4 66.4L311.1 65.9L311.8 65.4L312.5 64.9L313.2 64.4L313.9 64.0L314.6 63.5L315.3 63.1L316.0 62.7L316.7 62.2L317.4 61.8L318.1 61.4L318.8 61.0L319.5 60.5L320.2 60.1L320.9 59.6L321.6 59.2L322.3 58.7L323.0 58.2L323.7 57.7L324.4 57.2L325.1 56.8L325.8 56.3L326.5 55.8L327.2 55.3L327.9 54.9L328.6 54.4L329.3 54.0L330.0 53.6L330.7 53.2L331.4 52.8L332.1 52.3L332.8 51.9L333.5 51.5L334.2 51.1L334.9 50.7L335.6 50.3L336.3 49.9L337.0 49.4L337.7 49.0L338.4 48.6L339.1 48.2L339.8 47.7L340.5 47.3L341.2 46.8L341.9 46.4L342.6 45.9L343.3 45.5L344.0 45.0L344.7 44.5L345.4 44.0L346.1 43.6L346.8 43.1L347.5 42.6L348.2 42.1L348.9 41.6L349.6 41.1L350.3 40.6L351.0 40.1L351.7 39.6L352.4 39.2L353.1 38.7L353.8 38.2L354.5 37.7L355.2 37.2L355.9 36.6L356.6 36.0L357.3 35.4L358.0 34.7L358.7 34.0L359.4 33.3L360.1 32.6L360.8 31.9L361.5 31.1L362.2 30.4L362.9 29.7L363.6 29.0L364.3 28.2L365.0 27.5L365.7 27.1L366.4 27.4L367.1 28.3L367.8 29.4L368.5 30.7L369.2 32.1L369.9 33.8L370.6 35.4L371.3 36.8L372.0 37.5L372.7 37.4L373.4 36.9L374.1 36.2L374.8 35.5L375.5 35.0L376.2 34.7L376.9 34.6L377.6 34.4L378.3 34.3L379.0 34.1L379.7 34.0L380.4 33.9L381.1 33.7L381.8 33.6L382.5 33.5L383.2 33.4L383.9 33.2" stroke="#7206e9" stroke-width="1.30" fill="none" clip-path="url(#cR1)" stroke-linejoin="round"/>
<path d="M253.0 104.8L253.7 104.3L254.4 103.7L255.1 103.2L255.8 102.7L256.5 102.1L257.2 101.6L257.9 101.1L258.6 100.6L259.3 100.1L260.0 99.5L260.7 99.0L261.4 98.5L262.1 98.0L262.8 97.5L263.5 97.0L264.2 96.5L264.9 96.0L265.6 95.4L266.3 94.9L267.0 94.4L267.7 93.9L268.4 93.4L269.1 92.9L269.8 92.4L270.5 91.9L271.2 91.5L271.9 91.0L272.6 90.5L273.3 90.0L274.0 89.5L274.7 89.0L275.4 88.6L276.1 88.1L276.8 87.6L277.5 87.1L278.2 86.7L278.9 86.2L279.6 85.7L280.3 85.2L281.0 84.8L281.7 84.3L282.4 83.8L283.1 83.4L283.8 82.9L284.5 82.4L285.2 82.0L285.9 81.5L286.6 81.0L287.3 80.5L288.0 80.0L288.7 79.6L289.4 79.1L290.1 78.6L290.8 78.1L291.5 77.6L292.2 77.1L292.9 76.6L293.6 76.1L294.3 75.7L295.0 75.2L295.7 74.7L296.4 74.2L297.1 73.7L297.8 73.2L298.5 72.7L299.2 72.2L299.9 71.7L300.6 71.2L301.3 70.7L302.0 70.2L302.7 69.7L303.4 69.2L304.1 68.7L304.8 68.2L305.5 67.6L306.2 67.1L306.9 66.6L307.6 66.1L308.3 65.6L309.0 65.1L309.7 64.6L310.4 64.1L311.1 63.6L311.8 63.1L312.5 62.7L313.2 62.2L313.9 61.8L314.6 61.3L315.3 60.9L316.0 60.5L316.7 60.1L317.4 59.7L318.1 59.2L318.8 58.8L319.5 58.4L320.2 58.0L320.9 57.5L321.6 57.1L322.3 56.6L323.0 56.2L323.7 55.7L324.4 55.3L325.1 54.8L325.8 54.4L326.5 53.9L327.2 53.5L327.9 53.0L328.6 52.6L329.3 52.2L330.0 51.8L330.7 51.4L331.4 51.1L332.1 50.7L332.8 50.3L333.5 49.9L334.2 49.5L334.9 49.1L335.6 48.8L336.3 48.4L337.0 48.0L337.7 47.6L338.4 47.2L339.1 46.8L339.8 46.4L340.5 46.0L341.2 45.6L341.9 45.2L342.6 44.7L343.3 44.3L344.0 43.9L344.7 43.4L345.4 43.0L346.1 42.5L346.8 42.1L347.5 41.7L348.2 41.2L348.9 40.8L349.6 40.3L350.3 39.8L351.0 39.4L351.7 38.9L352.4 38.5L353.1 38.0L353.8 37.6L354.5 37.1L355.2 36.6L355.9 36.1L356.6 35.6L357.3 35.0L358.0 34.4L358.7 33.7L359.4 33.0L360.1 32.4L360.8 31.7L361.5 31.0L362.2 30.3L362.9 29.6L363.6 29.0L364.3 28.2L365.0 27.6L365.7 27.2L366.4 27.5L367.1 28.4L367.8 29.6L368.5 30.8L369.2 32.2L369.9 33.9L370.6 35.5L371.3 36.9L372.0 37.6L372.7 37.6L373.4 37.0L374.1 36.3L374.8 35.6L375.5 35.1L376.2 34.8L376.9 34.6L377.6 34.5L378.3 34.4L379.0 34.2L379.7 34.1L380.4 33.9L381.1 33.8L381.8 33.7L382.5 33.5L383.2 33.4L383.9 33.3" stroke="#7102f6" stroke-width="1.30" fill="none" clip-path="url(#cR1)" stroke-linejoin="round"/>
<path d="M253.0 102.4L253.7 101.9L254.4 101.3L255.1 100.8L255.8 100.3L256.5 99.7L257.2 99.2L257.9 98.7L258.6 98.2L259.3 97.6L260.0 97.1L260.7 96.6L261.4 96.1L262.1 95.6L262.8 95.0L263.5 94.5L264.2 94.0L264.9 93.5L265.6 93.0L266.3 92.5L267.0 92.0L267.7 91.5L268.4 91.0L269.1 90.5L269.8 90.0L270.5 89.5L271.2 89.0L271.9 88.5L272.6 88.0L273.3 87.5L274.0 87.1L274.7 86.6L275.4 86.1L276.1 85.6L276.8 85.1L277.5 84.7L278.2 84.2L278.9 83.7L279.6 83.2L280.3 82.8L281.0 82.3L281.7 81.8L282.4 81.4L283.1 80.9L283.8 80.4L284.5 80.0L285.2 79.5L285.9 79.0L286.6 78.5L287.3 78.1L288.0 77.6L288.7 77.1L289.4 76.6L290.1 76.1L290.8 75.6L291.5 75.1L292.2 74.7L292.9 74.2L293.6 73.7L294.3 73.2L295.0 72.7L295.7 72.3L296.4 71.8L297.1 71.3L297.8 70.8L298.5 70.3L299.2 69.8L299.9 69.3L300.6 68.8L301.3 68.3L302.0 67.8L302.7 67.3L303.4 66.8L304.1 66.3L304.8 65.8L305.5 65.3L306.2 64.8L306.9 64.3L307.6 63.8L308.3 63.3L309.0 62.8L309.7 62.3L310.4 61.8L311.1 61.3L311.8 60.9L312.5 60.4L313.2 60.0L313.9 59.5L314.6 59.1L315.3 58.7L316.0 58.3L316.7 57.9L317.4 57.5L318.1 57.1L318.8 56.7L319.5 56.3L320.2 55.9L320.9 55.5L321.6 55.0L322.3 54.6L323.0 54.2L323.7 53.7L324.4 53.3L325.1 52.9L325.8 52.4L326.5 52.0L327.2 51.6L327.9 51.2L328.6 50.8L329.3 50.4L330.0 50.1L330.7 49.7L331.4 49.4L332.1 49.0L332.8 48.7L333.5 48.3L334.2 47.9L334.9 47.6L335.6 47.2L336.3 46.9L337.0 46.5L337.7 46.2L338.4 45.8L339.1 45.4L339.8 45.1L340.5 44.7L341.2 44.3L341.9 43.9L342.6 43.5L343.3 43.1L344.0 42.7L344.7 42.3L345.4 41.9L346.1 41.5L346.8 41.1L347.5 40.7L348.2 40.3L348.9 39.9L349.6 39.5L350.3 39.1L351.0 38.7L351.7 38.2L352.4 37.8L353.1 37.4L353.8 37.0L354.5 36.6L355.2 36.1L355.9 35.6L356.6 35.1L357.3 34.6L358.0 34.0L358.7 33.4L359.4 32.8L360.1 32.1L360.8 31.5L361.5 30.9L362.2 30.2L362.9 29.6L363.6 28.9L364.3 28.3L365.0 27.7L365.7 27.4L366.4 27.7L367.1 28.5L367.8 29.7L368.5 30.9L369.2 32.3L369.9 34.0L370.6 35.7L371.3 37.0L372.0 37.8L372.7 37.7L373.4 37.2L374.1 36.4L374.8 35.7L375.5 35.2L376.2 34.9L376.9 34.7L377.6 34.6L378.3 34.4L379.0 34.3L379.7 34.1L380.4 34.0L381.1 33.9L381.8 33.7L382.5 33.6L383.2 33.5L383.9 33.4" stroke="#5d00ff" stroke-width="1.30" fill="none" clip-path="url(#cR1)" stroke-linejoin="round"/>
<path d="M253.0 100.0L253.7 99.5L254.4 98.9L255.1 98.4L255.8 97.9L256.5 97.3L257.2 96.8L257.9 96.3L258.6 95.7L259.3 95.2L260.0 94.7L260.7 94.2L261.4 93.7L262.1 93.1L262.8 92.6L263.5 92.1L264.2 91.6L264.9 91.1L265.6 90.6L266.3 90.1L267.0 89.6L267.7 89.1L268.4 88.5L269.1 88.0L269.8 87.5L270.5 87.1L271.2 86.6L271.9 86.1L272.6 85.6L273.3 85.1L274.0 84.6L274.7 84.1L275.4 83.6L276.1 83.2L276.8 82.7L277.5 82.2L278.2 81.7L278.9 81.3L279.6 80.8L280.3 80.3L281.0 79.8L281.7 79.4L282.4 78.9L283.1 78.4L283.8 78.0L284.5 77.5L285.2 77.0L285.9 76.5L286.6 76.1L287.3 75.6L288.0 75.1L288.7 74.6L289.4 74.1L290.1 73.7L290.8 73.2L291.5 72.7L292.2 72.2L292.9 71.7L293.6 71.2L294.3 70.8L295.0 70.3L295.7 69.8L296.4 69.3L297.1 68.8L297.8 68.4L298.5 67.9L299.2 67.4L299.9 66.9L300.6 66.4L301.3 65.9L302.0 65.4L302.7 64.9L303.4 64.5L304.1 63.9L304.8 63.4L305.5 62.9L306.2 62.5L306.9 62.0L307.6 61.5L308.3 61.0L309.0 60.5L309.7 60.0L310.4 59.5L311.1 59.1L311.8 58.6L312.5 58.2L313.2 57.7L313.9 57.3L314.6 56.9L315.3 56.5L316.0 56.1L316.7 55.7L317.4 55.3L318.1 54.9L318.8 54.6L319.5 54.2L320.2 53.8L320.9 53.4L321.6 53.0L322.3 52.6L323.0 52.2L323.7 51.7L324.4 51.3L325.1 50.9L325.8 50.5L326.5 50.1L327.2 49.8L327.9 49.4L328.6 49.0L329.3 48.7L330.0 48.3L330.7 48.0L331.4 47.7L332.1 47.3L332.8 47.0L333.5 46.7L334.2 46.4L334.9 46.0L335.6 45.7L336.3 45.4L337.0 45.1L337.7 44.7L338.4 44.4L339.1 44.1L339.8 43.7L340.5 43.4L341.2 43.0L341.9 42.7L342.6 42.3L343.3 42.0L344.0 41.6L344.7 41.3L345.4 40.9L346.1 40.5L346.8 40.2L347.5 39.8L348.2 39.4L348.9 39.0L349.6 38.7L350.3 38.3L351.0 37.9L351.7 37.5L352.4 37.2L353.1 36.8L353.8 36.4L354.5 36.0L355.2 35.6L355.9 35.1L356.6 34.7L357.3 34.2L358.0 33.6L358.7 33.1L359.4 32.5L360.1 31.9L360.8 31.3L361.5 30.7L362.2 30.1L362.9 29.5L363.6 28.9L364.3 28.3L365.0 27.8L365.7 27.5L366.4 27.8L367.1 28.7L367.8 29.8L368.5 31.0L369.2 32.4L369.9 34.1L370.6 35.8L371.3 37.2L372.0 37.9L372.7 37.8L373.4 37.3L374.1 36.5L374.8 35.8L375.5 35.3L376.2 35.0L376.9 34.8L377.6 34.6L378.3 34.5L379.0 34.4L379.7 34.2L380.4 34.1L381.1 33.9L381.8 33.8L382.5 33.7L383.2 33.6L383.9 33.5" stroke="#1f00ff" stroke-width="1.30" fill="none" clip-path="url(#cR1)" stroke-linejoin="round"/>
<path d="M253.0 98.3L253.7 97.8L254.4 97.2L255.1 96.7L255.8 96.1L256.5 95.6L257.2 95.1L257.9 94.6L258.6 94.0L259.3 93.5L260.0 93.0L260.7 92.5L261.4 91.9L262.1 91.4L262.8 90.9L263.5 90.4L264.2 89.9L264.9 89.4L265.6 88.8L266.3 88.3L267.0 87.8L267.7 87.3L268.4 86.8L269.1 86.3L269.8 85.8L270.5 85.3L271.2 84.8L271.9 84.3L272.6 83.8L273.3 83.3L274.0 82.9L274.7 82.4L275.4 81.9L276.1 81.4L276.8 80.9L277.5 80.5L278.2 80.0L278.9 79.5L279.6 79.0L280.3 78.6L281.0 78.1L281.7 77.6L282.4 77.1L283.1 76.7L283.8 76.2L284.5 75.7L285.2 75.3L285.9 74.8L286.6 74.3L287.3 73.8L288.0 73.4L288.7 72.9L289.4 72.4L290.1 71.9L290.8 71.4L291.5 70.9L292.2 70.5L292.9 70.0L293.6 69.5L294.3 69.0L295.0 68.5L295.7 68.1L296.4 67.6L297.1 67.1L297.8 66.6L298.5 66.2L299.2 65.7L299.9 65.2L300.6 64.7L301.3 64.2L302.0 63.8L302.7 63.3L303.4 62.8L304.1 62.3L304.8 61.8L305.5 61.3L306.2 60.8L306.9 60.3L307.6 59.8L308.3 59.3L309.0 58.9L309.7 58.4L310.4 57.9L311.1 57.5L311.8 57.0L312.5 56.6L313.2 56.1L313.9 55.7L314.6 55.3L315.3 54.9L316.0 54.5L316.7 54.2L317.4 53.8L318.1 53.4L318.8 53.1L319.5 52.7L320.2 52.3L320.9 51.9L321.6 51.5L322.3 51.1L323.0 50.7L323.7 50.3L324.4 49.9L325.1 49.6L325.8 49.2L326.5 48.8L327.2 48.4L327.9 48.1L328.6 47.7L329.3 47.4L330.0 47.1L330.7 46.8L331.4 46.5L332.1 46.2L332.8 45.9L333.5 45.5L334.2 45.2L334.9 44.9L335.6 44.6L336.3 44.3L337.0 44.0L337.7 43.7L338.4 43.4L339.1 43.1L339.8 42.8L340.5 42.5L341.2 42.2L341.9 41.8L342.6 41.5L343.3 41.2L344.0 40.8L344.7 40.5L345.4 40.2L346.1 39.8L346.8 39.5L347.5 39.1L348.2 38.8L348.9 38.4L349.6 38.1L350.3 37.7L351.0 37.4L351.7 37.0L352.4 36.7L353.1 36.3L353.8 36.0L354.5 35.6L355.2 35.2L355.9 34.8L356.6 34.3L357.3 33.9L358.0 33.4L358.7 32.8L359.4 32.3L360.1 31.7L360.8 31.2L361.5 30.6L362.2 30.1L362.9 29.5L363.6 28.9L364.3 28.3L365.0 27.9L365.7 27.6L366.4 28.0L367.1 28.8L367.8 30.0L368.5 31.1L369.2 32.5L369.9 34.2L370.6 35.9L371.3 37.3L372.0 38.0L372.7 38.0L373.4 37.4L374.1 36.7L374.8 35.9L375.5 35.4L376.2 35.1L376.9 34.9L377.6 34.7L378.3 34.6L379.0 34.4L379.7 34.3L380.4 34.2L381.1 34.0L381.8 33.9L382.5 33.8L383.2 33.6L383.9 33.5" stroke="#0c1aff" stroke-width="1.30" fill="none" clip-path="url(#cR1)" stroke-linejoin="round"/>
<path d="M253.0 96.5L253.7 96.0L254.4 95.4L255.1 94.9L255.8 94.3L256.5 93.8L257.2 93.3L257.9 92.7L258.6 92.2L259.3 91.7L260.0 91.2L260.7 90.6L261.4 90.1L262.1 89.6L262.8 89.1L263.5 88.6L264.2 88.0L264.9 87.5L265.6 87.0L266.3 86.5L267.0 86.0L267.7 85.5L268.4 85.0L269.1 84.5L269.8 84.0L270.5 83.5L271.2 83.0L271.9 82.5L272.6 82.0L273.3 81.5L274.0 81.0L274.7 80.5L275.4 80.1L276.1 79.6L276.8 79.1L277.5 78.6L278.2 78.1L278.9 77.7L279.6 77.2L280.3 76.7L281.0 76.2L281.7 75.8L282.4 75.3L283.1 74.8L283.8 74.3L284.5 73.9L285.2 73.4L285.9 72.9L286.6 72.5L287.3 72.0L288.0 71.5L288.7 71.0L289.4 70.5L290.1 70.1L290.8 69.6L291.5 69.1L292.2 68.6L292.9 68.1L293.6 67.7L294.3 67.2L295.0 66.7L295.7 66.2L296.4 65.8L297.1 65.3L297.8 64.8L298.5 64.3L299.2 63.9L299.9 63.4L300.6 62.9L301.3 62.4L302.0 62.0L302.7 61.5L303.4 61.0L304.1 60.5L304.8 60.0L305.5 59.5L306.2 59.0L306.9 58.6L307.6 58.1L308.3 57.6L309.0 57.1L309.7 56.7L310.4 56.2L311.1 55.8L311.8 55.3L312.5 54.9L313.2 54.5L313.9 54.0L314.6 53.6L315.3 53.3L316.0 52.9L316.7 52.5L317.4 52.2L318.1 51.8L318.8 51.5L319.5 51.1L320.2 50.7L320.9 50.4L321.6 50.0L322.3 49.6L323.0 49.2L323.7 48.8L324.4 48.5L325.1 48.1L325.8 47.7L326.5 47.4L327.2 47.0L327.9 46.7L328.6 46.4L329.3 46.1L330.0 45.8L330.7 45.5L331.4 45.2L332.1 44.9L332.8 44.6L333.5 44.3L334.2 44.1L334.9 43.8L335.6 43.5L336.3 43.2L337.0 42.9L337.7 42.7L338.4 42.4L339.1 42.1L339.8 41.8L340.5 41.5L341.2 41.2L341.9 40.9L342.6 40.6L343.3 40.3L344.0 40.0L344.7 39.7L345.4 39.4L346.1 39.1L346.8 38.7L347.5 38.4L348.2 38.1L348.9 37.8L349.6 37.5L350.3 37.1L351.0 36.8L351.7 36.5L352.4 36.2L353.1 35.8L353.8 35.5L354.5 35.2L355.2 34.8L355.9 34.4L356.6 34.0L357.3 33.6L358.0 33.1L358.7 32.6L359.4 32.1L360.1 31.6L360.8 31.1L361.5 30.5L362.2 30.0L362.9 29.5L363.6 28.9L364.3 28.4L365.0 27.9L365.7 27.7L366.4 28.1L367.1 29.0L367.8 30.1L368.5 31.3L369.2 32.6L369.9 34.3L370.6 36.0L371.3 37.4L372.0 38.2L372.7 38.1L373.4 37.6L374.1 36.8L374.8 36.0L375.5 35.5L376.2 35.2L376.9 35.0L377.6 34.8L378.3 34.7L379.0 34.5L379.7 34.4L380.4 34.2L381.1 34.1L381.8 34.0L382.5 33.8L383.2 33.7L383.9 33.6" stroke="#063bff" stroke-width="1.30" fill="none" clip-path="url(#cR1)" stroke-linejoin="round"/>
<path d="M253.0 94.6L253.7 94.1L254.4 93.5L255.1 93.0L255.8 92.4L256.5 91.9L257.2 91.4L257.9 90.8L258.6 90.3L259.3 89.8L260.0 89.2L260.7 88.7L261.4 88.2L262.1 87.7L262.8 87.1L263.5 86.6L264.2 86.1L264.9 85.6L265.6 85.1L266.3 84.6L267.0 84.1L267.7 83.6L268.4 83.0L269.1 82.5L269.8 82.0L270.5 81.5L271.2 81.0L271.9 80.5L272.6 80.1L273.3 79.6L274.0 79.1L274.7 78.6L275.4 78.1L276.1 77.6L276.8 77.1L277.5 76.7L278.2 76.2L278.9 75.7L279.6 75.2L280.3 74.8L281.0 74.3L281.7 73.8L282.4 73.3L283.1 72.9L283.8 72.4L284.5 71.9L285.2 71.4L285.9 71.0L286.6 70.5L287.3 70.0L288.0 69.5L288.7 69.1L289.4 68.6L290.1 68.1L290.8 67.6L291.5 67.1L292.2 66.7L292.9 66.2L293.6 65.7L294.3 65.2L295.0 64.8L295.7 64.3L296.4 63.8L297.1 63.4L297.8 62.9L298.5 62.4L299.2 61.9L299.9 61.5L300.6 61.0L301.3 60.5L302.0 60.1L302.7 59.6L303.4 59.1L304.1 58.6L304.8 58.2L305.5 57.7L306.2 57.2L306.9 56.7L307.6 56.2L308.3 55.8L309.0 55.3L309.7 54.9L310.4 54.4L311.1 54.0L311.8 53.5L312.5 53.1L313.2 52.7L313.9 52.3L314.6 51.9L315.3 51.5L316.0 51.2L316.7 50.8L317.4 50.5L318.1 50.1L318.8 49.8L319.5 49.4L320.2 49.1L320.9 48.7L321.6 48.3L322.3 48.0L323.0 47.6L323.7 47.3L324.4 46.9L325.1 46.6L325.8 46.2L326.5 45.9L327.2 45.6L327.9 45.2L328.6 44.9L329.3 44.7L330.0 44.4L330.7 44.1L331.4 43.8L332.1 43.6L332.8 43.3L333.5 43.1L334.2 42.8L334.9 42.6L335.6 42.3L336.3 42.0L337.0 41.8L337.7 41.5L338.4 41.3L339.1 41.0L339.8 40.7L340.5 40.5L341.2 40.2L341.9 39.9L342.6 39.7L343.3 39.4L344.0 39.1L344.7 38.8L345.4 38.5L346.1 38.3L346.8 38.0L347.5 37.7L348.2 37.4L348.9 37.1L349.6 36.8L350.3 36.5L351.0 36.2L351.7 35.9L352.4 35.6L353.1 35.3L353.8 35.0L354.5 34.7L355.2 34.4L355.9 34.0L356.6 33.6L357.3 33.2L358.0 32.8L358.7 32.3L359.4 31.9L360.1 31.4L360.8 30.9L361.5 30.4L362.2 29.9L362.9 29.4L363.6 28.9L364.3 28.4L365.0 28.0L365.7 27.9L366.4 28.3L367.1 29.1L367.8 30.2L368.5 31.4L369.2 32.7L369.9 34.4L370.6 36.2L371.3 37.6L372.0 38.3L372.7 38.3L373.4 37.7L374.1 36.9L374.8 36.1L375.5 35.6L376.2 35.3L376.9 35.0L377.6 34.9L378.3 34.7L379.0 34.6L379.7 34.4L380.4 34.3L381.1 34.2L381.8 34.0L382.5 33.9L383.2 33.8L383.9 33.7" stroke="#015dff" stroke-width="1.30" fill="none" clip-path="url(#cR1)" stroke-linejoin="round"/>
<path d="M253.0 92.7L253.7 92.2L254.4 91.6L255.1 91.1L255.8 90.5L256.5 90.0L257.2 89.5L257.9 88.9L258.6 88.4L259.3 87.9L260.0 87.3L260.7 86.8L261.4 86.3L262.1 85.7L262.8 85.2L263.5 84.7L264.2 84.2L264.9 83.7L265.6 83.2L266.3 82.6L267.0 82.1L267.7 81.6L268.4 81.1L269.1 80.6L269.8 80.1L270.5 79.6L271.2 79.1L271.9 78.6L272.6 78.1L273.3 77.6L274.0 77.1L274.7 76.6L275.4 76.2L276.1 75.7L276.8 75.2L277.5 74.7L278.2 74.2L278.9 73.8L279.6 73.3L280.3 72.8L281.0 72.3L281.7 71.9L282.4 71.4L283.1 70.9L283.8 70.4L284.5 70.0L285.2 69.5L285.9 69.0L286.6 68.5L287.3 68.1L288.0 67.6L288.7 67.1L289.4 66.6L290.1 66.2L290.8 65.7L291.5 65.2L292.2 64.7L292.9 64.3L293.6 63.8L294.3 63.3L295.0 62.8L295.7 62.4L296.4 61.9L297.1 61.4L297.8 61.0L298.5 60.5L299.2 60.0L299.9 59.6L300.6 59.1L301.3 58.6L302.0 58.2L302.7 57.7L303.4 57.2L304.1 56.8L304.8 56.3L305.5 55.8L306.2 55.3L306.9 54.9L307.6 54.4L308.3 53.9L309.0 53.5L309.7 53.0L310.4 52.6L311.1 52.2L311.8 51.7L312.5 51.3L313.2 50.9L313.9 50.5L314.6 50.1L315.3 49.8L316.0 49.4L316.7 49.1L317.4 48.7L318.1 48.4L318.8 48.1L319.5 47.7L320.2 47.4L320.9 47.1L321.6 46.7L322.3 46.4L323.0 46.0L323.7 45.7L324.4 45.4L325.1 45.0L325.8 44.7L326.5 44.4L327.2 44.1L327.9 43.8L328.6 43.5L329.3 43.2L330.0 43.0L330.7 42.7L331.4 42.5L332.1 42.3L332.8 42.0L333.5 41.8L334.2 41.6L334.9 41.3L335.6 41.1L336.3 40.9L337.0 40.6L337.7 40.4L338.4 40.2L339.1 39.9L339.8 39.7L340.5 39.5L341.2 39.2L341.9 39.0L342.6 38.7L343.3 38.5L344.0 38.2L344.7 38.0L345.4 37.7L346.1 37.5L346.8 37.2L347.5 36.9L348.2 36.7L348.9 36.4L349.6 36.2L350.3 35.9L351.0 35.6L351.7 35.4L352.4 35.1L353.1 34.8L353.8 34.6L354.5 34.3L355.2 34.0L355.9 33.6L356.6 33.3L357.3 32.9L358.0 32.5L358.7 32.1L359.4 31.6L360.1 31.2L360.8 30.8L361.5 30.3L362.2 29.8L362.9 29.4L363.6 28.9L364.3 28.5L365.0 28.1L365.7 28.0L366.4 28.4L367.1 29.3L367.8 30.4L368.5 31.5L369.2 32.9L369.9 34.6L370.6 36.3L371.3 37.7L372.0 38.5L372.7 38.4L373.4 37.8L374.1 37.0L374.8 36.2L375.5 35.7L376.2 35.4L376.9 35.1L377.6 35.0L378.3 34.8L379.0 34.7L379.7 34.5L380.4 34.4L381.1 34.2L381.8 34.1L382.5 34.0L383.2 33.9L383.9 33.8" stroke="#00b7ff" stroke-width="1.30" fill="none" clip-path="url(#cR1)" stroke-linejoin="round"/>
<path d="M253.0 91.0L253.7 90.5L254.4 89.9L255.1 89.4L255.8 88.8L256.5 88.3L257.2 87.7L257.9 87.2L258.6 86.7L259.3 86.1L260.0 85.6L260.7 85.1L261.4 84.6L262.1 84.0L262.8 83.5L263.5 83.0L264.2 82.5L264.9 81.9L265.6 81.4L266.3 80.9L267.0 80.4L267.7 79.9L268.4 79.4L269.1 78.9L269.8 78.4L270.5 77.9L271.2 77.4L271.9 76.9L272.6 76.4L273.3 75.9L274.0 75.4L274.7 74.9L275.4 74.4L276.1 73.9L276.8 73.4L277.5 73.0L278.2 72.5L278.9 72.0L279.6 71.5L280.3 71.1L281.0 70.6L281.7 70.1L282.4 69.6L283.1 69.2L283.8 68.7L284.5 68.2L285.2 67.7L285.9 67.3L286.6 66.8L287.3 66.3L288.0 65.8L288.7 65.4L289.4 64.9L290.1 64.4L290.8 63.9L291.5 63.5L292.2 63.0L292.9 62.5L293.6 62.0L294.3 61.6L295.0 61.1L295.7 60.6L296.4 60.2L297.1 59.7L297.8 59.2L298.5 58.8L299.2 58.3L299.9 57.9L300.6 57.4L301.3 56.9L302.0 56.5L302.7 56.0L303.4 55.6L304.1 55.1L304.8 54.6L305.5 54.2L306.2 53.7L306.9 53.2L307.6 52.8L308.3 52.3L309.0 51.9L309.7 51.4L310.4 51.0L311.1 50.6L311.8 50.1L312.5 49.7L313.2 49.3L313.9 48.9L314.6 48.6L315.3 48.2L316.0 47.9L316.7 47.5L317.4 47.2L318.1 46.9L318.8 46.6L319.5 46.2L320.2 45.9L320.9 45.6L321.6 45.3L322.3 44.9L323.0 44.6L323.7 44.3L324.4 44.0L325.1 43.7L325.8 43.4L326.5 43.1L327.2 42.8L327.9 42.5L328.6 42.2L329.3 42.0L330.0 41.7L330.7 41.5L331.4 41.3L332.1 41.1L332.8 40.9L333.5 40.6L334.2 40.4L334.9 40.2L335.6 40.0L336.3 39.8L337.0 39.6L337.7 39.4L338.4 39.2L339.1 39.0L339.8 38.7L340.5 38.5L341.2 38.3L341.9 38.1L342.6 37.9L343.3 37.6L344.0 37.4L344.7 37.2L345.4 37.0L346.1 36.7L346.8 36.5L347.5 36.3L348.2 36.1L348.9 35.8L349.6 35.6L350.3 35.4L351.0 35.1L351.7 34.9L352.4 34.6L353.1 34.4L353.8 34.1L354.5 33.9L355.2 33.6L355.9 33.3L356.6 33.0L357.3 32.6L358.0 32.2L358.7 31.8L359.4 31.4L360.1 31.0L360.8 30.6L361.5 30.2L362.2 29.8L362.9 29.3L363.6 28.9L364.3 28.5L365.0 28.2L365.7 28.1L366.4 28.6L367.1 29.4L367.8 30.5L368.5 31.6L369.2 33.0L369.9 34.7L370.6 36.4L371.3 37.8L372.0 38.6L372.7 38.5L373.4 38.0L374.1 37.2L374.8 36.3L375.5 35.8L376.2 35.4L376.9 35.2L377.6 35.0L378.3 34.9L379.0 34.7L379.7 34.6L380.4 34.4L381.1 34.3L381.8 34.2L382.5 34.0L383.2 33.9L383.9 33.8" stroke="#00ffe5" stroke-width="1.30" fill="none" clip-path="url(#cR1)" stroke-linejoin="round"/>
<path d="M253.0 88.6L253.7 88.0L254.4 87.5L255.1 87.0L255.8 86.4L256.5 85.9L257.2 85.3L257.9 84.8L258.6 84.3L259.3 83.7L260.0 83.2L260.7 82.7L261.4 82.1L262.1 81.6L262.8 81.1L263.5 80.5L264.2 80.0L264.9 79.5L265.6 79.0L266.3 78.5L267.0 78.0L267.7 77.4L268.4 76.9L269.1 76.4L269.8 75.9L270.5 75.4L271.2 74.9L271.9 74.4L272.6 73.9L273.3 73.4L274.0 72.9L274.7 72.4L275.4 72.0L276.1 71.5L276.8 71.0L277.5 70.5L278.2 70.0L278.9 69.5L279.6 69.1L280.3 68.6L281.0 68.1L281.7 67.6L282.4 67.2L283.1 66.7L283.8 66.2L284.5 65.7L285.2 65.3L285.9 64.8L286.6 64.3L287.3 63.8L288.0 63.4L288.7 62.9L289.4 62.4L290.1 61.9L290.8 61.5L291.5 61.0L292.2 60.5L292.9 60.1L293.6 59.6L294.3 59.1L295.0 58.7L295.7 58.2L296.4 57.7L297.1 57.3L297.8 56.8L298.5 56.4L299.2 55.9L299.9 55.4L300.6 55.0L301.3 54.5L302.0 54.1L302.7 53.6L303.4 53.2L304.1 52.7L304.8 52.3L305.5 51.8L306.2 51.3L306.9 50.9L307.6 50.4L308.3 50.0L309.0 49.6L309.7 49.1L310.4 48.7L311.1 48.3L311.8 47.9L312.5 47.5L313.2 47.1L313.9 46.7L314.6 46.4L315.3 46.0L316.0 45.7L316.7 45.4L317.4 45.1L318.1 44.7L318.8 44.4L319.5 44.1L320.2 43.8L320.9 43.5L321.6 43.2L322.3 42.9L323.0 42.6L323.7 42.3L324.4 42.0L325.1 41.7L325.8 41.4L326.5 41.2L327.2 40.9L327.9 40.7L328.6 40.4L329.3 40.2L330.0 40.0L330.7 39.8L331.4 39.6L332.1 39.4L332.8 39.2L333.5 39.0L334.2 38.9L334.9 38.7L335.6 38.5L336.3 38.3L337.0 38.1L337.7 38.0L338.4 37.8L339.1 37.6L339.8 37.4L340.5 37.2L341.2 37.1L341.9 36.9L342.6 36.7L343.3 36.5L344.0 36.3L344.7 36.1L345.4 35.9L346.1 35.7L346.8 35.5L347.5 35.4L348.2 35.2L348.9 35.0L349.6 34.8L350.3 34.6L351.0 34.4L351.7 34.2L352.4 34.0L353.1 33.8L353.8 33.5L354.5 33.3L355.2 33.1L355.9 32.8L356.6 32.5L357.3 32.2L358.0 31.9L358.7 31.5L359.4 31.2L360.1 30.8L360.8 30.5L361.5 30.1L362.2 29.7L362.9 29.3L363.6 28.9L364.3 28.6L365.0 28.3L365.7 28.3L366.4 28.7L367.1 29.6L367.8 30.6L368.5 31.7L369.2 33.1L369.9 34.8L370.6 36.5L371.3 38.0L372.0 38.7L372.7 38.7L373.4 38.1L374.1 37.3L374.8 36.5L375.5 35.9L376.2 35.5L376.9 35.3L377.6 35.1L378.3 35.0L379.0 34.8L379.7 34.7L380.4 34.5L381.1 34.4L381.8 34.2L382.5 34.1L383.2 34.0L383.9 33.9" stroke="#00ff7e" stroke-width="1.30" fill="none" clip-path="url(#cR1)" stroke-linejoin="round"/>
<path d="M253.0 87.8L253.7 87.2L254.4 86.7L255.1 86.2L255.8 85.6L256.5 85.1L257.2 84.5L257.9 84.0L258.6 83.4L259.3 82.9L260.0 82.4L260.7 81.8L261.4 81.3L262.1 80.8L262.8 80.3L263.5 79.7L264.2 79.2L264.9 78.7L265.6 78.2L266.3 77.7L267.0 77.1L267.7 76.6L268.4 76.1L269.1 75.6L269.8 75.1L270.5 74.6L271.2 74.1L271.9 73.6L272.6 73.1L273.3 72.6L274.0 72.1L274.7 71.6L275.4 71.1L276.1 70.6L276.8 70.2L277.5 69.7L278.2 69.2L278.9 68.7L279.6 68.2L280.3 67.8L281.0 67.3L281.7 66.8L282.4 66.3L283.1 65.9L283.8 65.4L284.5 64.9L285.2 64.4L285.9 64.0L286.6 63.5L287.3 63.0L288.0 62.6L288.7 62.1L289.4 61.6L290.1 61.1L290.8 60.7L291.5 60.2L292.2 59.7L292.9 59.2L293.6 58.8L294.3 58.3L295.0 57.8L295.7 57.4L296.4 56.9L297.1 56.5L297.8 56.0L298.5 55.5L299.2 55.1L299.9 54.6L300.6 54.2L301.3 53.7L302.0 53.3L302.7 52.8L303.4 52.4L304.1 51.9L304.8 51.5L305.5 51.0L306.2 50.6L306.9 50.1L307.6 49.7L308.3 49.2L309.0 48.8L309.7 48.4L310.4 47.9L311.1 47.5L311.8 47.1L312.5 46.7L313.2 46.3L313.9 46.0L314.6 45.6L315.3 45.3L316.0 44.9L316.7 44.6L317.4 44.3L318.1 44.0L318.8 43.7L319.5 43.4L320.2 43.1L320.9 42.8L321.6 42.5L322.3 42.2L323.0 41.9L323.7 41.6L324.4 41.3L325.1 41.1L325.8 40.8L326.5 40.5L327.2 40.3L327.9 40.1L328.6 39.8L329.3 39.6L330.0 39.4L330.7 39.2L331.4 39.0L332.1 38.9L332.8 38.7L333.5 38.5L334.2 38.3L334.9 38.2L335.6 38.0L336.3 37.8L337.0 37.6L337.7 37.5L338.4 37.3L339.1 37.1L339.8 37.0L340.5 36.8L341.2 36.6L341.9 36.5L342.6 36.3L343.3 36.1L344.0 35.9L344.7 35.7L345.4 35.6L346.1 35.4L346.8 35.2L347.5 35.0L348.2 34.9L348.9 34.7L349.6 34.5L350.3 34.3L351.0 34.1L351.7 33.9L352.4 33.7L353.1 33.5L353.8 33.3L354.5 33.1L355.2 32.9L355.9 32.6L356.6 32.4L357.3 32.1L358.0 31.7L358.7 31.4L359.4 31.1L360.1 30.7L360.8 30.4L361.5 30.0L362.2 29.7L362.9 29.3L363.6 28.9L364.3 28.6L365.0 28.4L365.7 28.4L366.4 28.8L367.1 29.7L367.8 30.8L368.5 31.8L369.2 33.2L369.9 34.9L370.6 36.6L371.3 38.1L372.0 38.9L372.7 38.8L373.4 38.3L374.1 37.4L374.8 36.6L375.5 36.0L376.2 35.6L376.9 35.4L377.6 35.2L378.3 35.0L379.0 34.9L379.7 34.7L380.4 34.6L381.1 34.5L381.8 34.3L382.5 34.2L383.2 34.1L383.9 34.0" stroke="#0dff4e" stroke-width="1.30" fill="none" clip-path="url(#cR1)" stroke-linejoin="round"/>
<path d="M253.0 86.5L253.7 85.9L254.4 85.4L255.1 84.8L255.8 84.3L256.5 83.8L257.2 83.2L257.9 82.7L258.6 82.1L259.3 81.6L260.0 81.1L260.7 80.5L261.4 80.0L262.1 79.5L262.8 78.9L263.5 78.4L264.2 77.9L264.9 77.4L265.6 76.9L266.3 76.3L267.0 75.8L267.7 75.3L268.4 74.8L269.1 74.3L269.8 73.8L270.5 73.3L271.2 72.8L271.9 72.3L272.6 71.8L273.3 71.3L274.0 70.8L274.7 70.3L275.4 69.8L276.1 69.3L276.8 68.8L277.5 68.3L278.2 67.9L278.9 67.4L279.6 66.9L280.3 66.4L281.0 65.9L281.7 65.5L282.4 65.0L283.1 64.5L283.8 64.0L284.5 63.6L285.2 63.1L285.9 62.6L286.6 62.2L287.3 61.7L288.0 61.2L288.7 60.7L289.4 60.3L290.1 59.8L290.8 59.3L291.5 58.8L292.2 58.4L292.9 57.9L293.6 57.4L294.3 57.0L295.0 56.5L295.7 56.1L296.4 55.6L297.1 55.1L297.8 54.7L298.5 54.2L299.2 53.8L299.9 53.3L300.6 52.9L301.3 52.5L302.0 52.0L302.7 51.6L303.4 51.1L304.1 50.7L304.8 50.2L305.5 49.8L306.2 49.3L306.9 48.9L307.6 48.4L308.3 48.0L309.0 47.5L309.7 47.1L310.4 46.7L311.1 46.3L311.8 45.9L312.5 45.5L313.2 45.1L313.9 44.8L314.6 44.4L315.3 44.1L316.0 43.8L316.7 43.5L317.4 43.2L318.1 42.9L318.8 42.6L319.5 42.3L320.2 42.0L320.9 41.7L321.6 41.4L322.3 41.1L323.0 40.8L323.7 40.6L324.4 40.3L325.1 40.0L325.8 39.8L326.5 39.5L327.2 39.3L327.9 39.1L328.6 38.8L329.3 38.6L330.0 38.5L330.7 38.3L331.4 38.1L332.1 37.9L332.8 37.8L333.5 37.6L334.2 37.5L334.9 37.3L335.6 37.2L336.3 37.0L337.0 36.9L337.7 36.7L338.4 36.6L339.1 36.4L339.8 36.3L340.5 36.1L341.2 35.9L341.9 35.8L342.6 35.6L343.3 35.5L344.0 35.3L344.7 35.2L345.4 35.0L346.1 34.8L346.8 34.7L347.5 34.5L348.2 34.4L348.9 34.2L349.6 34.1L350.3 33.9L351.0 33.7L351.7 33.6L352.4 33.4L353.1 33.2L353.8 33.0L354.5 32.8L355.2 32.6L355.9 32.4L356.6 32.1L357.3 31.8L358.0 31.5L358.7 31.2L359.4 30.9L360.1 30.6L360.8 30.3L361.5 30.0L362.2 29.6L362.9 29.3L363.6 28.9L364.3 28.7L365.0 28.5L365.7 28.5L366.4 29.0L367.1 29.8L367.8 30.9L368.5 32.0L369.2 33.3L369.9 35.0L370.6 36.8L371.3 38.2L372.0 39.0L372.7 39.0L373.4 38.4L374.1 37.5L374.8 36.7L375.5 36.1L376.2 35.7L376.9 35.4L377.6 35.3L378.3 35.1L379.0 34.9L379.7 34.8L380.4 34.7L381.1 34.5L381.8 34.4L382.5 34.3L383.2 34.2L383.9 34.0" stroke="#19ff1d" stroke-width="1.30" fill="none" clip-path="url(#cR1)" stroke-linejoin="round"/>
<path d="M253.0 85.2L253.7 84.6L254.4 84.1L255.1 83.5L255.8 83.0L256.5 82.5L257.2 81.9L257.9 81.4L258.6 80.8L259.3 80.3L260.0 79.8L260.7 79.2L261.4 78.7L262.1 78.2L262.8 77.6L263.5 77.1L264.2 76.6L264.9 76.1L265.6 75.5L266.3 75.0L267.0 74.5L267.7 74.0L268.4 73.5L269.1 73.0L269.8 72.5L270.5 71.9L271.2 71.4L271.9 70.9L272.6 70.4L273.3 69.9L274.0 69.5L274.7 69.0L275.4 68.5L276.1 68.0L276.8 67.5L277.5 67.0L278.2 66.5L278.9 66.0L279.6 65.6L280.3 65.1L281.0 64.6L281.7 64.1L282.4 63.7L283.1 63.2L283.8 62.7L284.5 62.2L285.2 61.8L285.9 61.3L286.6 60.8L287.3 60.4L288.0 59.9L288.7 59.4L289.4 58.9L290.1 58.5L290.8 58.0L291.5 57.5L292.2 57.0L292.9 56.6L293.6 56.1L294.3 55.6L295.0 55.2L295.7 54.7L296.4 54.3L297.1 53.8L297.8 53.4L298.5 52.9L299.2 52.5L299.9 52.0L300.6 51.6L301.3 51.2L302.0 50.7L302.7 50.3L303.4 49.8L304.1 49.4L304.8 48.9L305.5 48.5L306.2 48.0L306.9 47.6L307.6 47.2L308.3 46.7L309.0 46.3L309.7 45.9L310.4 45.5L311.1 45.1L311.8 44.7L312.5 44.3L313.2 43.9L313.9 43.6L314.6 43.2L315.3 42.9L316.0 42.6L316.7 42.3L317.4 42.0L318.1 41.7L318.8 41.4L319.5 41.1L320.2 40.8L320.9 40.6L321.6 40.3L322.3 40.0L323.0 39.7L323.7 39.5L324.4 39.2L325.1 39.0L325.8 38.7L326.5 38.5L327.2 38.3L327.9 38.1L328.6 37.9L329.3 37.7L330.0 37.5L330.7 37.4L331.4 37.2L332.1 37.0L332.8 36.9L333.5 36.8L334.2 36.6L334.9 36.5L335.6 36.3L336.3 36.2L337.0 36.1L337.7 35.9L338.4 35.8L339.1 35.7L339.8 35.5L340.5 35.4L341.2 35.3L341.9 35.1L342.6 35.0L343.3 34.8L344.0 34.7L344.7 34.6L345.4 34.4L346.1 34.3L346.8 34.2L347.5 34.0L348.2 33.9L348.9 33.8L349.6 33.6L350.3 33.5L351.0 33.3L351.7 33.2L352.4 33.0L353.1 32.9L353.8 32.7L354.5 32.5L355.2 32.3L355.9 32.1L356.6 31.9L357.3 31.6L358.0 31.3L358.7 31.1L359.4 30.8L360.1 30.5L360.8 30.2L361.5 29.9L362.2 29.6L362.9 29.2L363.6 29.0L364.3 28.7L365.0 28.6L365.7 28.7L366.4 29.1L367.1 30.0L367.8 31.0L368.5 32.1L369.2 33.4L369.9 35.1L370.6 36.9L371.3 38.4L372.0 39.2L372.7 39.1L373.4 38.5L374.1 37.7L374.8 36.8L375.5 36.2L376.2 35.8L376.9 35.5L377.6 35.3L378.3 35.2L379.0 35.0L379.7 34.9L380.4 34.7L381.1 34.6L381.8 34.5L382.5 34.3L383.2 34.2L383.9 34.1" stroke="#29ff00" stroke-width="1.30" fill="none" clip-path="url(#cR1)" stroke-linejoin="round"/>
<path d="M253.0 84.0L253.7 83.4L254.4 82.9L255.1 82.3L255.8 81.8L256.5 81.2L257.2 80.7L257.9 80.2L258.6 79.6L259.3 79.1L260.0 78.5L260.7 78.0L261.4 77.5L262.1 76.9L262.8 76.4L263.5 75.9L264.2 75.4L264.9 74.8L265.6 74.3L266.3 73.8L267.0 73.3L267.7 72.8L268.4 72.3L269.1 71.7L269.8 71.2L270.5 70.7L271.2 70.2L271.9 69.7L272.6 69.2L273.3 68.7L274.0 68.2L274.7 67.7L275.4 67.2L276.1 66.8L276.8 66.3L277.5 65.8L278.2 65.3L278.9 64.8L279.6 64.3L280.3 63.9L281.0 63.4L281.7 62.9L282.4 62.4L283.1 61.9L283.8 61.5L284.5 61.0L285.2 60.5L285.9 60.1L286.6 59.6L287.3 59.1L288.0 58.6L288.7 58.2L289.4 57.7L290.1 57.2L290.8 56.8L291.5 56.3L292.2 55.8L292.9 55.3L293.6 54.9L294.3 54.4L295.0 54.0L295.7 53.5L296.4 53.1L297.1 52.6L297.8 52.1L298.5 51.7L299.2 51.3L299.9 50.8L300.6 50.4L301.3 50.0L302.0 49.5L302.7 49.1L303.4 48.6L304.1 48.2L304.8 47.8L305.5 47.3L306.2 46.9L306.9 46.4L307.6 46.0L308.3 45.6L309.0 45.1L309.7 44.7L310.4 44.3L311.1 43.9L311.8 43.5L312.5 43.2L313.2 42.8L313.9 42.4L314.6 42.1L315.3 41.8L316.0 41.5L316.7 41.2L317.4 40.9L318.1 40.6L318.8 40.3L319.5 40.1L320.2 39.8L320.9 39.5L321.6 39.3L322.3 39.0L323.0 38.7L323.7 38.5L324.4 38.2L325.1 38.0L325.8 37.8L326.5 37.6L327.2 37.3L327.9 37.2L328.6 37.0L329.3 36.8L330.0 36.6L330.7 36.5L331.4 36.3L332.1 36.2L332.8 36.1L333.5 35.9L334.2 35.8L334.9 35.7L335.6 35.6L336.3 35.5L337.0 35.3L337.7 35.2L338.4 35.1L339.1 35.0L339.8 34.9L340.5 34.8L341.2 34.6L341.9 34.5L342.6 34.4L343.3 34.3L344.0 34.1L344.7 34.0L345.4 33.9L346.1 33.8L346.8 33.7L347.5 33.6L348.2 33.4L348.9 33.3L349.6 33.2L350.3 33.1L351.0 33.0L351.7 32.8L352.4 32.7L353.1 32.5L353.8 32.4L354.5 32.2L355.2 32.1L355.9 31.9L356.6 31.6L357.3 31.4L358.0 31.1L358.7 30.9L359.4 30.6L360.1 30.4L360.8 30.1L361.5 29.8L362.2 29.5L362.9 29.2L363.6 29.0L364.3 28.8L365.0 28.7L365.7 28.8L366.4 29.3L367.1 30.1L367.8 31.2L368.5 32.2L369.2 33.5L369.9 35.2L370.6 37.0L371.3 38.5L372.0 39.3L372.7 39.2L373.4 38.7L374.1 37.8L374.8 36.9L375.5 36.3L376.2 35.9L376.9 35.6L377.6 35.4L378.3 35.2L379.0 35.1L379.7 35.0L380.4 34.8L381.1 34.7L381.8 34.5L382.5 34.4L383.2 34.3L383.9 34.2" stroke="#3fff00" stroke-width="1.30" fill="none" clip-path="url(#cR1)" stroke-linejoin="round"/>
<path d="M253.0 82.8L253.7 82.2L254.4 81.7L255.1 81.1L255.8 80.6L256.5 80.0L257.2 79.5L257.9 78.9L258.6 78.4L259.3 77.9L260.0 77.3L260.7 76.8L261.4 76.3L262.1 75.7L262.8 75.2L263.5 74.7L264.2 74.1L264.9 73.6L265.6 73.1L266.3 72.6L267.0 72.1L267.7 71.5L268.4 71.0L269.1 70.5L269.8 70.0L270.5 69.5L271.2 69.0L271.9 68.5L272.6 68.0L273.3 67.5L274.0 67.0L274.7 66.5L275.4 66.0L276.1 65.5L276.8 65.0L277.5 64.5L278.2 64.1L278.9 63.6L279.6 63.1L280.3 62.6L281.0 62.1L281.7 61.7L282.4 61.2L283.1 60.7L283.8 60.2L284.5 59.8L285.2 59.3L285.9 58.8L286.6 58.4L287.3 57.9L288.0 57.4L288.7 56.9L289.4 56.5L290.1 56.0L290.8 55.5L291.5 55.1L292.2 54.6L292.9 54.1L293.6 53.7L294.3 53.2L295.0 52.7L295.7 52.3L296.4 51.8L297.1 51.4L297.8 50.9L298.5 50.5L299.2 50.1L299.9 49.6L300.6 49.2L301.3 48.8L302.0 48.3L302.7 47.9L303.4 47.5L304.1 47.0L304.8 46.6L305.5 46.1L306.2 45.7L306.9 45.3L307.6 44.8L308.3 44.4L309.0 44.0L309.7 43.6L310.4 43.2L311.1 42.8L311.8 42.4L312.5 42.0L313.2 41.7L313.9 41.3L314.6 41.0L315.3 40.7L316.0 40.4L316.7 40.1L317.4 39.8L318.1 39.5L318.8 39.3L319.5 39.0L320.2 38.7L320.9 38.5L321.6 38.2L322.3 38.0L323.0 37.7L323.7 37.5L324.4 37.3L325.1 37.0L325.8 36.8L326.5 36.6L327.2 36.4L327.9 36.2L328.6 36.1L329.3 35.9L330.0 35.8L330.7 35.6L331.4 35.5L332.1 35.4L332.8 35.3L333.5 35.1L334.2 35.0L334.9 34.9L335.6 34.8L336.3 34.7L337.0 34.6L337.7 34.5L338.4 34.4L339.1 34.3L339.8 34.2L340.5 34.1L341.2 34.0L341.9 33.9L342.6 33.8L343.3 33.7L344.0 33.6L344.7 33.5L345.4 33.4L346.1 33.3L346.8 33.2L347.5 33.1L348.2 33.0L348.9 32.9L349.6 32.8L350.3 32.7L351.0 32.6L351.7 32.5L352.4 32.3L353.1 32.2L353.8 32.1L354.5 32.0L355.2 31.8L355.9 31.6L356.6 31.4L357.3 31.2L358.0 31.0L358.7 30.7L359.4 30.5L360.1 30.3L360.8 30.0L361.5 29.8L362.2 29.5L362.9 29.2L363.6 29.0L364.3 28.8L365.0 28.8L365.7 28.9L366.4 29.4L367.1 30.3L367.8 31.3L368.5 32.3L369.2 33.6L369.9 35.3L370.6 37.1L371.3 38.6L372.0 39.4L372.7 39.4L373.4 38.8L374.1 37.9L374.8 37.0L375.5 36.4L376.2 36.0L376.9 35.7L377.6 35.5L378.3 35.3L379.0 35.2L379.7 35.0L380.4 34.9L381.1 34.7L381.8 34.6L382.5 34.5L383.2 34.4L383.9 34.3" stroke="#54ff00" stroke-width="1.30" fill="none" clip-path="url(#cR1)" stroke-linejoin="round"/>
<path d="M253.0 81.5L253.7 80.9L254.4 80.4L255.1 79.8L255.8 79.3L256.5 78.7L257.2 78.2L257.9 77.6L258.6 77.1L259.3 76.6L260.0 76.0L260.7 75.5L261.4 74.9L262.1 74.4L262.8 73.9L263.5 73.4L264.2 72.8L264.9 72.3L265.6 71.8L266.3 71.3L267.0 70.7L267.7 70.2L268.4 69.7L269.1 69.2L269.8 68.7L270.5 68.2L271.2 67.7L271.9 67.2L272.6 66.7L273.3 66.2L274.0 65.7L274.7 65.2L275.4 64.7L276.1 64.2L276.8 63.7L277.5 63.2L278.2 62.7L278.9 62.2L279.6 61.8L280.3 61.3L281.0 60.8L281.7 60.3L282.4 59.8L283.1 59.4L283.8 58.9L284.5 58.4L285.2 58.0L285.9 57.5L286.6 57.0L287.3 56.5L288.0 56.1L288.7 55.6L289.4 55.1L290.1 54.7L290.8 54.2L291.5 53.7L292.2 53.3L292.9 52.8L293.6 52.3L294.3 51.9L295.0 51.4L295.7 51.0L296.4 50.5L297.1 50.1L297.8 49.6L298.5 49.2L299.2 48.7L299.9 48.3L300.6 47.9L301.3 47.5L302.0 47.0L302.7 46.6L303.4 46.2L304.1 45.7L304.8 45.3L305.5 44.9L306.2 44.4L306.9 44.0L307.6 43.6L308.3 43.2L309.0 42.7L309.7 42.3L310.4 41.9L311.1 41.6L311.8 41.2L312.5 40.8L313.2 40.5L313.9 40.1L314.6 39.8L315.3 39.5L316.0 39.2L316.7 38.9L317.4 38.7L318.1 38.4L318.8 38.1L319.5 37.9L320.2 37.6L320.9 37.4L321.6 37.1L322.3 36.9L323.0 36.6L323.7 36.4L324.4 36.2L325.1 36.0L325.8 35.8L326.5 35.6L327.2 35.4L327.9 35.2L328.6 35.1L329.3 34.9L330.0 34.8L330.7 34.7L331.4 34.6L332.1 34.5L332.8 34.4L333.5 34.3L334.2 34.2L334.9 34.1L335.6 34.0L336.3 33.9L337.0 33.8L337.7 33.7L338.4 33.7L339.1 33.6L339.8 33.5L340.5 33.4L341.2 33.3L341.9 33.2L342.6 33.1L343.3 33.1L344.0 33.0L344.7 32.9L345.4 32.8L346.1 32.7L346.8 32.7L347.5 32.6L348.2 32.5L348.9 32.4L349.6 32.3L350.3 32.3L351.0 32.2L351.7 32.1L352.4 32.0L353.1 31.9L353.8 31.8L354.5 31.7L355.2 31.5L355.9 31.3L356.6 31.2L357.3 31.0L358.0 30.8L358.7 30.6L359.4 30.3L360.1 30.1L360.8 29.9L361.5 29.7L362.2 29.4L362.9 29.2L363.6 29.0L364.3 28.9L365.0 28.9L365.7 29.0L366.4 29.6L367.1 30.4L367.8 31.4L368.5 32.4L369.2 33.7L369.9 35.5L370.6 37.2L371.3 38.7L372.0 39.6L372.7 39.5L373.4 38.9L374.1 38.0L374.8 37.1L375.5 36.5L376.2 36.1L376.9 35.8L377.6 35.6L378.3 35.4L379.0 35.2L379.7 35.1L380.4 35.0L381.1 34.8L381.8 34.7L382.5 34.6L383.2 34.4L383.9 34.3" stroke="#6aff00" stroke-width="1.30" fill="none" clip-path="url(#cR1)" stroke-linejoin="round"/>
<path d="M253.0 79.7L253.7 79.1L254.4 78.6L255.1 78.0L255.8 77.5L256.5 76.9L257.2 76.4L257.9 75.8L258.6 75.3L259.3 74.7L260.0 74.2L260.7 73.7L261.4 73.1L262.1 72.6L262.8 72.1L263.5 71.5L264.2 71.0L264.9 70.5L265.6 69.9L266.3 69.4L267.0 68.9L267.7 68.4L268.4 67.9L269.1 67.4L269.8 66.8L270.5 66.3L271.2 65.8L271.9 65.3L272.6 64.8L273.3 64.3L274.0 63.8L274.7 63.3L275.4 62.8L276.1 62.3L276.8 61.9L277.5 61.4L278.2 60.9L278.9 60.4L279.6 59.9L280.3 59.4L281.0 59.0L281.7 58.5L282.4 58.0L283.1 57.5L283.8 57.0L284.5 56.6L285.2 56.1L285.9 55.6L286.6 55.2L287.3 54.7L288.0 54.2L288.7 53.7L289.4 53.3L290.1 52.8L290.8 52.3L291.5 51.9L292.2 51.4L292.9 50.9L293.6 50.5L294.3 50.0L295.0 49.6L295.7 49.1L296.4 48.7L297.1 48.2L297.8 47.8L298.5 47.4L299.2 46.9L299.9 46.5L300.6 46.1L301.3 45.7L302.0 45.2L302.7 44.8L303.4 44.4L304.1 44.0L304.8 43.5L305.5 43.1L306.2 42.7L306.9 42.3L307.6 41.8L308.3 41.4L309.0 41.0L309.7 40.6L310.4 40.2L311.1 39.9L311.8 39.5L312.5 39.1L313.2 38.8L313.9 38.4L314.6 38.1L315.3 37.8L316.0 37.6L316.7 37.3L317.4 37.0L318.1 36.8L318.8 36.5L319.5 36.3L320.2 36.0L320.9 35.8L321.6 35.6L322.3 35.3L323.0 35.1L323.7 34.9L324.4 34.7L325.1 34.5L325.8 34.3L326.5 34.2L327.2 34.0L327.9 33.9L328.6 33.7L329.3 33.6L330.0 33.5L330.7 33.4L331.4 33.3L332.1 33.2L332.8 33.1L333.5 33.1L334.2 33.0L334.9 32.9L335.6 32.9L336.3 32.8L337.0 32.7L337.7 32.7L338.4 32.6L339.1 32.5L339.8 32.5L340.5 32.4L341.2 32.4L341.9 32.3L342.6 32.2L343.3 32.2L344.0 32.1L344.7 32.1L345.4 32.0L346.1 32.0L346.8 31.9L347.5 31.9L348.2 31.8L348.9 31.8L349.6 31.7L350.3 31.7L351.0 31.6L351.7 31.6L352.4 31.5L353.1 31.4L353.8 31.3L354.5 31.2L355.2 31.1L355.9 31.0L356.6 30.8L357.3 30.7L358.0 30.5L358.7 30.3L359.4 30.1L360.1 30.0L360.8 29.8L361.5 29.6L362.2 29.4L362.9 29.2L363.6 29.0L364.3 28.9L365.0 29.0L365.7 29.2L366.4 29.7L367.1 30.6L367.8 31.6L368.5 32.6L369.2 33.9L369.9 35.6L370.6 37.4L371.3 38.9L372.0 39.7L372.7 39.7L373.4 39.1L374.1 38.2L374.8 37.2L375.5 36.6L376.2 36.1L376.9 35.8L377.6 35.6L378.3 35.5L379.0 35.3L379.7 35.2L380.4 35.0L381.1 34.9L381.8 34.8L382.5 34.6L383.2 34.5L383.9 34.4" stroke="#80ff00" stroke-width="1.30" fill="none" clip-path="url(#cR1)" stroke-linejoin="round"/>
<path d="M253.0 199.2L253.7 199.2L254.4 199.2L255.1 199.2L255.8 199.2L256.5 199.2L257.2 199.2L257.9 199.2L258.6 199.2L259.3 199.2L260.0 199.2L260.7 199.2L261.4 199.2L262.1 199.2L262.8 199.2L263.5 199.2L264.2 199.2L264.9 199.2L265.6 199.2L266.3 199.2L267.0 199.2L267.7 199.2L268.4 199.2L269.1 199.2L269.8 199.2L270.5 199.2L271.2 199.2L271.9 199.2L272.6 199.2L273.3 199.2L274.0 199.2L274.7 199.2L275.4 199.2L276.1 199.2L276.8 199.2L277.5 199.2L278.2 199.2L278.9 199.2L279.6 199.2L280.3 199.2L281.0 199.2L281.7 199.2L282.4 199.2L283.1 199.2L283.8 199.2L284.5 199.2L285.2 199.2L285.9 199.2L286.6 199.2L287.3 199.2L288.0 199.2L288.7 199.2L289.4 199.2L290.1 199.2L290.8 199.2L291.5 199.2L292.2 199.2L292.9 199.2L293.6 199.2L294.3 199.2L295.0 199.2L295.7 199.2L296.4 199.2L297.1 199.2L297.8 199.2L298.5 199.2L299.2 199.2L299.9 199.2L300.6 199.2L301.3 199.2L302.0 199.2L302.7 199.2L303.4 199.2L304.1 199.2L304.8 199.2L305.5 199.2L306.2 199.1L306.9 199.0L307.6 198.9L308.3 198.7L309.0 198.5L309.7 198.3L310.4 198.0L311.1 197.7L311.8 197.4L312.5 197.1L313.2 196.8L313.9 196.5L314.6 196.1L315.3 195.8L316.0 195.4L316.7 195.1L317.4 194.7L318.1 194.3L318.8 193.9L319.5 193.5L320.2 193.0L320.9 192.4L321.6 191.8L322.3 191.2L323.0 190.5L323.7 189.8L324.4 189.1L325.1 188.4L325.8 187.7L326.5 187.0L327.2 186.4L327.9 185.7L328.6 185.1L329.3 184.5L330.0 184.0L330.7 183.5L331.4 183.0L332.1 182.6L332.8 182.1L333.5 181.7L334.2 181.2L334.9 180.8L335.6 180.4L336.3 180.0L337.0 179.6L337.7 179.2L338.4 178.8L339.1 178.4L339.8 178.0L340.5 177.6L341.2 177.3L341.9 176.9L342.6 176.6L343.3 176.2L344.0 175.9L344.7 175.6L345.4 175.3L346.1 175.0L346.8 174.7L347.5 174.4L348.2 174.2L348.9 174.0L349.6 173.7L350.3 173.5L351.0 173.2L351.7 172.8L352.4 172.4L353.1 171.9L353.8 171.0L354.5 170.0L355.2 168.8L355.9 167.6L356.6 166.5L357.3 165.6L358.0 164.6L358.7 163.6L359.4 162.7L360.1 162.1L360.8 161.7L361.5 162.3L362.2 164.7L362.9 168.3L363.6 172.6L364.3 177.0L365.0 182.7L365.7 189.5L366.4 196.6L367.1 203.5L367.8 209.6L368.5 216.4L369.2 223.3L369.9 229.4L370.6 233.8L371.3 235.5L372.0 233.9L372.7 230.0L373.4 225.4L374.1 221.5L374.8 218.2L375.5 215.0L376.2 212.3L376.9 210.3L377.6 208.6L378.3 207.1L379.0 205.3L379.7 203.0L380.4 200.1L381.1 197.0L381.8 194.0L382.5 191.3L383.2 189.2L383.9 187.7" stroke="#66ee00" stroke-width="1.70" fill="none" clip-path="url(#cR2)" stroke-linejoin="round"/>
<path d="M253.0 181.6L253.7 181.6L254.4 181.6L255.1 181.6L255.8 181.6L256.5 181.6L257.2 181.6L257.9 181.6L258.6 181.6L259.3 181.6L260.0 181.6L260.7 181.6L261.4 181.6L262.1 181.6L262.8 181.6L263.5 181.6L264.2 181.6L264.9 181.6L265.6 181.6L266.3 181.6L267.0 181.6L267.7 181.6L268.4 181.6L269.1 181.6L269.8 181.6L270.5 181.6L271.2 181.6L271.9 181.6L272.6 181.5L273.3 181.5L274.0 181.5L274.7 181.5L275.4 181.5L276.1 181.5L276.8 181.5L277.5 181.5L278.2 181.5L278.9 181.5L279.6 181.5L280.3 181.5L281.0 181.5L281.7 181.5L282.4 181.5L283.1 181.5L283.8 181.5L284.5 181.5L285.2 181.5L285.9 181.5L286.6 181.4L287.3 181.4L288.0 181.4L288.7 181.4L289.4 181.4L290.1 181.4L290.8 181.4L291.5 181.4L292.2 181.4L292.9 181.4L293.6 181.4L294.3 181.4L295.0 181.4L295.7 181.4L296.4 181.3L297.1 181.3L297.8 181.3L298.5 181.3L299.2 181.3L299.9 181.3L300.6 181.3L301.3 181.3L302.0 181.2L302.7 181.2L303.4 181.2L304.1 181.1L304.8 181.0L305.5 181.0L306.2 180.9L306.9 180.8L307.6 180.7L308.3 180.6L309.0 180.5L309.7 180.4L310.4 180.3L311.1 180.2L311.8 180.1L312.5 179.9L313.2 179.8L313.9 179.7L314.6 179.5L315.3 179.4L316.0 179.2L316.7 179.0L317.4 178.8L318.1 178.6L318.8 178.3L319.5 178.1L320.2 177.8L320.9 177.5L321.6 177.2L322.3 176.8L323.0 176.5L323.7 176.1L324.4 175.7L325.1 175.4L325.8 175.0L326.5 174.5L327.2 174.1L327.9 173.6L328.6 173.1L329.3 172.5L330.0 172.0L330.7 171.4L331.4 170.8L332.1 170.2L332.8 169.6L333.5 169.0L334.2 168.4L334.9 167.8L335.6 167.2L336.3 166.7L337.0 166.2L337.7 165.7L338.4 165.2L339.1 164.8L339.8 164.3L340.5 163.9L341.2 163.5L341.9 163.0L342.6 162.6L343.3 162.2L344.0 161.8L344.7 161.4L345.4 161.0L346.1 160.6L346.8 160.1L347.5 159.7L348.2 159.2L348.9 158.8L349.6 158.3L350.3 157.8L351.0 157.3L351.7 156.7L352.4 156.2L353.1 155.6L353.8 155.0L354.5 154.3L355.2 153.5L355.9 152.5L356.6 151.6L357.3 150.8L358.0 150.2L358.7 149.9L359.4 149.8L360.1 150.1L360.8 150.7L361.5 151.5L362.2 154.4L362.9 160.0L363.6 166.7L364.3 173.0L365.0 179.7L365.7 187.0L366.4 194.3L367.1 201.3L367.8 207.8L368.5 215.0L369.2 222.3L369.9 228.8L370.6 233.4L371.3 235.2L372.0 232.7L372.7 226.7L373.4 219.8L374.1 214.4L374.8 210.0L375.5 206.0L376.2 203.3L376.9 201.8L377.6 200.9L378.3 200.1L379.0 199.0L379.7 197.3L380.4 195.0L381.1 192.3L381.8 189.5L382.5 187.0L383.2 185.1L383.9 183.7" stroke="#91f200" stroke-width="1.70" fill="none" clip-path="url(#cR2)" stroke-linejoin="round"/>
<path d="M253.0 178.5L253.7 178.5L254.4 178.5L255.1 178.5L255.8 178.5L256.5 178.5L257.2 178.5L257.9 178.5L258.6 178.5L259.3 178.5L260.0 178.5L260.7 178.5L261.4 178.5L262.1 178.5L262.8 178.5L263.5 178.5L264.2 178.5L264.9 178.5L265.6 178.5L266.3 178.5L267.0 178.5L267.7 178.5L268.4 178.5L269.1 178.5L269.8 178.5L270.5 178.5L271.2 178.5L271.9 178.5L272.6 178.4L273.3 178.4L274.0 178.4L274.7 178.4L275.4 178.4L276.1 178.4L276.8 178.4L277.5 178.4L278.2 178.4L278.9 178.4L279.6 178.4L280.3 178.4L281.0 178.4L281.7 178.4L282.4 178.4L283.1 178.4L283.8 178.4L284.5 178.4L285.2 178.4L285.9 178.4L286.6 178.3L287.3 178.3L288.0 178.3L288.7 178.3L289.4 178.3L290.1 178.3L290.8 178.3L291.5 178.3L292.2 178.3L292.9 178.3L293.6 178.3L294.3 178.3L295.0 178.3L295.7 178.3L296.4 178.2L297.1 178.2L297.8 178.2L298.5 178.2L299.2 178.2L299.9 178.2L300.6 178.2L301.3 178.2L302.0 178.1L302.7 178.1L303.4 178.1L304.1 178.0L304.8 178.0L305.5 177.9L306.2 177.8L306.9 177.8L307.6 177.7L308.3 177.6L309.0 177.5L309.7 177.4L310.4 177.3L311.1 177.2L311.8 177.1L312.5 177.0L313.2 176.9L313.9 176.8L314.6 176.7L315.3 176.5L316.0 176.4L316.7 176.2L317.4 176.0L318.1 175.8L318.8 175.6L319.5 175.3L320.2 175.1L320.9 174.8L321.6 174.5L322.3 174.2L323.0 173.9L323.7 173.5L324.4 173.2L325.1 172.9L325.8 172.5L326.5 172.1L327.2 171.7L327.9 171.3L328.6 170.8L329.3 170.3L330.0 169.8L330.7 169.2L331.4 168.7L332.1 168.1L332.8 167.5L333.5 167.0L334.2 166.4L334.9 165.9L335.6 165.4L336.3 164.9L337.0 164.4L337.7 164.0L338.4 163.5L339.1 163.1L339.8 162.7L340.5 162.3L341.2 161.9L341.9 161.5L342.6 161.2L343.3 160.8L344.0 160.4L344.7 160.0L345.4 159.7L346.1 159.3L346.8 158.9L347.5 158.5L348.2 158.1L348.9 157.6L349.6 157.2L350.3 156.7L351.0 156.2L351.7 155.7L352.4 155.2L353.1 154.7L353.8 154.1L354.5 153.5L355.2 152.7L355.9 151.8L356.6 150.9L357.3 150.1L358.0 149.6L358.7 149.3L359.4 149.3L360.1 149.7L360.8 150.3L361.5 151.2L362.2 154.1L362.9 159.9L363.6 166.6L364.3 172.9L365.0 179.7L365.7 187.0L366.4 194.3L367.1 201.3L367.8 207.8L368.5 215.0L369.2 222.3L369.9 228.8L370.6 233.4L371.3 235.2L372.0 232.7L372.7 226.7L373.4 219.8L374.1 214.4L374.8 210.0L375.5 206.0L376.2 203.3L376.9 201.8L377.6 200.9L378.3 200.1L379.0 199.0L379.7 197.3L380.4 195.0L381.1 192.3L381.8 189.5L382.5 187.0L383.2 185.1L383.9 183.7" stroke="#bdf600" stroke-width="1.70" fill="none" clip-path="url(#cR2)" stroke-linejoin="round"/>
<path d="M253.0 175.3L253.7 175.3L254.4 175.3L255.1 175.3L255.8 175.3L256.5 175.3L257.2 175.3L257.9 175.3L258.6 175.3L259.3 175.3L260.0 175.3L260.7 175.3L261.4 175.3L262.1 175.3L262.8 175.3L263.5 175.3L264.2 175.3L264.9 175.3L265.6 175.3L266.3 175.3L267.0 175.3L267.7 175.3L268.4 175.3L269.1 175.3L269.8 175.3L270.5 175.3L271.2 175.3L271.9 175.3L272.6 175.2L273.3 175.2L274.0 175.2L274.7 175.2L275.4 175.2L276.1 175.2L276.8 175.2L277.5 175.2L278.2 175.2L278.9 175.2L279.6 175.2L280.3 175.2L281.0 175.2L281.7 175.2L282.4 175.2L283.1 175.2L283.8 175.2L284.5 175.2L285.2 175.2L285.9 175.2L286.6 175.1L287.3 175.1L288.0 175.1L288.7 175.1L289.4 175.1L290.1 175.1L290.8 175.1L291.5 175.1L292.2 175.1L292.9 175.1L293.6 175.1L294.3 175.1L295.0 175.1L295.7 175.1L296.4 175.0L297.1 175.0L297.8 175.0L298.5 175.0L299.2 175.0L299.9 175.0L300.6 175.0L301.3 175.0L302.0 174.9L302.7 174.9L303.4 174.9L304.1 174.8L304.8 174.8L305.5 174.7L306.2 174.7L306.9 174.6L307.6 174.6L308.3 174.5L309.0 174.4L309.7 174.3L310.4 174.3L311.1 174.2L311.8 174.1L312.5 174.0L313.2 173.9L313.9 173.8L314.6 173.7L315.3 173.6L316.0 173.4L316.7 173.3L317.4 173.1L318.1 172.9L318.8 172.7L319.5 172.5L320.2 172.3L320.9 172.0L321.6 171.8L322.3 171.5L323.0 171.2L323.7 170.9L324.4 170.6L325.1 170.3L325.8 170.0L326.5 169.6L327.2 169.2L327.9 168.8L328.6 168.4L329.3 167.9L330.0 167.5L330.7 167.0L331.4 166.4L332.1 165.9L332.8 165.4L333.5 164.9L334.2 164.4L334.9 163.9L335.6 163.4L336.3 163.0L337.0 162.5L337.7 162.1L338.4 161.8L339.1 161.4L339.8 161.0L340.5 160.7L341.2 160.3L341.9 160.0L342.6 159.6L343.3 159.3L344.0 159.0L344.7 158.6L345.4 158.3L346.1 157.9L346.8 157.6L347.5 157.2L348.2 156.8L348.9 156.4L349.6 156.0L350.3 155.6L351.0 155.2L351.7 154.7L352.4 154.2L353.1 153.7L353.8 153.2L354.5 152.6L355.2 151.8L355.9 151.0L356.6 150.2L357.3 149.4L358.0 148.9L358.7 148.7L359.4 148.8L360.1 149.2L360.8 149.9L361.5 150.9L362.2 153.9L362.9 159.7L363.6 166.5L364.3 172.9L365.0 179.7L365.7 187.0L366.4 194.3L367.1 201.3L367.8 207.8L368.5 215.0L369.2 222.3L369.9 228.8L370.6 233.4L371.3 235.2L372.0 232.7L372.7 226.7L373.4 219.8L374.1 214.4L374.8 210.0L375.5 206.0L376.2 203.3L376.9 201.8L377.6 200.9L378.3 200.1L379.0 199.0L379.7 197.3L380.4 195.0L381.1 192.3L381.8 189.5L382.5 187.0L383.2 185.1L383.9 183.7" stroke="#e8fa00" stroke-width="1.70" fill="none" clip-path="url(#cR2)" stroke-linejoin="round"/>
<path d="M253.0 172.4L253.7 172.4L254.4 172.4L255.1 172.4L255.8 172.4L256.5 172.4L257.2 172.4L257.9 172.4L258.6 172.4L259.3 172.4L260.0 172.4L260.7 172.4L261.4 172.4L262.1 172.4L262.8 172.4L263.5 172.4L264.2 172.4L264.9 172.4L265.6 172.4L266.3 172.4L267.0 172.4L267.7 172.4L268.4 172.4L269.1 172.4L269.8 172.4L270.5 172.4L271.2 172.4L271.9 172.4L272.6 172.3L273.3 172.3L274.0 172.3L274.7 172.3L275.4 172.3L276.1 172.3L276.8 172.3L277.5 172.3L278.2 172.3L278.9 172.3L279.6 172.3L280.3 172.3L281.0 172.3L281.7 172.3L282.4 172.3L283.1 172.3L283.8 172.3L284.5 172.3L285.2 172.3L285.9 172.3L286.6 172.2L287.3 172.2L288.0 172.2L288.7 172.2L289.4 172.2L290.1 172.2L290.8 172.2L291.5 172.2L292.2 172.2L292.9 172.2L293.6 172.2L294.3 172.2L295.0 172.2L295.7 172.2L296.4 172.1L297.1 172.1L297.8 172.1L298.5 172.1L299.2 172.1L299.9 172.1L300.6 172.1L301.3 172.1L302.0 172.1L302.7 172.0L303.4 172.0L304.1 172.0L304.8 171.9L305.5 171.9L306.2 171.8L306.9 171.8L307.6 171.7L308.3 171.7L309.0 171.6L309.7 171.5L310.4 171.5L311.1 171.4L311.8 171.3L312.5 171.3L313.2 171.2L313.9 171.1L314.6 171.0L315.3 170.9L316.0 170.8L316.7 170.6L317.4 170.5L318.1 170.3L318.8 170.1L319.5 169.9L320.2 169.7L320.9 169.5L321.6 169.3L322.3 169.0L323.0 168.8L323.7 168.5L324.4 168.2L325.1 167.9L325.8 167.7L326.5 167.4L327.2 167.0L327.9 166.6L328.6 166.2L329.3 165.8L330.0 165.4L330.7 164.9L331.4 164.4L332.1 163.9L332.8 163.5L333.5 163.0L334.2 162.5L334.9 162.1L335.6 161.6L336.3 161.2L337.0 160.9L337.7 160.5L338.4 160.2L339.1 159.8L339.8 159.5L340.5 159.2L341.2 158.9L341.9 158.6L342.6 158.3L343.3 158.0L344.0 157.7L344.7 157.4L345.4 157.1L346.1 156.7L346.8 156.4L347.5 156.1L348.2 155.7L348.9 155.4L349.6 155.0L350.3 154.6L351.0 154.2L351.7 153.8L352.4 153.3L353.1 152.9L353.8 152.4L354.5 151.8L355.2 151.1L355.9 150.3L356.6 149.5L357.3 148.8L358.0 148.3L358.7 148.2L359.4 148.3L360.1 148.8L360.8 149.6L361.5 150.6L362.2 153.7L362.9 159.6L363.6 166.4L364.3 172.8L365.0 179.7L365.7 187.0L366.4 194.3L367.1 201.3L367.8 207.8L368.5 215.0L369.2 222.3L369.9 228.8L370.6 233.4L371.3 235.2L372.0 232.7L372.7 226.7L373.4 219.8L374.1 214.4L374.8 210.0L375.5 206.0L376.2 203.3L376.9 201.8L377.6 200.9L378.3 200.1L379.0 199.0L379.7 197.3L380.4 195.0L381.1 192.3L381.8 189.5L382.5 187.0L383.2 185.1L383.9 183.7" stroke="#f0ed00" stroke-width="1.70" fill="none" clip-path="url(#cR2)" stroke-linejoin="round"/>
<path d="M253.0 170.1L253.7 170.1L254.4 170.1L255.1 170.1L255.8 170.1L256.5 170.1L257.2 170.1L257.9 170.1L258.6 170.1L259.3 170.1L260.0 170.1L260.7 170.1L261.4 170.1L262.1 170.1L262.8 170.1L263.5 170.1L264.2 170.1L264.9 170.1L265.6 170.1L266.3 170.1L267.0 170.1L267.7 170.1L268.4 170.1L269.1 170.1L269.8 170.1L270.5 170.1L271.2 170.1L271.9 170.1L272.6 170.0L273.3 170.0L274.0 170.0L274.7 170.0L275.4 170.0L276.1 170.0L276.8 170.0L277.5 170.0L278.2 170.0L278.9 170.0L279.6 170.0L280.3 170.0L281.0 170.0L281.7 170.0L282.4 170.0L283.1 170.0L283.8 170.0L284.5 170.0L285.2 170.0L285.9 170.0L286.6 169.9L287.3 169.9L288.0 169.9L288.7 169.9L289.4 169.9L290.1 169.9L290.8 169.9L291.5 169.9L292.2 169.9L292.9 169.9L293.6 169.9L294.3 169.9L295.0 169.9L295.7 169.9L296.4 169.8L297.1 169.8L297.8 169.8L298.5 169.8L299.2 169.8L299.9 169.8L300.6 169.8L301.3 169.8L302.0 169.8L302.7 169.7L303.4 169.7L304.1 169.7L304.8 169.7L305.5 169.6L306.2 169.6L306.9 169.5L307.6 169.5L308.3 169.4L309.0 169.4L309.7 169.3L310.4 169.3L311.1 169.2L311.8 169.1L312.5 169.1L313.2 169.0L313.9 168.9L314.6 168.9L315.3 168.8L316.0 168.7L316.7 168.5L317.4 168.4L318.1 168.2L318.8 168.1L319.5 167.9L320.2 167.7L320.9 167.5L321.6 167.3L322.3 167.1L323.0 166.8L323.7 166.6L324.4 166.3L325.1 166.1L325.8 165.8L326.5 165.6L327.2 165.3L327.9 164.9L328.6 164.5L329.3 164.1L330.0 163.7L330.7 163.3L331.4 162.8L332.1 162.4L332.8 161.9L333.5 161.5L334.2 161.1L334.9 160.6L335.6 160.2L336.3 159.9L337.0 159.5L337.7 159.2L338.4 158.9L339.1 158.6L339.8 158.3L340.5 158.0L341.2 157.7L341.9 157.5L342.6 157.2L343.3 156.9L344.0 156.6L344.7 156.4L345.4 156.1L346.1 155.8L346.8 155.5L347.5 155.2L348.2 154.9L348.9 154.5L349.6 154.2L350.3 153.8L351.0 153.4L351.7 153.0L352.4 152.6L353.1 152.2L353.8 151.7L354.5 151.2L355.2 150.5L355.9 149.7L356.6 149.0L357.3 148.3L358.0 147.9L358.7 147.7L359.4 148.0L360.1 148.5L360.8 149.3L361.5 150.4L362.2 153.5L362.9 159.4L363.6 166.4L364.3 172.8L365.0 179.7L365.7 187.0L366.4 194.3L367.1 201.3L367.8 207.8L368.5 215.0L369.2 222.3L369.9 228.8L370.6 233.4L371.3 235.2L372.0 232.7L372.7 226.7L373.4 219.8L374.1 214.4L374.8 210.0L375.5 206.0L376.2 203.3L376.9 201.8L377.6 200.9L378.3 200.1L379.0 199.0L379.7 197.3L380.4 195.0L381.1 192.3L381.8 189.5L382.5 187.0L383.2 185.1L383.9 183.7" stroke="#f7e100" stroke-width="1.70" fill="none" clip-path="url(#cR2)" stroke-linejoin="round"/>
<path d="M253.0 166.1L253.7 166.1L254.4 166.1L255.1 166.1L255.8 166.1L256.5 166.1L257.2 166.1L257.9 166.1L258.6 166.1L259.3 166.1L260.0 166.1L260.7 166.1L261.4 166.1L262.1 166.1L262.8 166.1L263.5 166.1L264.2 166.1L264.9 166.1L265.6 166.1L266.3 166.1L267.0 166.1L267.7 166.1L268.4 166.1L269.1 166.1L269.8 166.1L270.5 166.1L271.2 166.1L271.9 166.1L272.6 166.0L273.3 166.0L274.0 166.0L274.7 166.0L275.4 166.0L276.1 166.0L276.8 166.0L277.5 166.0L278.2 166.0L278.9 166.0L279.6 166.0L280.3 166.0L281.0 166.0L281.7 166.0L282.4 166.0L283.1 166.0L283.8 166.0L284.5 166.0L285.2 166.0L285.9 166.0L286.6 165.9L287.3 165.9L288.0 165.9L288.7 165.9L289.4 165.9L290.1 165.9L290.8 165.9L291.5 165.9L292.2 165.9L292.9 165.9L293.6 165.9L294.3 165.9L295.0 165.9L295.7 165.9L296.4 165.8L297.1 165.8L297.8 165.8L298.5 165.8L299.2 165.8L299.9 165.8L300.6 165.8L301.3 165.8L302.0 165.8L302.7 165.7L303.4 165.7L304.1 165.7L304.8 165.7L305.5 165.7L306.2 165.6L306.9 165.6L307.6 165.6L308.3 165.5L309.0 165.5L309.7 165.5L310.4 165.4L311.1 165.4L311.8 165.3L312.5 165.3L313.2 165.3L313.9 165.2L314.6 165.2L315.3 165.1L316.0 165.0L316.7 164.9L317.4 164.8L318.1 164.6L318.8 164.5L319.5 164.4L320.2 164.2L320.9 164.0L321.6 163.9L322.3 163.7L323.0 163.5L323.7 163.3L324.4 163.1L325.1 162.9L325.8 162.7L326.5 162.4L327.2 162.2L327.9 161.9L328.6 161.6L329.3 161.2L330.0 160.8L330.7 160.4L331.4 160.1L332.1 159.7L332.8 159.3L333.5 158.9L334.2 158.5L334.9 158.1L335.6 157.8L336.3 157.5L337.0 157.2L337.7 156.9L338.4 156.7L339.1 156.4L339.8 156.2L340.5 156.0L341.2 155.7L341.9 155.5L342.6 155.3L343.3 155.1L344.0 154.8L344.7 154.6L345.4 154.4L346.1 154.1L346.8 153.9L347.5 153.6L348.2 153.3L348.9 153.0L349.6 152.7L350.3 152.4L351.0 152.1L351.7 151.8L352.4 151.4L353.1 151.0L353.8 150.6L354.5 150.1L355.2 149.5L355.9 148.8L356.6 148.1L357.3 147.5L358.0 147.1L358.7 147.0L359.4 147.3L360.1 147.9L360.8 148.8L361.5 150.0L362.2 153.2L362.9 159.2L363.6 166.2L364.3 172.7L365.0 179.6L365.7 187.0L366.4 194.3L367.1 201.3L367.8 207.8L368.5 215.0L369.2 222.3L369.9 228.8L370.6 233.4L371.3 235.2L372.0 232.7L372.7 226.7L373.4 219.8L374.1 214.4L374.8 210.0L375.5 206.0L376.2 203.3L376.9 201.8L377.6 200.9L378.3 200.1L379.0 199.0L379.7 197.3L380.4 195.0L381.1 192.3L381.8 189.5L382.5 187.0L383.2 185.1L383.9 183.7" stroke="#ffd400" stroke-width="1.70" fill="none" clip-path="url(#cR2)" stroke-linejoin="round"/>
<path d="M253.0 326.5L253.7 326.5L254.4 326.5L255.1 326.5L255.8 326.5L256.5 326.5L257.2 326.5L257.9 326.5L258.6 326.5L259.3 326.5L260.0 326.5L260.7 326.5L261.4 326.5L262.1 326.5L262.8 326.5L263.5 326.5L264.2 326.5L264.9 326.5L265.6 326.5L266.3 326.5L267.0 326.5L267.7 326.5L268.4 326.5L269.1 326.5L269.8 326.5L270.5 326.5L271.2 326.5L271.9 326.5L272.6 326.5L273.3 326.4L274.0 326.4L274.7 326.4L275.4 326.4L276.1 326.4L276.8 326.4L277.5 326.4L278.2 326.4L278.9 326.4L279.6 326.4L280.3 326.4L281.0 326.4L281.7 326.4L282.4 326.4L283.1 326.4L283.8 326.4L284.5 326.4L285.2 326.4L285.9 326.3L286.6 326.3L287.3 326.3L288.0 326.3L288.7 326.3L289.4 326.3L290.1 326.3L290.8 326.3L291.5 326.2L292.2 326.2L292.9 326.2L293.6 326.2L294.3 326.2L295.0 326.2L295.7 326.1L296.4 326.1L297.1 326.1L297.8 326.1L298.5 326.1L299.2 326.0L299.9 326.0L300.6 326.0L301.3 326.0L302.0 325.9L302.7 325.9L303.4 325.9L304.1 325.8L304.8 325.8L305.5 325.8L306.2 325.7L306.9 325.7L307.6 325.7L308.3 325.6L309.0 325.6L309.7 325.6L310.4 325.5L311.1 325.5L311.8 325.4L312.5 325.4L313.2 325.4L313.9 325.3L314.6 325.3L315.3 325.3L316.0 325.2L316.7 325.2L317.4 325.1L318.1 325.1L318.8 325.1L319.5 325.0L320.2 325.0L320.9 324.9L321.6 324.9L322.3 324.9L323.0 324.8L323.7 324.8L324.4 324.8L325.1 324.7L325.8 324.7L326.5 324.7L327.2 324.6L327.9 324.6L328.6 324.6L329.3 324.5L330.0 324.4L330.7 324.3L331.4 324.2L332.1 324.1L332.8 323.9L333.5 323.8L334.2 323.6L334.9 323.5L335.6 323.3L336.3 323.2L337.0 323.1L337.7 323.0L338.4 323.0L339.1 322.9L339.8 322.8L340.5 322.8L341.2 322.7L341.9 322.7L342.6 322.6L343.3 322.6L344.0 322.5L344.7 322.5L345.4 322.4L346.1 322.4L346.8 322.3L347.5 322.3L348.2 322.2L348.9 322.2L349.6 322.2L350.3 322.1L351.0 322.1L351.7 322.1L352.4 322.0L353.1 322.0L353.8 322.0L354.5 321.9L355.2 321.9L355.9 321.9L356.6 321.8L357.3 321.7L358.0 321.6L358.7 321.5L359.4 321.5L360.1 321.7L360.8 322.4L361.5 323.4L362.2 324.6L362.9 326.0L363.6 327.6L364.3 330.1L365.0 333.2L365.7 336.5L366.4 339.6L367.1 342.9L367.8 346.7L368.5 350.1L369.2 352.2L369.9 352.4L370.6 352.2L371.3 351.9L372.0 351.4L372.7 350.8L373.4 349.0L374.1 346.5L374.8 344.0L375.5 342.4L376.2 341.3L376.9 340.2L377.6 339.3L378.3 338.3L379.0 337.4L379.7 336.5L380.4 335.6L381.1 334.8L381.8 333.9L382.5 333.1L383.2 332.4L383.9 331.7" stroke="#ffd400" stroke-width="1.70" fill="none" clip-path="url(#cR3)" stroke-linejoin="round"/>
<path d="M253.0 314.9L253.7 314.9L254.4 314.9L255.1 314.9L255.8 314.9L256.5 314.9L257.2 314.9L257.9 314.9L258.6 314.9L259.3 315.0L260.0 315.0L260.7 315.0L261.4 315.0L262.1 315.0L262.8 315.0L263.5 315.0L264.2 315.0L264.9 315.0L265.6 315.0L266.3 315.0L267.0 315.0L267.7 315.0L268.4 315.0L269.1 315.0L269.8 315.0L270.5 315.0L271.2 315.1L271.9 315.1L272.6 315.1L273.3 315.1L274.0 315.1L274.7 315.1L275.4 315.1L276.1 315.1L276.8 315.2L277.5 315.2L278.2 315.2L278.9 315.2L279.6 315.2L280.3 315.3L281.0 315.3L281.7 315.3L282.4 315.3L283.1 315.4L283.8 315.4L284.5 315.4L285.2 315.4L285.9 315.5L286.6 315.5L287.3 315.5L288.0 315.6L288.7 315.6L289.4 315.7L290.1 315.7L290.8 315.8L291.5 315.8L292.2 315.9L292.9 315.9L293.6 316.0L294.3 316.1L295.0 316.1L295.7 316.2L296.4 316.3L297.1 316.3L297.8 316.4L298.5 316.5L299.2 316.6L299.9 316.7L300.6 316.8L301.3 316.9L302.0 317.0L302.7 317.1L303.4 317.2L304.1 317.3L304.8 317.4L305.5 317.5L306.2 317.7L306.9 317.8L307.6 317.9L308.3 318.0L309.0 318.2L309.7 318.3L310.4 318.4L311.1 318.6L311.8 318.7L312.5 318.9L313.2 319.0L313.9 319.2L314.6 319.3L315.3 319.4L316.0 319.6L316.7 319.7L317.4 319.9L318.1 320.0L318.8 320.2L319.5 320.3L320.2 320.5L320.9 320.6L321.6 320.7L322.3 320.9L323.0 321.0L323.7 321.1L324.4 321.2L325.1 321.4L325.8 321.5L326.5 321.6L327.2 321.7L327.9 321.8L328.6 321.9L329.3 322.1L330.0 322.2L330.7 322.3L331.4 322.4L332.1 322.6L332.8 322.7L333.5 322.8L334.2 322.9L334.9 323.0L335.6 323.0L336.3 323.1L337.0 323.1L337.7 323.2L338.4 323.2L339.1 323.2L339.8 323.2L340.5 323.2L341.2 323.2L341.9 323.2L342.6 323.2L343.3 323.2L344.0 323.2L344.7 323.2L345.4 323.2L346.1 323.2L346.8 323.2L347.5 323.2L348.2 323.2L348.9 323.2L349.6 323.2L350.3 323.1L351.0 323.1L351.7 323.1L352.4 323.1L353.1 323.1L353.8 323.1L354.5 323.1L355.2 323.1L355.9 323.0L356.6 323.0L357.3 322.9L358.0 322.8L358.7 322.8L359.4 322.8L360.1 323.0L360.8 323.6L361.5 324.4L362.2 325.5L362.9 326.6L363.6 328.0L364.3 330.3L365.0 333.2L365.7 336.4L366.4 339.5L367.1 342.8L367.8 346.6L368.5 350.0L369.2 352.1L369.9 352.3L370.6 352.1L371.3 351.8L372.0 351.3L372.7 350.7L373.4 349.0L374.1 346.4L374.8 344.0L375.5 342.4L376.2 341.2L376.9 340.2L377.6 339.2L378.3 338.3L379.0 337.4L379.7 336.5L380.4 335.6L381.1 334.7L381.8 333.9L382.5 333.1L383.2 332.4L383.9 331.7" stroke="#ff8c00" stroke-width="1.70" fill="none" clip-path="url(#cR3)" stroke-linejoin="round"/>
<path d="M253.0 310.4L253.7 310.4L254.4 310.5L255.1 310.5L255.8 310.5L256.5 310.5L257.2 310.5L257.9 310.5L258.6 310.5L259.3 310.5L260.0 310.5L260.7 310.5L261.4 310.5L262.1 310.5L262.8 310.5L263.5 310.5L264.2 310.5L264.9 310.5L265.6 310.5L266.3 310.6L267.0 310.6L267.7 310.6L268.4 310.6L269.1 310.6L269.8 310.6L270.5 310.6L271.2 310.6L271.9 310.6L272.6 310.7L273.3 310.7L274.0 310.7L274.7 310.7L275.4 310.7L276.1 310.8L276.8 310.8L277.5 310.8L278.2 310.8L278.9 310.9L279.6 310.9L280.3 310.9L281.0 311.0L281.7 311.0L282.4 311.0L283.1 311.1L283.8 311.1L284.5 311.2L285.2 311.2L285.9 311.3L286.6 311.3L287.3 311.4L288.0 311.4L288.7 311.5L289.4 311.6L290.1 311.6L290.8 311.7L291.5 311.8L292.2 311.9L292.9 311.9L293.6 312.0L294.3 312.1L295.0 312.2L295.7 312.3L296.4 312.4L297.1 312.6L297.8 312.7L298.5 312.8L299.2 312.9L299.9 313.1L300.6 313.2L301.3 313.3L302.0 313.5L302.7 313.7L303.4 313.8L304.1 314.0L304.8 314.2L305.5 314.3L306.2 314.5L306.9 314.7L307.6 314.9L308.3 315.1L309.0 315.3L309.7 315.5L310.4 315.7L311.1 315.9L311.8 316.1L312.5 316.3L313.2 316.5L313.9 316.8L314.6 317.0L315.3 317.2L316.0 317.4L316.7 317.6L317.4 317.9L318.1 318.1L318.8 318.3L319.5 318.5L320.2 318.7L320.9 318.9L321.6 319.1L322.3 319.3L323.0 319.5L323.7 319.7L324.4 319.9L325.1 320.1L325.8 320.2L326.5 320.4L327.2 320.6L327.9 320.7L328.6 320.9L329.3 321.1L330.0 321.3L330.7 321.5L331.4 321.7L332.1 322.0L332.8 322.2L333.5 322.4L334.2 322.6L334.9 322.8L335.6 322.9L336.3 323.0L337.0 323.1L337.7 323.2L338.4 323.3L339.1 323.3L339.8 323.3L340.5 323.4L341.2 323.4L341.9 323.4L342.6 323.5L343.3 323.5L344.0 323.5L344.7 323.5L345.4 323.5L346.1 323.5L346.8 323.5L347.5 323.5L348.2 323.5L348.9 323.5L349.6 323.5L350.3 323.5L351.0 323.5L351.7 323.5L352.4 323.6L353.1 323.6L353.8 323.6L354.5 323.6L355.2 323.5L355.9 323.5L356.6 323.4L357.3 323.4L358.0 323.3L358.7 323.2L359.4 323.2L360.1 323.5L360.8 324.1L361.5 324.9L362.2 325.8L362.9 326.8L363.6 328.1L364.3 330.3L365.0 333.2L365.7 336.4L366.4 339.5L367.1 342.7L367.8 346.5L368.5 350.0L369.2 352.1L369.9 352.3L370.6 352.1L371.3 351.8L372.0 351.3L372.7 350.7L373.4 348.9L374.1 346.4L374.8 344.0L375.5 342.4L376.2 341.2L376.9 340.2L377.6 339.2L378.3 338.3L379.0 337.3L379.7 336.5L380.4 335.6L381.1 334.7L381.8 333.9L382.5 333.1L383.2 332.4L383.9 331.7" stroke="#ff1000" stroke-width="1.70" fill="none" clip-path="url(#cR3)" stroke-linejoin="round"/>
<path d="M253.0 295.7L253.7 295.7L254.4 295.7L255.1 295.8L255.8 295.8L256.5 295.8L257.2 295.8L257.9 295.8L258.6 295.8L259.3 295.8L260.0 295.8L260.7 295.9L261.4 295.9L262.1 295.9L262.8 295.9L263.5 295.9L264.2 296.0L264.9 296.0L265.6 296.0L266.3 296.0L267.0 296.1L267.7 296.1L268.4 296.1L269.1 296.2L269.8 296.2L270.5 296.2L271.2 296.3L271.9 296.3L272.6 296.4L273.3 296.4L274.0 296.5L274.7 296.5L275.4 296.6L276.1 296.7L276.8 296.7L277.5 296.8L278.2 296.9L278.9 296.9L279.6 297.0L280.3 297.1L281.0 297.2L281.7 297.3L282.4 297.4L283.1 297.6L283.8 297.7L284.5 297.8L285.2 297.9L285.9 298.1L286.6 298.2L287.3 298.4L288.0 298.6L288.7 298.8L289.4 298.9L290.1 299.2L290.8 299.4L291.5 299.6L292.2 299.8L292.9 300.1L293.6 300.3L294.3 300.6L295.0 300.9L295.7 301.2L296.4 301.5L297.1 301.8L297.8 302.2L298.5 302.5L299.2 302.9L299.9 303.3L300.6 303.7L301.3 304.1L302.0 304.6L302.7 305.0L303.4 305.5L304.1 306.0L304.8 306.5L305.5 307.0L306.2 307.5L306.9 308.1L307.6 308.6L308.3 309.2L309.0 309.8L309.7 310.3L310.4 310.9L311.1 311.6L311.8 312.2L312.5 312.8L313.2 313.4L313.9 314.0L314.6 314.7L315.3 315.3L316.0 315.9L316.7 316.6L317.4 317.2L318.1 317.8L318.8 318.4L319.5 319.0L320.2 319.7L320.9 320.3L321.6 320.8L322.3 321.4L323.0 322.0L323.7 322.5L324.4 323.1L325.1 323.6L325.8 324.1L326.5 324.6L327.2 325.1L327.9 325.6L328.6 326.0L329.3 326.4L330.0 326.7L330.7 327.0L331.4 327.2L332.1 327.4L332.8 327.6L333.5 327.8L334.2 328.0L334.9 328.2L335.6 328.4L336.3 328.6L337.0 328.8L337.7 329.1L338.4 329.3L339.1 329.6L339.8 329.9L340.5 330.1L341.2 330.3L341.9 330.5L342.6 330.7L343.3 330.8L344.0 331.0L344.7 331.1L345.4 331.3L346.1 331.4L346.8 331.6L347.5 331.7L348.2 331.8L348.9 331.9L349.6 332.0L350.3 332.1L351.0 332.2L351.7 332.3L352.4 332.5L353.1 332.6L353.8 332.8L354.5 333.0L355.2 333.1L355.9 333.3L356.6 333.6L357.3 334.0L358.0 334.5L358.7 335.0L359.4 335.5L360.1 336.3L360.8 337.3L361.5 338.6L362.2 340.0L362.9 341.5L363.6 343.1L364.3 344.8L365.0 346.5L365.7 348.1L366.4 349.5L367.1 350.8L367.8 352.1L368.5 353.3L369.2 354.0L369.9 354.0L370.6 353.5L371.3 352.7L372.0 351.6L372.7 350.4L373.4 348.5L374.1 346.1L374.8 343.8L375.5 342.3L376.2 341.1L376.9 340.1L377.6 339.1L378.3 338.2L379.0 337.3L379.7 336.4L380.4 335.5L381.1 334.7L381.8 333.9L382.5 333.1L383.2 332.3L383.9 331.6" stroke="#ff0000" stroke-width="1.70" fill="none" clip-path="url(#cR3)" stroke-linejoin="round"/>
<path d="M253.0 276.5L253.7 276.5L254.4 276.5L255.1 276.5L255.8 276.5L256.5 276.6L257.2 276.6L257.9 276.6L258.6 276.6L259.3 276.6L260.0 276.7L260.7 276.7L261.4 276.7L262.1 276.7L262.8 276.8L263.5 276.8L264.2 276.8L264.9 276.9L265.6 276.9L266.3 276.9L267.0 277.0L267.7 277.0L268.4 277.1L269.1 277.1L269.8 277.2L270.5 277.2L271.2 277.3L271.9 277.4L272.6 277.4L273.3 277.5L274.0 277.6L274.7 277.7L275.4 277.8L276.1 277.9L276.8 278.0L277.5 278.1L278.2 278.2L278.9 278.3L279.6 278.4L280.3 278.6L281.0 278.7L281.7 278.9L282.4 279.0L283.1 279.2L283.8 279.4L284.5 279.6L285.2 279.8L285.9 280.0L286.6 280.2L287.3 280.5L288.0 280.7L288.7 281.0L289.4 281.3L290.1 281.6L290.8 281.9L291.5 282.2L292.2 282.6L292.9 283.0L293.6 283.4L294.3 283.8L295.0 284.2L295.7 284.6L296.4 285.1L297.1 285.6L297.8 286.1L298.5 286.7L299.2 287.2L299.9 287.8L300.6 288.4L301.3 289.0L302.0 289.7L302.7 290.4L303.4 291.1L304.1 291.8L304.8 292.5L305.5 293.3L306.2 294.1L306.9 294.9L307.6 295.7L308.3 296.5L309.0 297.4L309.7 298.3L310.4 299.2L311.1 300.1L311.8 301.0L312.5 301.9L313.2 302.8L313.9 303.8L314.6 304.7L315.3 305.6L316.0 306.6L316.7 307.5L317.4 308.5L318.1 309.4L318.8 310.3L319.5 311.2L320.2 312.1L320.9 313.0L321.6 313.9L322.3 314.8L323.0 315.6L323.7 316.4L324.4 317.2L325.1 318.0L325.8 318.8L326.5 319.5L327.2 320.2L327.9 320.9L328.6 321.6L329.3 322.3L330.0 322.9L330.7 323.5L331.4 324.1L332.1 324.7L332.8 325.2L333.5 325.8L334.2 326.3L334.9 326.8L335.6 327.3L336.3 327.8L337.0 328.3L337.7 328.7L338.4 329.1L339.1 329.5L339.8 329.8L340.5 330.2L341.2 330.5L341.9 330.8L342.6 331.0L343.3 331.3L344.0 331.5L344.7 331.8L345.4 332.0L346.1 332.2L346.8 332.4L347.5 332.6L348.2 332.7L348.9 332.9L349.6 333.0L350.3 333.2L351.0 333.3L351.7 333.5L352.4 333.7L353.1 333.9L353.8 334.1L354.5 334.3L355.2 334.5L355.9 334.7L356.6 335.1L357.3 335.5L358.0 335.9L358.7 336.5L359.4 337.0L360.1 337.8L360.8 338.7L361.5 339.8L362.2 341.0L362.9 342.2L363.6 343.5L364.3 344.9L365.0 346.4L365.7 347.9L366.4 349.3L367.1 350.6L367.8 352.0L368.5 353.2L369.2 353.9L369.9 353.9L370.6 353.4L371.3 352.6L372.0 351.5L372.7 350.3L373.4 348.4L374.1 346.0L374.8 343.7L375.5 342.2L376.2 341.0L376.9 340.0L377.6 339.1L378.3 338.1L379.0 337.2L379.7 336.3L380.4 335.5L381.1 334.6L381.8 333.8L382.5 333.0L383.2 332.3L383.9 331.6" stroke="#e60000" stroke-width="1.70" fill="none" clip-path="url(#cR3)" stroke-linejoin="round"/>
<path d="M253.0 266.0L253.7 266.0L254.4 266.1L255.1 266.1L255.8 266.1L256.5 266.1L257.2 266.1L257.9 266.2L258.6 266.2L259.3 266.2L260.0 266.2L260.7 266.3L261.4 266.3L262.1 266.3L262.8 266.4L263.5 266.4L264.2 266.4L264.9 266.5L265.6 266.5L266.3 266.6L267.0 266.6L267.7 266.7L268.4 266.7L269.1 266.8L269.8 266.8L270.5 266.9L271.2 267.0L271.9 267.1L272.6 267.1L273.3 267.2L274.0 267.3L274.7 267.4L275.4 267.5L276.1 267.6L276.8 267.8L277.5 267.9L278.2 268.0L278.9 268.2L279.6 268.3L280.3 268.5L281.0 268.7L281.7 268.8L282.4 269.0L283.1 269.2L283.8 269.4L284.5 269.7L285.2 269.9L285.9 270.2L286.6 270.4L287.3 270.7L288.0 271.0L288.7 271.3L289.4 271.7L290.1 272.0L290.8 272.4L291.5 272.8L292.2 273.2L292.9 273.7L293.6 274.1L294.3 274.6L295.0 275.1L295.7 275.6L296.4 276.2L297.1 276.8L297.8 277.4L298.5 278.0L299.2 278.7L299.9 279.3L300.6 280.1L301.3 280.8L302.0 281.6L302.7 282.4L303.4 283.2L304.1 284.0L304.8 284.9L305.5 285.8L306.2 286.7L306.9 287.7L307.6 288.7L308.3 289.7L309.0 290.7L309.7 291.7L310.4 292.8L311.1 293.8L311.8 294.9L312.5 296.0L313.2 297.1L313.9 298.2L314.6 299.3L315.3 300.4L316.0 301.5L316.7 302.6L317.4 303.7L318.1 304.8L318.8 305.9L319.5 307.0L320.2 308.0L320.9 309.1L321.6 310.1L322.3 311.1L323.0 312.1L323.7 313.1L324.4 314.1L325.1 315.0L325.8 315.9L326.5 316.8L327.2 317.6L327.9 318.4L328.6 319.2L329.3 320.0L330.0 320.8L330.7 321.6L331.4 322.4L332.1 323.2L332.8 324.0L333.5 324.7L334.2 325.4L334.9 326.1L335.6 326.8L336.3 327.4L337.0 328.0L337.7 328.5L338.4 329.0L339.1 329.4L339.8 329.8L340.5 330.2L341.2 330.6L341.9 330.9L342.6 331.2L343.3 331.5L344.0 331.8L344.7 332.1L345.4 332.3L346.1 332.6L346.8 332.8L347.5 333.0L348.2 333.2L348.9 333.4L349.6 333.6L350.3 333.8L351.0 334.0L351.7 334.2L352.4 334.4L353.1 334.6L353.8 334.8L354.5 335.0L355.2 335.2L355.9 335.5L356.6 335.8L357.3 336.2L358.0 336.7L358.7 337.3L359.4 337.8L360.1 338.6L360.8 339.5L361.5 340.5L362.2 341.6L362.9 342.6L363.6 343.7L364.3 345.0L365.0 346.4L365.7 347.8L366.4 349.2L367.1 350.5L367.8 351.9L368.5 353.1L369.2 353.8L369.9 353.9L370.6 353.4L371.3 352.5L372.0 351.4L372.7 350.3L373.4 348.3L374.1 345.9L374.8 343.7L375.5 342.1L376.2 341.0L376.9 340.0L377.6 339.1L378.3 338.1L379.0 337.2L379.7 336.3L380.4 335.4L381.1 334.6L381.8 333.8L382.5 333.0L383.2 332.3L383.9 331.6" stroke="#990000" stroke-width="1.70" fill="none" clip-path="url(#cR3)" stroke-linejoin="round"/>
<path d="M253.0 263.5L253.7 263.6L254.4 263.6L255.1 263.6L255.8 263.6L256.5 263.6L257.2 263.6L257.9 263.7L258.6 263.7L259.3 263.7L260.0 263.7L260.7 263.8L261.4 263.8L262.1 263.8L262.8 263.9L263.5 263.9L264.2 264.0L264.9 264.0L265.6 264.0L266.3 264.1L267.0 264.1L267.7 264.2L268.4 264.3L269.1 264.3L269.8 264.4L270.5 264.5L271.2 264.5L271.9 264.6L272.6 264.7L273.3 264.8L274.0 264.9L274.7 265.0L275.4 265.1L276.1 265.2L276.8 265.3L277.5 265.5L278.2 265.6L278.9 265.8L279.6 265.9L280.3 266.1L281.0 266.3L281.7 266.4L282.4 266.6L283.1 266.9L283.8 267.1L284.5 267.3L285.2 267.6L285.9 267.8L286.6 268.1L287.3 268.4L288.0 268.7L288.7 269.0L289.4 269.4L290.1 269.8L290.8 270.2L291.5 270.6L292.2 271.0L292.9 271.4L293.6 271.9L294.3 272.4L295.0 272.9L295.7 273.5L296.4 274.1L297.1 274.7L297.8 275.3L298.5 275.9L299.2 276.6L299.9 277.3L300.6 278.1L301.3 278.8L302.0 279.6L302.7 280.5L303.4 281.3L304.1 282.2L304.8 283.1L305.5 284.0L306.2 285.0L306.9 286.0L307.6 287.0L308.3 288.0L309.0 289.1L309.7 290.1L310.4 291.2L311.1 292.3L311.8 293.4L312.5 294.6L313.2 295.7L313.9 296.9L314.6 298.0L315.3 299.1L316.0 300.3L316.7 301.4L317.4 302.6L318.1 303.7L318.8 304.9L319.5 306.0L320.2 307.1L320.9 308.2L321.6 309.2L322.3 310.3L323.0 311.3L323.7 312.3L324.4 313.3L325.1 314.3L325.8 315.2L326.5 316.1L327.2 317.0L327.9 317.8L328.6 318.7L329.3 319.5L330.0 320.3L330.7 321.2L331.4 322.0L332.1 322.8L332.8 323.7L333.5 324.4L334.2 325.2L334.9 325.9L335.6 326.6L336.3 327.3L337.0 327.9L337.7 328.4L338.4 328.9L339.1 329.4L339.8 329.8L340.5 330.2L341.2 330.6L341.9 331.0L342.6 331.3L343.3 331.6L344.0 331.9L344.7 332.2L345.4 332.4L346.1 332.7L346.8 332.9L347.5 333.1L348.2 333.4L348.9 333.6L349.6 333.7L350.3 333.9L351.0 334.1L351.7 334.3L352.4 334.5L353.1 334.7L353.8 334.9L354.5 335.2L355.2 335.4L355.9 335.6L356.6 336.0L357.3 336.4L358.0 336.9L358.7 337.5L359.4 338.0L360.1 338.8L360.8 339.7L361.5 340.7L362.2 341.7L362.9 342.7L363.6 343.8L364.3 345.0L365.0 346.4L365.7 347.8L366.4 349.2L367.1 350.5L367.8 351.9L368.5 353.1L369.2 353.8L369.9 353.8L370.6 353.3L371.3 352.5L372.0 351.4L372.7 350.3L373.4 348.3L374.1 345.9L374.8 343.7L375.5 342.1L376.2 341.0L376.9 340.0L377.6 339.0L378.3 338.1L379.0 337.2L379.7 336.3L380.4 335.4L381.1 334.6L381.8 333.8L382.5 333.0L383.2 332.3L383.9 331.6" stroke="#440000" stroke-width="1.70" fill="none" clip-path="url(#cR3)" stroke-linejoin="round"/>
<line x1="80.00" y1="88.60" x2="80.00" y2="61.50" stroke="#ff0000" stroke-width="2.30"/>
<path d="M80.00 48.10 L73.00 66.50 L80.00 62.00 L87.00 66.50 Z" fill="#ff0000"/>
<line x1="82.10" y1="155.50" x2="82.10" y2="179.50" stroke="#ff0000" stroke-width="2.40"/>
<path d="M82.10 193.00 L75.30 174.50 L82.10 179.00 L88.90 174.50 Z" fill="#ff0000"/>
<line x1="82.10" y1="286.10" x2="82.10" y2="309.50" stroke="#ff0000" stroke-width="2.40"/>
<path d="M82.10 322.50 L75.80 304.50 L82.10 309.00 L88.40 304.50 Z" fill="#ff0000"/>
<line x1="279.40" y1="199.70" x2="279.40" y2="180.90" stroke="#ff0000" stroke-width="2.50"/>
<path d="M279.40 167.20 L272.70 185.90 L279.40 181.40 L286.10 185.90 Z" fill="#ff0000"/>
<line x1="282.30" y1="314.90" x2="282.30" y2="295.80" stroke="#ff0000" stroke-width="2.40"/>
<path d="M282.30 282.40 L275.50 300.80 L282.30 296.30 L289.10 300.80 Z" fill="#ff0000"/>
<line x1="308.9" y1="76.1" x2="298.9" y2="60.5" stroke="#ff0000" stroke-width="2.4"/>
<path d="M290.8 48.2 L306.2 59.4 L298.6 59.9 L295.3 66.8 Z" fill="#ff0000"/>
<rect x="58.40" y="111.40" width="55.30" height="7.40" fill="url(#gRain)" stroke="#aaa" stroke-width="0.5"/>
<line x1="67.30" y1="118.80" x2="67.30" y2="120.60" stroke="#777" stroke-width="0.6"/>
<text x="67.30" y="129.60" class="cb" text-anchor="middle">5</text>
<line x1="83.60" y1="118.80" x2="83.60" y2="120.60" stroke="#777" stroke-width="0.6"/>
<text x="83.60" y="129.60" class="cb" text-anchor="middle">6</text>
<line x1="100.10" y1="118.80" x2="100.10" y2="120.60" stroke="#777" stroke-width="0.6"/>
<text x="100.10" y="129.60" class="cb" text-anchor="middle">7</text>
<text x="116.70" y="119.20" class="tn">t (nm)</text>
<rect x="63.90" y="220.10" width="56.10" height="8.10" fill="url(#gGY2)" stroke="#aaa" stroke-width="0.5"/>
<line x1="63.80" y1="228.20" x2="63.80" y2="230.00" stroke="#777" stroke-width="0.6"/>
<text x="63.80" y="239.00" class="cb" text-anchor="middle">7.3</text>
<line x1="84.20" y1="228.20" x2="84.20" y2="230.00" stroke="#777" stroke-width="0.6"/>
<text x="84.20" y="239.00" class="cb" text-anchor="middle">7.5</text>
<line x1="104.40" y1="228.20" x2="104.40" y2="230.00" stroke="#777" stroke-width="0.6"/>
<text x="104.40" y="239.00" class="cb" text-anchor="middle">7.7</text>
<text x="122.70" y="228.80" class="tn">t (nm)</text>
<rect x="71.80" y="336.00" width="56.00" height="7.50" fill="url(#gHot)" stroke="#aaa" stroke-width="0.5"/>
<line x1="81.60" y1="343.50" x2="81.60" y2="345.30" stroke="#777" stroke-width="0.6"/>
<text x="81.60" y="354.60" class="cb" text-anchor="middle">9</text>
<line x1="94.50" y1="343.50" x2="94.50" y2="345.30" stroke="#777" stroke-width="0.6"/>
<text x="94.50" y="354.60" class="cb" text-anchor="middle">10</text>
<line x1="106.30" y1="343.50" x2="106.30" y2="345.30" stroke="#777" stroke-width="0.6"/>
<text x="106.30" y="354.60" class="cb" text-anchor="middle">11</text>
<line x1="119.10" y1="343.50" x2="119.10" y2="345.30" stroke="#777" stroke-width="0.6"/>
<text x="119.10" y="354.60" class="cb" text-anchor="middle">12</text>
<text x="130.00" y="345.20" class="tn">t (nm)</text>
<rect x="292.00" y="114.00" width="55.40" height="7.50" fill="url(#gRain)" stroke="#aaa" stroke-width="0.5"/>
<line x1="301.50" y1="121.50" x2="301.50" y2="123.30" stroke="#777" stroke-width="0.6"/>
<text x="301.50" y="132.00" class="cb" text-anchor="middle">5</text>
<line x1="318.50" y1="121.50" x2="318.50" y2="123.30" stroke="#777" stroke-width="0.6"/>
<text x="318.50" y="132.00" class="cb" text-anchor="middle">6</text>
<line x1="334.50" y1="121.50" x2="334.50" y2="123.30" stroke="#777" stroke-width="0.6"/>
<text x="334.50" y="132.00" class="cb" text-anchor="middle">7</text>
<text x="350.00" y="122.30" class="tn">t (nm)</text>
<rect x="262.30" y="223.70" width="56.00" height="7.50" fill="url(#gGY2)" stroke="#aaa" stroke-width="0.5"/>
<line x1="262.10" y1="231.20" x2="262.10" y2="233.00" stroke="#777" stroke-width="0.6"/>
<text x="262.10" y="242.00" class="cb" text-anchor="middle">7.3</text>
<line x1="282.50" y1="231.20" x2="282.50" y2="233.00" stroke="#777" stroke-width="0.6"/>
<text x="282.50" y="242.00" class="cb" text-anchor="middle">7.5</text>
<line x1="302.70" y1="231.20" x2="302.70" y2="233.00" stroke="#777" stroke-width="0.6"/>
<text x="302.70" y="242.00" class="cb" text-anchor="middle">7.7</text>
<text x="321.00" y="232.00" class="tn">t (nm)</text>
<rect x="264.30" y="340.50" width="56.10" height="7.00" fill="url(#gHot)" stroke="#aaa" stroke-width="0.5"/>
<line x1="273.50" y1="347.50" x2="273.50" y2="349.30" stroke="#777" stroke-width="0.6"/>
<text x="273.50" y="358.00" class="cb" text-anchor="middle">9</text>
<line x1="286.40" y1="347.50" x2="286.40" y2="349.30" stroke="#777" stroke-width="0.6"/>
<text x="286.40" y="358.00" class="cb" text-anchor="middle">10</text>
<line x1="297.80" y1="347.50" x2="297.80" y2="349.30" stroke="#777" stroke-width="0.6"/>
<text x="297.80" y="358.00" class="cb" text-anchor="middle">11</text>
<line x1="310.90" y1="347.50" x2="310.90" y2="349.30" stroke="#777" stroke-width="0.6"/>
<text x="310.90" y="358.00" class="cb" text-anchor="middle">12</text>
<text x="322.00" y="348.30" class="tn">t (nm)</text>
<line x1="55.70" y1="20.50" x2="190.70" y2="20.50" stroke="#666" stroke-width="1.25"/>
<line x1="55.70" y1="134.30" x2="190.70" y2="134.30" stroke="#666" stroke-width="1.25"/>
<line x1="55.70" y1="247.60" x2="190.70" y2="247.60" stroke="#666" stroke-width="1.25"/>
<line x1="55.70" y1="360.80" x2="190.70" y2="360.80" stroke="#666" stroke-width="1.25"/>
<line x1="55.70" y1="20.50" x2="55.70" y2="360.80" stroke="#666" stroke-width="1.25"/>
<line x1="190.70" y1="20.50" x2="190.70" y2="360.80" stroke="#666" stroke-width="1.25"/>
<line x1="55.70" y1="20.50" x2="55.70" y2="24.00" stroke="#666" stroke-width="0.8"/>
<line x1="71.29" y1="20.50" x2="71.29" y2="22.50" stroke="#666" stroke-width="0.8"/>
<line x1="80.41" y1="20.50" x2="80.41" y2="22.50" stroke="#666" stroke-width="0.8"/>
<line x1="86.89" y1="20.50" x2="86.89" y2="22.50" stroke="#666" stroke-width="0.8"/>
<line x1="91.91" y1="20.50" x2="91.91" y2="22.50" stroke="#666" stroke-width="0.8"/>
<line x1="96.01" y1="20.50" x2="96.01" y2="22.50" stroke="#666" stroke-width="0.8"/>
<line x1="99.48" y1="20.50" x2="99.48" y2="22.50" stroke="#666" stroke-width="0.8"/>
<line x1="102.48" y1="20.50" x2="102.48" y2="22.50" stroke="#666" stroke-width="0.8"/>
<line x1="105.13" y1="20.50" x2="105.13" y2="22.50" stroke="#666" stroke-width="0.8"/>
<line x1="107.50" y1="20.50" x2="107.50" y2="24.00" stroke="#666" stroke-width="0.8"/>
<line x1="123.09" y1="20.50" x2="123.09" y2="22.50" stroke="#666" stroke-width="0.8"/>
<line x1="132.21" y1="20.50" x2="132.21" y2="22.50" stroke="#666" stroke-width="0.8"/>
<line x1="138.69" y1="20.50" x2="138.69" y2="22.50" stroke="#666" stroke-width="0.8"/>
<line x1="143.71" y1="20.50" x2="143.71" y2="22.50" stroke="#666" stroke-width="0.8"/>
<line x1="147.81" y1="20.50" x2="147.81" y2="22.50" stroke="#666" stroke-width="0.8"/>
<line x1="151.28" y1="20.50" x2="151.28" y2="22.50" stroke="#666" stroke-width="0.8"/>
<line x1="154.28" y1="20.50" x2="154.28" y2="22.50" stroke="#666" stroke-width="0.8"/>
<line x1="156.93" y1="20.50" x2="156.93" y2="22.50" stroke="#666" stroke-width="0.8"/>
<line x1="159.30" y1="20.50" x2="159.30" y2="24.00" stroke="#666" stroke-width="0.8"/>
<line x1="174.89" y1="20.50" x2="174.89" y2="22.50" stroke="#666" stroke-width="0.8"/>
<line x1="184.01" y1="20.50" x2="184.01" y2="22.50" stroke="#666" stroke-width="0.8"/>
<line x1="190.49" y1="20.50" x2="190.49" y2="22.50" stroke="#666" stroke-width="0.8"/>
<line x1="55.70" y1="134.30" x2="55.70" y2="130.80" stroke="#666" stroke-width="0.8"/>
<line x1="71.29" y1="134.30" x2="71.29" y2="132.30" stroke="#666" stroke-width="0.8"/>
<line x1="80.41" y1="134.30" x2="80.41" y2="132.30" stroke="#666" stroke-width="0.8"/>
<line x1="86.89" y1="134.30" x2="86.89" y2="132.30" stroke="#666" stroke-width="0.8"/>
<line x1="91.91" y1="134.30" x2="91.91" y2="132.30" stroke="#666" stroke-width="0.8"/>
<line x1="96.01" y1="134.30" x2="96.01" y2="132.30" stroke="#666" stroke-width="0.8"/>
<line x1="99.48" y1="134.30" x2="99.48" y2="132.30" stroke="#666" stroke-width="0.8"/>
<line x1="102.48" y1="134.30" x2="102.48" y2="132.30" stroke="#666" stroke-width="0.8"/>
<line x1="105.13" y1="134.30" x2="105.13" y2="132.30" stroke="#666" stroke-width="0.8"/>
<line x1="107.50" y1="134.30" x2="107.50" y2="130.80" stroke="#666" stroke-width="0.8"/>
<line x1="123.09" y1="134.30" x2="123.09" y2="132.30" stroke="#666" stroke-width="0.8"/>
<line x1="132.21" y1="134.30" x2="132.21" y2="132.30" stroke="#666" stroke-width="0.8"/>
<line x1="138.69" y1="134.30" x2="138.69" y2="132.30" stroke="#666" stroke-width="0.8"/>
<line x1="143.71" y1="134.30" x2="143.71" y2="132.30" stroke="#666" stroke-width="0.8"/>
<line x1="147.81" y1="134.30" x2="147.81" y2="132.30" stroke="#666" stroke-width="0.8"/>
<line x1="151.28" y1="134.30" x2="151.28" y2="132.30" stroke="#666" stroke-width="0.8"/>
<line x1="154.28" y1="134.30" x2="154.28" y2="132.30" stroke="#666" stroke-width="0.8"/>
<line x1="156.93" y1="134.30" x2="156.93" y2="132.30" stroke="#666" stroke-width="0.8"/>
<line x1="159.30" y1="134.30" x2="159.30" y2="130.80" stroke="#666" stroke-width="0.8"/>
<line x1="174.89" y1="134.30" x2="174.89" y2="132.30" stroke="#666" stroke-width="0.8"/>
<line x1="184.01" y1="134.30" x2="184.01" y2="132.30" stroke="#666" stroke-width="0.8"/>
<line x1="190.49" y1="134.30" x2="190.49" y2="132.30" stroke="#666" stroke-width="0.8"/>
<line x1="55.70" y1="247.60" x2="55.70" y2="244.10" stroke="#666" stroke-width="0.8"/>
<line x1="71.29" y1="247.60" x2="71.29" y2="245.60" stroke="#666" stroke-width="0.8"/>
<line x1="80.41" y1="247.60" x2="80.41" y2="245.60" stroke="#666" stroke-width="0.8"/>
<line x1="86.89" y1="247.60" x2="86.89" y2="245.60" stroke="#666" stroke-width="0.8"/>
<line x1="91.91" y1="247.60" x2="91.91" y2="245.60" stroke="#666" stroke-width="0.8"/>
<line x1="96.01" y1="247.60" x2="96.01" y2="245.60" stroke="#666" stroke-width="0.8"/>
<line x1="99.48" y1="247.60" x2="99.48" y2="245.60" stroke="#666" stroke-width="0.8"/>
<line x1="102.48" y1="247.60" x2="102.48" y2="245.60" stroke="#666" stroke-width="0.8"/>
<line x1="105.13" y1="247.60" x2="105.13" y2="245.60" stroke="#666" stroke-width="0.8"/>
<line x1="107.50" y1="247.60" x2="107.50" y2="244.10" stroke="#666" stroke-width="0.8"/>
<line x1="123.09" y1="247.60" x2="123.09" y2="245.60" stroke="#666" stroke-width="0.8"/>
<line x1="132.21" y1="247.60" x2="132.21" y2="245.60" stroke="#666" stroke-width="0.8"/>
<line x1="138.69" y1="247.60" x2="138.69" y2="245.60" stroke="#666" stroke-width="0.8"/>
<line x1="143.71" y1="247.60" x2="143.71" y2="245.60" stroke="#666" stroke-width="0.8"/>
<line x1="147.81" y1="247.60" x2="147.81" y2="245.60" stroke="#666" stroke-width="0.8"/>
<line x1="151.28" y1="247.60" x2="151.28" y2="245.60" stroke="#666" stroke-width="0.8"/>
<line x1="154.28" y1="247.60" x2="154.28" y2="245.60" stroke="#666" stroke-width="0.8"/>
<line x1="156.93" y1="247.60" x2="156.93" y2="245.60" stroke="#666" stroke-width="0.8"/>
<line x1="159.30" y1="247.60" x2="159.30" y2="244.10" stroke="#666" stroke-width="0.8"/>
<line x1="174.89" y1="247.60" x2="174.89" y2="245.60" stroke="#666" stroke-width="0.8"/>
<line x1="184.01" y1="247.60" x2="184.01" y2="245.60" stroke="#666" stroke-width="0.8"/>
<line x1="190.49" y1="247.60" x2="190.49" y2="245.60" stroke="#666" stroke-width="0.8"/>
<line x1="55.70" y1="360.80" x2="55.70" y2="357.30" stroke="#666" stroke-width="0.8"/>
<line x1="71.29" y1="360.80" x2="71.29" y2="358.80" stroke="#666" stroke-width="0.8"/>
<line x1="80.41" y1="360.80" x2="80.41" y2="358.80" stroke="#666" stroke-width="0.8"/>
<line x1="86.89" y1="360.80" x2="86.89" y2="358.80" stroke="#666" stroke-width="0.8"/>
<line x1="91.91" y1="360.80" x2="91.91" y2="358.80" stroke="#666" stroke-width="0.8"/>
<line x1="96.01" y1="360.80" x2="96.01" y2="358.80" stroke="#666" stroke-width="0.8"/>
<line x1="99.48" y1="360.80" x2="99.48" y2="358.80" stroke="#666" stroke-width="0.8"/>
<line x1="102.48" y1="360.80" x2="102.48" y2="358.80" stroke="#666" stroke-width="0.8"/>
<line x1="105.13" y1="360.80" x2="105.13" y2="358.80" stroke="#666" stroke-width="0.8"/>
<line x1="107.50" y1="360.80" x2="107.50" y2="357.30" stroke="#666" stroke-width="0.8"/>
<line x1="123.09" y1="360.80" x2="123.09" y2="358.80" stroke="#666" stroke-width="0.8"/>
<line x1="132.21" y1="360.80" x2="132.21" y2="358.80" stroke="#666" stroke-width="0.8"/>
<line x1="138.69" y1="360.80" x2="138.69" y2="358.80" stroke="#666" stroke-width="0.8"/>
<line x1="143.71" y1="360.80" x2="143.71" y2="358.80" stroke="#666" stroke-width="0.8"/>
<line x1="147.81" y1="360.80" x2="147.81" y2="358.80" stroke="#666" stroke-width="0.8"/>
<line x1="151.28" y1="360.80" x2="151.28" y2="358.80" stroke="#666" stroke-width="0.8"/>
<line x1="154.28" y1="360.80" x2="154.28" y2="358.80" stroke="#666" stroke-width="0.8"/>
<line x1="156.93" y1="360.80" x2="156.93" y2="358.80" stroke="#666" stroke-width="0.8"/>
<line x1="159.30" y1="360.80" x2="159.30" y2="357.30" stroke="#666" stroke-width="0.8"/>
<line x1="174.89" y1="360.80" x2="174.89" y2="358.80" stroke="#666" stroke-width="0.8"/>
<line x1="184.01" y1="360.80" x2="184.01" y2="358.80" stroke="#666" stroke-width="0.8"/>
<line x1="190.49" y1="360.80" x2="190.49" y2="358.80" stroke="#666" stroke-width="0.8"/>
<line x1="55.70" y1="134.30" x2="59.20" y2="134.30" stroke="#666" stroke-width="0.8"/>
<line x1="55.70" y1="115.33" x2="59.20" y2="115.33" stroke="#666" stroke-width="0.8"/>
<line x1="55.70" y1="96.37" x2="59.20" y2="96.37" stroke="#666" stroke-width="0.8"/>
<line x1="55.70" y1="77.40" x2="59.20" y2="77.40" stroke="#666" stroke-width="0.8"/>
<line x1="55.70" y1="58.43" x2="59.20" y2="58.43" stroke="#666" stroke-width="0.8"/>
<line x1="55.70" y1="39.47" x2="59.20" y2="39.47" stroke="#666" stroke-width="0.8"/>
<line x1="55.70" y1="20.50" x2="59.20" y2="20.50" stroke="#666" stroke-width="0.8"/>
<line x1="55.70" y1="124.82" x2="57.70" y2="124.82" stroke="#666" stroke-width="0.8"/>
<line x1="55.70" y1="105.85" x2="57.70" y2="105.85" stroke="#666" stroke-width="0.8"/>
<line x1="55.70" y1="86.88" x2="57.70" y2="86.88" stroke="#666" stroke-width="0.8"/>
<line x1="55.70" y1="67.92" x2="57.70" y2="67.92" stroke="#666" stroke-width="0.8"/>
<line x1="55.70" y1="48.95" x2="57.70" y2="48.95" stroke="#666" stroke-width="0.8"/>
<line x1="55.70" y1="29.98" x2="57.70" y2="29.98" stroke="#666" stroke-width="0.8"/>
<line x1="190.70" y1="134.30" x2="187.20" y2="134.30" stroke="#666" stroke-width="0.8"/>
<line x1="190.70" y1="115.33" x2="187.20" y2="115.33" stroke="#666" stroke-width="0.8"/>
<line x1="190.70" y1="96.37" x2="187.20" y2="96.37" stroke="#666" stroke-width="0.8"/>
<line x1="190.70" y1="77.40" x2="187.20" y2="77.40" stroke="#666" stroke-width="0.8"/>
<line x1="190.70" y1="58.43" x2="187.20" y2="58.43" stroke="#666" stroke-width="0.8"/>
<line x1="190.70" y1="39.47" x2="187.20" y2="39.47" stroke="#666" stroke-width="0.8"/>
<line x1="190.70" y1="20.50" x2="187.20" y2="20.50" stroke="#666" stroke-width="0.8"/>
<line x1="190.70" y1="124.82" x2="188.70" y2="124.82" stroke="#666" stroke-width="0.8"/>
<line x1="190.70" y1="105.85" x2="188.70" y2="105.85" stroke="#666" stroke-width="0.8"/>
<line x1="190.70" y1="86.88" x2="188.70" y2="86.88" stroke="#666" stroke-width="0.8"/>
<line x1="190.70" y1="67.92" x2="188.70" y2="67.92" stroke="#666" stroke-width="0.8"/>
<line x1="190.70" y1="48.95" x2="188.70" y2="48.95" stroke="#666" stroke-width="0.8"/>
<line x1="190.70" y1="29.98" x2="188.70" y2="29.98" stroke="#666" stroke-width="0.8"/>
<line x1="55.70" y1="247.60" x2="59.20" y2="247.60" stroke="#666" stroke-width="0.8"/>
<line x1="55.70" y1="202.28" x2="59.20" y2="202.28" stroke="#666" stroke-width="0.8"/>
<line x1="55.70" y1="156.96" x2="59.20" y2="156.96" stroke="#666" stroke-width="0.8"/>
<line x1="55.70" y1="224.94" x2="57.70" y2="224.94" stroke="#666" stroke-width="0.8"/>
<line x1="55.70" y1="179.62" x2="57.70" y2="179.62" stroke="#666" stroke-width="0.8"/>
<line x1="55.70" y1="134.30" x2="57.70" y2="134.30" stroke="#666" stroke-width="0.8"/>
<line x1="190.70" y1="247.60" x2="187.20" y2="247.60" stroke="#666" stroke-width="0.8"/>
<line x1="190.70" y1="202.28" x2="187.20" y2="202.28" stroke="#666" stroke-width="0.8"/>
<line x1="190.70" y1="156.96" x2="187.20" y2="156.96" stroke="#666" stroke-width="0.8"/>
<line x1="190.70" y1="224.94" x2="188.70" y2="224.94" stroke="#666" stroke-width="0.8"/>
<line x1="190.70" y1="179.62" x2="188.70" y2="179.62" stroke="#666" stroke-width="0.8"/>
<line x1="190.70" y1="134.30" x2="188.70" y2="134.30" stroke="#666" stroke-width="0.8"/>
<line x1="55.70" y1="254.07" x2="59.20" y2="254.07" stroke="#666" stroke-width="0.8"/>
<line x1="55.70" y1="286.41" x2="59.20" y2="286.41" stroke="#666" stroke-width="0.8"/>
<line x1="55.70" y1="318.75" x2="59.20" y2="318.75" stroke="#666" stroke-width="0.8"/>
<line x1="55.70" y1="351.09" x2="59.20" y2="351.09" stroke="#666" stroke-width="0.8"/>
<line x1="55.70" y1="270.24" x2="57.70" y2="270.24" stroke="#666" stroke-width="0.8"/>
<line x1="55.70" y1="302.58" x2="57.70" y2="302.58" stroke="#666" stroke-width="0.8"/>
<line x1="55.70" y1="334.92" x2="57.70" y2="334.92" stroke="#666" stroke-width="0.8"/>
<line x1="190.70" y1="254.07" x2="187.20" y2="254.07" stroke="#666" stroke-width="0.8"/>
<line x1="190.70" y1="286.41" x2="187.20" y2="286.41" stroke="#666" stroke-width="0.8"/>
<line x1="190.70" y1="318.75" x2="187.20" y2="318.75" stroke="#666" stroke-width="0.8"/>
<line x1="190.70" y1="351.09" x2="187.20" y2="351.09" stroke="#666" stroke-width="0.8"/>
<line x1="190.70" y1="270.24" x2="188.70" y2="270.24" stroke="#666" stroke-width="0.8"/>
<line x1="190.70" y1="302.58" x2="188.70" y2="302.58" stroke="#666" stroke-width="0.8"/>
<line x1="190.70" y1="334.92" x2="188.70" y2="334.92" stroke="#666" stroke-width="0.8"/>
<line x1="253.00" y1="23.30" x2="386.80" y2="23.30" stroke="#666" stroke-width="1.25"/>
<line x1="253.00" y1="136.50" x2="386.80" y2="136.50" stroke="#666" stroke-width="1.25"/>
<line x1="253.00" y1="250.30" x2="386.80" y2="250.30" stroke="#666" stroke-width="1.25"/>
<line x1="253.00" y1="363.40" x2="386.80" y2="363.40" stroke="#666" stroke-width="1.25"/>
<line x1="253.00" y1="23.30" x2="253.00" y2="363.40" stroke="#666" stroke-width="1.25"/>
<line x1="387.4" y1="23.30" x2="387.4" y2="363.40" stroke="#999" stroke-width="1.2"/>
<line x1="253.00" y1="23.30" x2="253.00" y2="26.80" stroke="#666" stroke-width="0.8"/>
<line x1="268.56" y1="23.30" x2="268.56" y2="25.30" stroke="#666" stroke-width="0.8"/>
<line x1="277.67" y1="23.30" x2="277.67" y2="25.30" stroke="#666" stroke-width="0.8"/>
<line x1="284.13" y1="23.30" x2="284.13" y2="25.30" stroke="#666" stroke-width="0.8"/>
<line x1="289.14" y1="23.30" x2="289.14" y2="25.30" stroke="#666" stroke-width="0.8"/>
<line x1="293.23" y1="23.30" x2="293.23" y2="25.30" stroke="#666" stroke-width="0.8"/>
<line x1="296.69" y1="23.30" x2="296.69" y2="25.30" stroke="#666" stroke-width="0.8"/>
<line x1="299.69" y1="23.30" x2="299.69" y2="25.30" stroke="#666" stroke-width="0.8"/>
<line x1="302.33" y1="23.30" x2="302.33" y2="25.30" stroke="#666" stroke-width="0.8"/>
<line x1="304.70" y1="23.30" x2="304.70" y2="26.80" stroke="#666" stroke-width="0.8"/>
<line x1="320.26" y1="23.30" x2="320.26" y2="25.30" stroke="#666" stroke-width="0.8"/>
<line x1="329.37" y1="23.30" x2="329.37" y2="25.30" stroke="#666" stroke-width="0.8"/>
<line x1="335.83" y1="23.30" x2="335.83" y2="25.30" stroke="#666" stroke-width="0.8"/>
<line x1="340.84" y1="23.30" x2="340.84" y2="25.30" stroke="#666" stroke-width="0.8"/>
<line x1="344.93" y1="23.30" x2="344.93" y2="25.30" stroke="#666" stroke-width="0.8"/>
<line x1="348.39" y1="23.30" x2="348.39" y2="25.30" stroke="#666" stroke-width="0.8"/>
<line x1="351.39" y1="23.30" x2="351.39" y2="25.30" stroke="#666" stroke-width="0.8"/>
<line x1="354.03" y1="23.30" x2="354.03" y2="25.30" stroke="#666" stroke-width="0.8"/>
<line x1="356.40" y1="23.30" x2="356.40" y2="26.80" stroke="#666" stroke-width="0.8"/>
<line x1="371.96" y1="23.30" x2="371.96" y2="25.30" stroke="#666" stroke-width="0.8"/>
<line x1="381.07" y1="23.30" x2="381.07" y2="25.30" stroke="#666" stroke-width="0.8"/>
<line x1="253.00" y1="136.50" x2="253.00" y2="133.00" stroke="#666" stroke-width="0.8"/>
<line x1="268.56" y1="136.50" x2="268.56" y2="134.50" stroke="#666" stroke-width="0.8"/>
<line x1="277.67" y1="136.50" x2="277.67" y2="134.50" stroke="#666" stroke-width="0.8"/>
<line x1="284.13" y1="136.50" x2="284.13" y2="134.50" stroke="#666" stroke-width="0.8"/>
<line x1="289.14" y1="136.50" x2="289.14" y2="134.50" stroke="#666" stroke-width="0.8"/>
<line x1="293.23" y1="136.50" x2="293.23" y2="134.50" stroke="#666" stroke-width="0.8"/>
<line x1="296.69" y1="136.50" x2="296.69" y2="134.50" stroke="#666" stroke-width="0.8"/>
<line x1="299.69" y1="136.50" x2="299.69" y2="134.50" stroke="#666" stroke-width="0.8"/>
<line x1="302.33" y1="136.50" x2="302.33" y2="134.50" stroke="#666" stroke-width="0.8"/>
<line x1="304.70" y1="136.50" x2="304.70" y2="133.00" stroke="#666" stroke-width="0.8"/>
<line x1="320.26" y1="136.50" x2="320.26" y2="134.50" stroke="#666" stroke-width="0.8"/>
<line x1="329.37" y1="136.50" x2="329.37" y2="134.50" stroke="#666" stroke-width="0.8"/>
<line x1="335.83" y1="136.50" x2="335.83" y2="134.50" stroke="#666" stroke-width="0.8"/>
<line x1="340.84" y1="136.50" x2="340.84" y2="134.50" stroke="#666" stroke-width="0.8"/>
<line x1="344.93" y1="136.50" x2="344.93" y2="134.50" stroke="#666" stroke-width="0.8"/>
<line x1="348.39" y1="136.50" x2="348.39" y2="134.50" stroke="#666" stroke-width="0.8"/>
<line x1="351.39" y1="136.50" x2="351.39" y2="134.50" stroke="#666" stroke-width="0.8"/>
<line x1="354.03" y1="136.50" x2="354.03" y2="134.50" stroke="#666" stroke-width="0.8"/>
<line x1="356.40" y1="136.50" x2="356.40" y2="133.00" stroke="#666" stroke-width="0.8"/>
<line x1="371.96" y1="136.50" x2="371.96" y2="134.50" stroke="#666" stroke-width="0.8"/>
<line x1="381.07" y1="136.50" x2="381.07" y2="134.50" stroke="#666" stroke-width="0.8"/>
<line x1="253.00" y1="250.30" x2="253.00" y2="246.80" stroke="#666" stroke-width="0.8"/>
<line x1="268.56" y1="250.30" x2="268.56" y2="248.30" stroke="#666" stroke-width="0.8"/>
<line x1="277.67" y1="250.30" x2="277.67" y2="248.30" stroke="#666" stroke-width="0.8"/>
<line x1="284.13" y1="250.30" x2="284.13" y2="248.30" stroke="#666" stroke-width="0.8"/>
<line x1="289.14" y1="250.30" x2="289.14" y2="248.30" stroke="#666" stroke-width="0.8"/>
<line x1="293.23" y1="250.30" x2="293.23" y2="248.30" stroke="#666" stroke-width="0.8"/>
<line x1="296.69" y1="250.30" x2="296.69" y2="248.30" stroke="#666" stroke-width="0.8"/>
<line x1="299.69" y1="250.30" x2="299.69" y2="248.30" stroke="#666" stroke-width="0.8"/>
<line x1="302.33" y1="250.30" x2="302.33" y2="248.30" stroke="#666" stroke-width="0.8"/>
<line x1="304.70" y1="250.30" x2="304.70" y2="246.80" stroke="#666" stroke-width="0.8"/>
<line x1="320.26" y1="250.30" x2="320.26" y2="248.30" stroke="#666" stroke-width="0.8"/>
<line x1="329.37" y1="250.30" x2="329.37" y2="248.30" stroke="#666" stroke-width="0.8"/>
<line x1="335.83" y1="250.30" x2="335.83" y2="248.30" stroke="#666" stroke-width="0.8"/>
<line x1="340.84" y1="250.30" x2="340.84" y2="248.30" stroke="#666" stroke-width="0.8"/>
<line x1="344.93" y1="250.30" x2="344.93" y2="248.30" stroke="#666" stroke-width="0.8"/>
<line x1="348.39" y1="250.30" x2="348.39" y2="248.30" stroke="#666" stroke-width="0.8"/>
<line x1="351.39" y1="250.30" x2="351.39" y2="248.30" stroke="#666" stroke-width="0.8"/>
<line x1="354.03" y1="250.30" x2="354.03" y2="248.30" stroke="#666" stroke-width="0.8"/>
<line x1="356.40" y1="250.30" x2="356.40" y2="246.80" stroke="#666" stroke-width="0.8"/>
<line x1="371.96" y1="250.30" x2="371.96" y2="248.30" stroke="#666" stroke-width="0.8"/>
<line x1="381.07" y1="250.30" x2="381.07" y2="248.30" stroke="#666" stroke-width="0.8"/>
<line x1="253.00" y1="363.40" x2="253.00" y2="359.90" stroke="#666" stroke-width="0.8"/>
<line x1="268.56" y1="363.40" x2="268.56" y2="361.40" stroke="#666" stroke-width="0.8"/>
<line x1="277.67" y1="363.40" x2="277.67" y2="361.40" stroke="#666" stroke-width="0.8"/>
<line x1="284.13" y1="363.40" x2="284.13" y2="361.40" stroke="#666" stroke-width="0.8"/>
<line x1="289.14" y1="363.40" x2="289.14" y2="361.40" stroke="#666" stroke-width="0.8"/>
<line x1="293.23" y1="363.40" x2="293.23" y2="361.40" stroke="#666" stroke-width="0.8"/>
<line x1="296.69" y1="363.40" x2="296.69" y2="361.40" stroke="#666" stroke-width="0.8"/>
<line x1="299.69" y1="363.40" x2="299.69" y2="361.40" stroke="#666" stroke-width="0.8"/>
<line x1="302.33" y1="363.40" x2="302.33" y2="361.40" stroke="#666" stroke-width="0.8"/>
<line x1="304.70" y1="363.40" x2="304.70" y2="359.90" stroke="#666" stroke-width="0.8"/>
<line x1="320.26" y1="363.40" x2="320.26" y2="361.40" stroke="#666" stroke-width="0.8"/>
<line x1="329.37" y1="363.40" x2="329.37" y2="361.40" stroke="#666" stroke-width="0.8"/>
<line x1="335.83" y1="363.40" x2="335.83" y2="361.40" stroke="#666" stroke-width="0.8"/>
<line x1="340.84" y1="363.40" x2="340.84" y2="361.40" stroke="#666" stroke-width="0.8"/>
<line x1="344.93" y1="363.40" x2="344.93" y2="361.40" stroke="#666" stroke-width="0.8"/>
<line x1="348.39" y1="363.40" x2="348.39" y2="361.40" stroke="#666" stroke-width="0.8"/>
<line x1="351.39" y1="363.40" x2="351.39" y2="361.40" stroke="#666" stroke-width="0.8"/>
<line x1="354.03" y1="363.40" x2="354.03" y2="361.40" stroke="#666" stroke-width="0.8"/>
<line x1="356.40" y1="363.40" x2="356.40" y2="359.90" stroke="#666" stroke-width="0.8"/>
<line x1="371.96" y1="363.40" x2="371.96" y2="361.40" stroke="#666" stroke-width="0.8"/>
<line x1="381.07" y1="363.40" x2="381.07" y2="361.40" stroke="#666" stroke-width="0.8"/>
<line x1="253.00" y1="128.80" x2="256.50" y2="128.80" stroke="#666" stroke-width="0.8"/>
<line x1="253.00" y1="110.30" x2="256.50" y2="110.30" stroke="#666" stroke-width="0.8"/>
<line x1="253.00" y1="91.80" x2="256.50" y2="91.80" stroke="#666" stroke-width="0.8"/>
<line x1="253.00" y1="73.30" x2="256.50" y2="73.30" stroke="#666" stroke-width="0.8"/>
<line x1="253.00" y1="54.80" x2="256.50" y2="54.80" stroke="#666" stroke-width="0.8"/>
<line x1="253.00" y1="36.30" x2="256.50" y2="36.30" stroke="#666" stroke-width="0.8"/>
<line x1="253.00" y1="136.16" x2="255.00" y2="136.16" stroke="#666" stroke-width="0.8"/>
<line x1="253.00" y1="134.37" x2="255.00" y2="134.37" stroke="#666" stroke-width="0.8"/>
<line x1="253.00" y1="132.90" x2="255.00" y2="132.90" stroke="#666" stroke-width="0.8"/>
<line x1="253.00" y1="131.67" x2="255.00" y2="131.67" stroke="#666" stroke-width="0.8"/>
<line x1="253.00" y1="130.59" x2="255.00" y2="130.59" stroke="#666" stroke-width="0.8"/>
<line x1="253.00" y1="129.65" x2="255.00" y2="129.65" stroke="#666" stroke-width="0.8"/>
<line x1="253.00" y1="123.23" x2="255.00" y2="123.23" stroke="#666" stroke-width="0.8"/>
<line x1="253.00" y1="119.97" x2="255.00" y2="119.97" stroke="#666" stroke-width="0.8"/>
<line x1="253.00" y1="117.66" x2="255.00" y2="117.66" stroke="#666" stroke-width="0.8"/>
<line x1="253.00" y1="115.87" x2="255.00" y2="115.87" stroke="#666" stroke-width="0.8"/>
<line x1="253.00" y1="114.40" x2="255.00" y2="114.40" stroke="#666" stroke-width="0.8"/>
<line x1="253.00" y1="113.17" x2="255.00" y2="113.17" stroke="#666" stroke-width="0.8"/>
<line x1="253.00" y1="112.09" x2="255.00" y2="112.09" stroke="#666" stroke-width="0.8"/>
<line x1="253.00" y1="111.15" x2="255.00" y2="111.15" stroke="#666" stroke-width="0.8"/>
<line x1="253.00" y1="104.73" x2="255.00" y2="104.73" stroke="#666" stroke-width="0.8"/>
<line x1="253.00" y1="101.47" x2="255.00" y2="101.47" stroke="#666" stroke-width="0.8"/>
<line x1="253.00" y1="99.16" x2="255.00" y2="99.16" stroke="#666" stroke-width="0.8"/>
<line x1="253.00" y1="97.37" x2="255.00" y2="97.37" stroke="#666" stroke-width="0.8"/>
<line x1="253.00" y1="95.90" x2="255.00" y2="95.90" stroke="#666" stroke-width="0.8"/>
<line x1="253.00" y1="94.67" x2="255.00" y2="94.67" stroke="#666" stroke-width="0.8"/>
<line x1="253.00" y1="93.59" x2="255.00" y2="93.59" stroke="#666" stroke-width="0.8"/>
<line x1="253.00" y1="92.65" x2="255.00" y2="92.65" stroke="#666" stroke-width="0.8"/>
<line x1="253.00" y1="86.23" x2="255.00" y2="86.23" stroke="#666" stroke-width="0.8"/>
<line x1="253.00" y1="82.97" x2="255.00" y2="82.97" stroke="#666" stroke-width="0.8"/>
<line x1="253.00" y1="80.66" x2="255.00" y2="80.66" stroke="#666" stroke-width="0.8"/>
<line x1="253.00" y1="78.87" x2="255.00" y2="78.87" stroke="#666" stroke-width="0.8"/>
<line x1="253.00" y1="77.40" x2="255.00" y2="77.40" stroke="#666" stroke-width="0.8"/>
<line x1="253.00" y1="76.17" x2="255.00" y2="76.17" stroke="#666" stroke-width="0.8"/>
<line x1="253.00" y1="75.09" x2="255.00" y2="75.09" stroke="#666" stroke-width="0.8"/>
<line x1="253.00" y1="74.15" x2="255.00" y2="74.15" stroke="#666" stroke-width="0.8"/>
<line x1="253.00" y1="67.73" x2="255.00" y2="67.73" stroke="#666" stroke-width="0.8"/>
<line x1="253.00" y1="64.47" x2="255.00" y2="64.47" stroke="#666" stroke-width="0.8"/>
<line x1="253.00" y1="62.16" x2="255.00" y2="62.16" stroke="#666" stroke-width="0.8"/>
<line x1="253.00" y1="60.37" x2="255.00" y2="60.37" stroke="#666" stroke-width="0.8"/>
<line x1="253.00" y1="58.90" x2="255.00" y2="58.90" stroke="#666" stroke-width="0.8"/>
<line x1="253.00" y1="57.67" x2="255.00" y2="57.67" stroke="#666" stroke-width="0.8"/>
<line x1="253.00" y1="56.59" x2="255.00" y2="56.59" stroke="#666" stroke-width="0.8"/>
<line x1="253.00" y1="55.65" x2="255.00" y2="55.65" stroke="#666" stroke-width="0.8"/>
<line x1="253.00" y1="49.23" x2="255.00" y2="49.23" stroke="#666" stroke-width="0.8"/>
<line x1="253.00" y1="45.97" x2="255.00" y2="45.97" stroke="#666" stroke-width="0.8"/>
<line x1="253.00" y1="43.66" x2="255.00" y2="43.66" stroke="#666" stroke-width="0.8"/>
<line x1="253.00" y1="41.87" x2="255.00" y2="41.87" stroke="#666" stroke-width="0.8"/>
<line x1="253.00" y1="40.40" x2="255.00" y2="40.40" stroke="#666" stroke-width="0.8"/>
<line x1="253.00" y1="39.17" x2="255.00" y2="39.17" stroke="#666" stroke-width="0.8"/>
<line x1="253.00" y1="38.09" x2="255.00" y2="38.09" stroke="#666" stroke-width="0.8"/>
<line x1="253.00" y1="37.15" x2="255.00" y2="37.15" stroke="#666" stroke-width="0.8"/>
<line x1="253.00" y1="30.73" x2="255.00" y2="30.73" stroke="#666" stroke-width="0.8"/>
<line x1="253.00" y1="27.47" x2="255.00" y2="27.47" stroke="#666" stroke-width="0.8"/>
<line x1="253.00" y1="25.16" x2="255.00" y2="25.16" stroke="#666" stroke-width="0.8"/>
<line x1="253.00" y1="23.37" x2="255.00" y2="23.37" stroke="#666" stroke-width="0.8"/>
<line x1="253.00" y1="160.10" x2="256.50" y2="160.10" stroke="#666" stroke-width="0.8"/>
<line x1="253.00" y1="192.60" x2="256.50" y2="192.60" stroke="#666" stroke-width="0.8"/>
<line x1="253.00" y1="139.10" x2="255.00" y2="139.10" stroke="#666" stroke-width="0.8"/>
<line x1="253.00" y1="141.40" x2="255.00" y2="141.40" stroke="#666" stroke-width="0.8"/>
<line x1="253.00" y1="143.70" x2="255.00" y2="143.70" stroke="#666" stroke-width="0.8"/>
<line x1="253.00" y1="146.00" x2="255.00" y2="146.00" stroke="#666" stroke-width="0.8"/>
<line x1="253.00" y1="148.30" x2="255.00" y2="148.30" stroke="#666" stroke-width="0.8"/>
<line x1="253.00" y1="150.60" x2="255.00" y2="150.60" stroke="#666" stroke-width="0.8"/>
<line x1="253.00" y1="152.90" x2="255.00" y2="152.90" stroke="#666" stroke-width="0.8"/>
<line x1="253.00" y1="155.20" x2="255.00" y2="155.20" stroke="#666" stroke-width="0.8"/>
<line x1="253.00" y1="157.50" x2="255.00" y2="157.50" stroke="#666" stroke-width="0.8"/>
<line x1="253.00" y1="159.80" x2="255.00" y2="159.80" stroke="#666" stroke-width="0.8"/>
<line x1="253.00" y1="164.00" x2="255.00" y2="164.00" stroke="#666" stroke-width="0.8"/>
<line x1="253.00" y1="167.20" x2="255.00" y2="167.20" stroke="#666" stroke-width="0.8"/>
<line x1="253.00" y1="170.40" x2="255.00" y2="170.40" stroke="#666" stroke-width="0.8"/>
<line x1="253.00" y1="173.60" x2="255.00" y2="173.60" stroke="#666" stroke-width="0.8"/>
<line x1="253.00" y1="176.80" x2="255.00" y2="176.80" stroke="#666" stroke-width="0.8"/>
<line x1="253.00" y1="180.00" x2="255.00" y2="180.00" stroke="#666" stroke-width="0.8"/>
<line x1="253.00" y1="183.20" x2="255.00" y2="183.20" stroke="#666" stroke-width="0.8"/>
<line x1="253.00" y1="186.40" x2="255.00" y2="186.40" stroke="#666" stroke-width="0.8"/>
<line x1="253.00" y1="189.60" x2="255.00" y2="189.60" stroke="#666" stroke-width="0.8"/>
<line x1="253.00" y1="207.70" x2="255.00" y2="207.70" stroke="#666" stroke-width="0.8"/>
<line x1="253.00" y1="215.80" x2="255.00" y2="215.80" stroke="#666" stroke-width="0.8"/>
<line x1="253.00" y1="225.10" x2="255.00" y2="225.10" stroke="#666" stroke-width="0.8"/>
<line x1="253.00" y1="236.70" x2="255.00" y2="236.70" stroke="#666" stroke-width="0.8"/>
<line x1="253.00" y1="345.80" x2="256.50" y2="345.80" stroke="#666" stroke-width="0.8"/>
<line x1="253.00" y1="285.80" x2="256.50" y2="285.80" stroke="#666" stroke-width="0.8"/>
<line x1="253.00" y1="359.11" x2="255.00" y2="359.11" stroke="#666" stroke-width="0.8"/>
<line x1="253.00" y1="355.09" x2="255.00" y2="355.09" stroke="#666" stroke-width="0.8"/>
<line x1="253.00" y1="351.61" x2="255.00" y2="351.61" stroke="#666" stroke-width="0.8"/>
<line x1="253.00" y1="348.55" x2="255.00" y2="348.55" stroke="#666" stroke-width="0.8"/>
<line x1="253.00" y1="327.74" x2="255.00" y2="327.74" stroke="#666" stroke-width="0.8"/>
<line x1="253.00" y1="317.17" x2="255.00" y2="317.17" stroke="#666" stroke-width="0.8"/>
<line x1="253.00" y1="309.68" x2="255.00" y2="309.68" stroke="#666" stroke-width="0.8"/>
<line x1="253.00" y1="303.86" x2="255.00" y2="303.86" stroke="#666" stroke-width="0.8"/>
<line x1="253.00" y1="299.11" x2="255.00" y2="299.11" stroke="#666" stroke-width="0.8"/>
<line x1="253.00" y1="295.09" x2="255.00" y2="295.09" stroke="#666" stroke-width="0.8"/>
<line x1="253.00" y1="291.61" x2="255.00" y2="291.61" stroke="#666" stroke-width="0.8"/>
<line x1="253.00" y1="288.55" x2="255.00" y2="288.55" stroke="#666" stroke-width="0.8"/>
<line x1="253.00" y1="267.74" x2="255.00" y2="267.74" stroke="#666" stroke-width="0.8"/>
<line x1="253.00" y1="257.17" x2="255.00" y2="257.17" stroke="#666" stroke-width="0.8"/>
<text x="52.50" y="26.00" class="tk" text-anchor="end">100</text>
<text x="52.50" y="45.00" class="tk" text-anchor="end">80</text>
<text x="52.50" y="64.00" class="tk" text-anchor="end">60</text>
<text x="52.50" y="83.00" class="tk" text-anchor="end">40</text>
<text x="52.50" y="101.90" class="tk" text-anchor="end">20</text>
<text x="52.50" y="139.80" class="tk" text-anchor="end">-20</text>
<text x="52.50" y="162.50" class="tk" text-anchor="end">10</text>
<text x="52.50" y="207.80" class="tk" text-anchor="end">0</text>
<text x="52.50" y="253.10" class="tk" text-anchor="end">-10</text>
<text x="52.50" y="292.10" class="tk" text-anchor="end">-1000</text>
<text x="52.50" y="323.60" class="tk" text-anchor="end">-2000</text>
<text x="52.50" y="356.70" class="tk" text-anchor="end">-3000</text>
<text x="56.30" y="14.20" class="tk" text-anchor="middle">10<tspan class="sup" dy="-6.7">2</tspan></text>
<text x="56.30" y="381.00" class="tk" text-anchor="middle">10<tspan class="sup" dy="-6.7">2</tspan></text>
<text x="253.30" y="17.70" class="tk" text-anchor="middle">10<tspan class="sup" dy="-6.7">2</tspan></text>
<text x="253.30" y="383.50" class="tk" text-anchor="middle">10<tspan class="sup" dy="-6.7">2</tspan></text>
<text x="108.10" y="14.20" class="tk" text-anchor="middle">10<tspan class="sup" dy="-6.7">3</tspan></text>
<text x="108.10" y="381.00" class="tk" text-anchor="middle">10<tspan class="sup" dy="-6.7">3</tspan></text>
<text x="305.00" y="17.70" class="tk" text-anchor="middle">10<tspan class="sup" dy="-6.7">3</tspan></text>
<text x="305.00" y="383.50" class="tk" text-anchor="middle">10<tspan class="sup" dy="-6.7">3</tspan></text>
<text x="159.90" y="14.20" class="tk" text-anchor="middle">10<tspan class="sup" dy="-6.7">4</tspan></text>
<text x="159.90" y="381.00" class="tk" text-anchor="middle">10<tspan class="sup" dy="-6.7">4</tspan></text>
<text x="356.70" y="17.70" class="tk" text-anchor="middle">10<tspan class="sup" dy="-6.7">4</tspan></text>
<text x="356.70" y="383.50" class="tk" text-anchor="middle">10<tspan class="sup" dy="-6.7">4</tspan></text>
<text x="250.00" y="42.70" class="tk" text-anchor="end">10<tspan class="sup" dy="-6.7">5</tspan></text>
<text x="250.00" y="79.80" class="tk" text-anchor="end">10<tspan class="sup" dy="-6.7">3</tspan></text>
<text x="250.00" y="117.00" class="tk" text-anchor="end">10<tspan class="sup" dy="-6.7">1</tspan></text>
<text x="250.00" y="144.50" class="tk" text-anchor="end">3x10<tspan class="sup" dy="-6.7">5</tspan></text>
<text x="250.00" y="168.40" class="tk" text-anchor="end">2x10<tspan class="sup" dy="-6.7">5</tspan></text>
<text x="250.00" y="200.00" class="tk" text-anchor="end">1x10<tspan class="sup" dy="-6.7">5</tspan></text>
<text x="250.00" y="257.70" class="tk" text-anchor="end">7x10<tspan class="sup" dy="-6.7">4</tspan></text>
<text x="250.00" y="292.80" class="tk" text-anchor="end">10<tspan class="sup" dy="-6.7">6</tspan></text>
<text x="250.00" y="352.80" class="tk" text-anchor="end">10<tspan class="sup" dy="-6.7">5</tspan></text>
<text x="66.2" y="402.1" class="tt">Frequency (cm<tspan class="sup" dy="-6.7">-1</tspan><tspan dy="6.7">)</tspan></text>
<text x="262.4" y="404.5" class="tt">Frequency (cm<tspan class="sup" dy="-6.7">-1</tspan><tspan dy="6.7">)</tspan></text>
<text transform="translate(11.8 247) rotate(-90)" class="tt">Dielectric constant ε<tspan class="sub" dy="4">1</tspan></text>
<text transform="translate(206.0 265.6) rotate(-90)" class="tt" style="font-size:16.9px">Conductivity σ' (Ω<tspan class="sup" dy="-6.7">-1</tspan><tspan dy="6.7">.m</tspan><tspan class="sup" dy="-6.7">-1</tspan><tspan dy="6.7">)</tspan></text>
</svg></body></html>
